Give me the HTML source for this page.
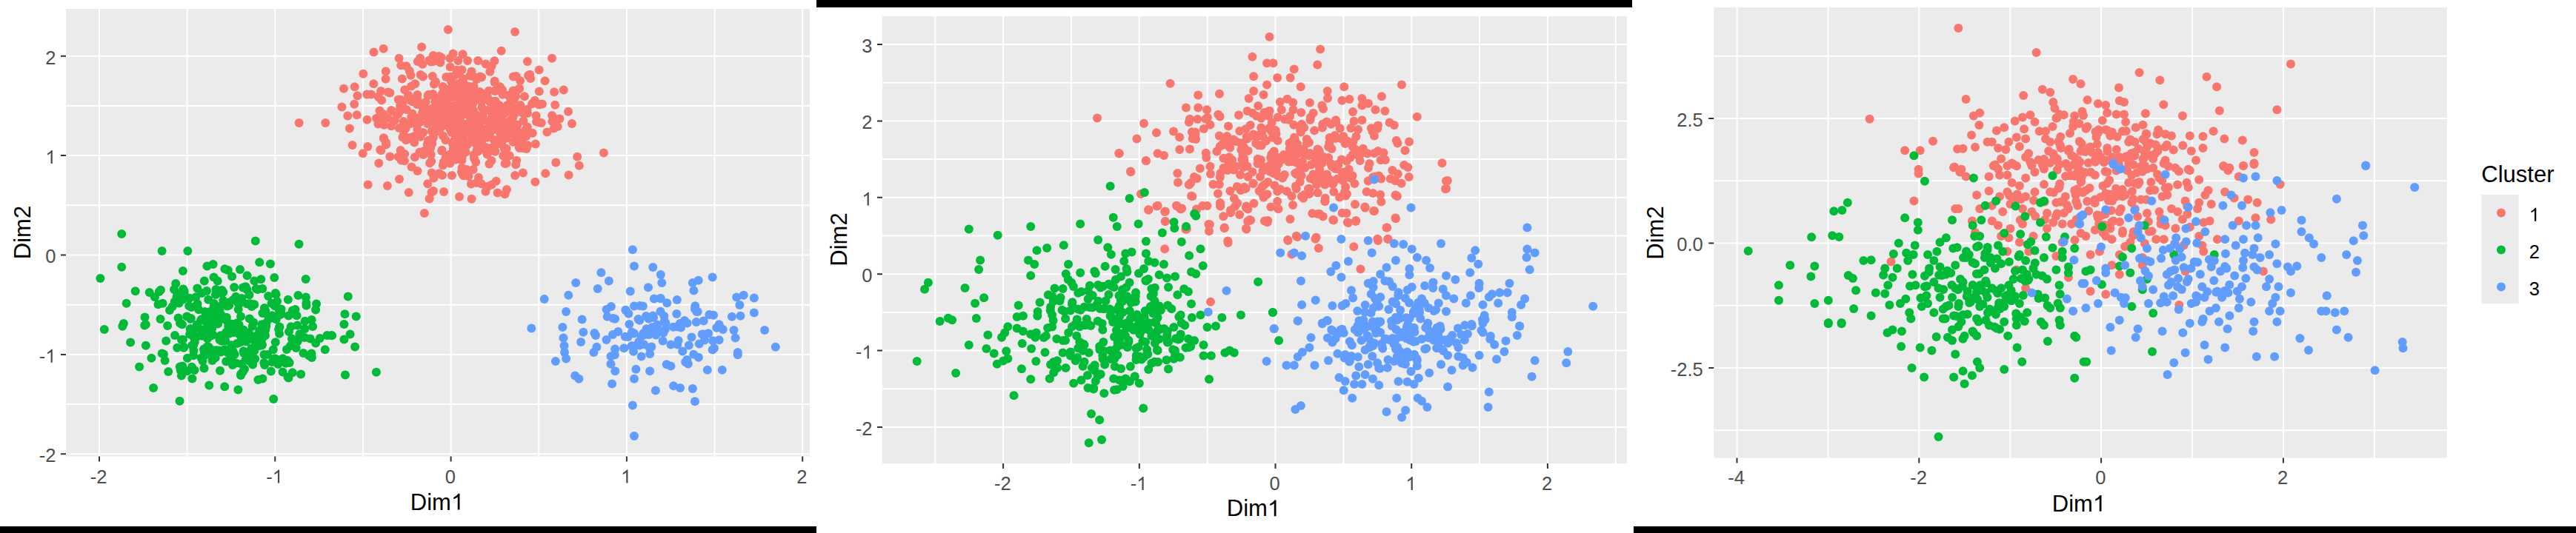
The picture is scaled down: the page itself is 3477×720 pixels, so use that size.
<!DOCTYPE html><html><head><meta charset="utf-8"><style>html,body{margin:0;padding:0;background:#fff;overflow:hidden}svg{display:block}</style></head><body>
<svg width="3477" height="720" viewBox="0 0 3477 720" font-family='"Liberation Sans", sans-serif'>
<rect width="3477" height="720" fill="#fff"/>
<rect x="89" y="12" width="1004.00" height="604.50" fill="#EBEBEB"/>
<path d="M252.65 12V616.5M489.95 12V616.5M727.25 12V616.5M964.55 12V616.5M89 546.10H1093M89 411.70H1093M89 277.30H1093M89 142.90H1093" stroke="#fff" stroke-width="2.0" fill="none"/>
<path d="M134.00 12V616.5M371.30 12V616.5M608.60 12V616.5M845.90 12V616.5M1083.20 12V616.5M89 613.30H1093M89 478.90H1093M89 344.50H1093M89 210.10H1093M89 75.70H1093" stroke="#fff" stroke-width="2.0" fill="none"/>
<svg x="89" y="12" width="1004.00" height="604.50" viewBox="89 12 1004.00 604.50" overflow="hidden">
<g fill="#F8766D">
<circle cx="626.1" cy="183.1" r="6"/>
<circle cx="608.5" cy="130.8" r="6"/>
<circle cx="596.9" cy="126.4" r="6"/>
<circle cx="629.8" cy="229.0" r="6"/>
<circle cx="594.5" cy="142.7" r="6"/>
<circle cx="657.3" cy="185.7" r="6"/>
<circle cx="632.7" cy="129.1" r="6"/>
<circle cx="624.1" cy="200.6" r="6"/>
<circle cx="540.0" cy="149.9" r="6"/>
<circle cx="504.3" cy="113.3" r="6"/>
<circle cx="508.1" cy="159.7" r="6"/>
<circle cx="544.9" cy="181.9" r="6"/>
<circle cx="636.0" cy="161.8" r="6"/>
<circle cx="622.9" cy="175.0" r="6"/>
<circle cx="528.1" cy="149.0" r="6"/>
<circle cx="563.4" cy="134.4" r="6"/>
<circle cx="693.9" cy="134.5" r="6"/>
<circle cx="623.9" cy="208.9" r="6"/>
<circle cx="588.6" cy="165.1" r="6"/>
<circle cx="633.1" cy="172.8" r="6"/>
<circle cx="547.6" cy="173.4" r="6"/>
<circle cx="713.0" cy="101.9" r="6"/>
<circle cx="681.0" cy="175.3" r="6"/>
<circle cx="584.9" cy="258.0" r="6"/>
<circle cx="674.8" cy="117.2" r="6"/>
<circle cx="630.8" cy="195.4" r="6"/>
<circle cx="613.9" cy="200.0" r="6"/>
<circle cx="621.7" cy="199.4" r="6"/>
<circle cx="718.1" cy="140.3" r="6"/>
<circle cx="639.0" cy="149.6" r="6"/>
<circle cx="634.1" cy="117.8" r="6"/>
<circle cx="588.9" cy="161.4" r="6"/>
<circle cx="683.5" cy="220.4" r="6"/>
<circle cx="541.3" cy="135.0" r="6"/>
<circle cx="667.4" cy="82.3" r="6"/>
<circle cx="596.4" cy="165.7" r="6"/>
<circle cx="706.4" cy="200.3" r="6"/>
<circle cx="605.1" cy="153.8" r="6"/>
<circle cx="610.0" cy="237.0" r="6"/>
<circle cx="598.6" cy="156.6" r="6"/>
<circle cx="648.6" cy="164.7" r="6"/>
<circle cx="613.4" cy="121.0" r="6"/>
<circle cx="625.3" cy="150.5" r="6"/>
<circle cx="700.6" cy="198.7" r="6"/>
<circle cx="624.5" cy="199.4" r="6"/>
<circle cx="604.2" cy="216.3" r="6"/>
<circle cx="625.7" cy="195.7" r="6"/>
<circle cx="543.4" cy="185.3" r="6"/>
<circle cx="606.5" cy="130.4" r="6"/>
<circle cx="636.5" cy="268.8" r="6"/>
<circle cx="572.8" cy="142.5" r="6"/>
<circle cx="639.1" cy="191.7" r="6"/>
<circle cx="614.7" cy="160.9" r="6"/>
<circle cx="671.0" cy="192.9" r="6"/>
<circle cx="559.8" cy="166.5" r="6"/>
<circle cx="628.3" cy="123.6" r="6"/>
<circle cx="642.6" cy="132.2" r="6"/>
<circle cx="688.2" cy="178.5" r="6"/>
<circle cx="631.7" cy="144.0" r="6"/>
<circle cx="618.4" cy="82.1" r="6"/>
<circle cx="553.6" cy="186.0" r="6"/>
<circle cx="489.8" cy="207.3" r="6"/>
<circle cx="514.2" cy="203.3" r="6"/>
<circle cx="571.9" cy="204.3" r="6"/>
<circle cx="634.4" cy="102.4" r="6"/>
<circle cx="705.9" cy="233.4" r="6"/>
<circle cx="621.8" cy="157.9" r="6"/>
<circle cx="615.8" cy="127.1" r="6"/>
<circle cx="696.3" cy="146.1" r="6"/>
<circle cx="622.7" cy="135.1" r="6"/>
<circle cx="585.9" cy="113.8" r="6"/>
<circle cx="706.5" cy="163.2" r="6"/>
<circle cx="687.8" cy="170.6" r="6"/>
<circle cx="581.6" cy="155.6" r="6"/>
<circle cx="590.1" cy="170.4" r="6"/>
<circle cx="602.0" cy="156.8" r="6"/>
<circle cx="537.8" cy="134.5" r="6"/>
<circle cx="731.9" cy="140.5" r="6"/>
<circle cx="558.5" cy="184.8" r="6"/>
<circle cx="716.1" cy="106.0" r="6"/>
<circle cx="612.7" cy="142.2" r="6"/>
<circle cx="513.3" cy="202.3" r="6"/>
<circle cx="624.5" cy="173.1" r="6"/>
<circle cx="577.9" cy="190.0" r="6"/>
<circle cx="591.5" cy="163.7" r="6"/>
<circle cx="555.1" cy="116.5" r="6"/>
<circle cx="711.5" cy="147.7" r="6"/>
<circle cx="644.7" cy="168.5" r="6"/>
<circle cx="597.8" cy="147.6" r="6"/>
<circle cx="666.3" cy="156.7" r="6"/>
<circle cx="616.3" cy="171.0" r="6"/>
<circle cx="701.3" cy="199.9" r="6"/>
<circle cx="650.5" cy="145.2" r="6"/>
<circle cx="537.6" cy="211.8" r="6"/>
<circle cx="687.9" cy="163.8" r="6"/>
<circle cx="660.7" cy="204.4" r="6"/>
<circle cx="679.2" cy="210.5" r="6"/>
<circle cx="596.8" cy="236.7" r="6"/>
<circle cx="546.2" cy="207.9" r="6"/>
<circle cx="657.6" cy="208.4" r="6"/>
<circle cx="552.7" cy="95.7" r="6"/>
<circle cx="678.3" cy="125.3" r="6"/>
<circle cx="625.2" cy="206.9" r="6"/>
<circle cx="642.6" cy="172.0" r="6"/>
<circle cx="610.3" cy="171.7" r="6"/>
<circle cx="570.9" cy="103.4" r="6"/>
<circle cx="615.3" cy="127.2" r="6"/>
<circle cx="520.8" cy="192.2" r="6"/>
<circle cx="622.1" cy="187.9" r="6"/>
<circle cx="562.7" cy="141.0" r="6"/>
<circle cx="562.1" cy="131.0" r="6"/>
<circle cx="638.5" cy="135.5" r="6"/>
<circle cx="648.8" cy="184.9" r="6"/>
<circle cx="682.8" cy="166.1" r="6"/>
<circle cx="625.1" cy="106.2" r="6"/>
<circle cx="596.5" cy="202.7" r="6"/>
<circle cx="620.7" cy="173.6" r="6"/>
<circle cx="607.4" cy="220.8" r="6"/>
<circle cx="624.6" cy="73.2" r="6"/>
<circle cx="581.7" cy="83.4" r="6"/>
<circle cx="711.3" cy="172.1" r="6"/>
<circle cx="551.0" cy="128.6" r="6"/>
<circle cx="698.4" cy="176.9" r="6"/>
<circle cx="629.1" cy="167.6" r="6"/>
<circle cx="628.5" cy="205.4" r="6"/>
<circle cx="661.4" cy="179.5" r="6"/>
<circle cx="559.3" cy="192.5" r="6"/>
<circle cx="582.2" cy="218.1" r="6"/>
<circle cx="544.7" cy="163.9" r="6"/>
<circle cx="625.5" cy="111.7" r="6"/>
<circle cx="736.2" cy="234.3" r="6"/>
<circle cx="596.3" cy="204.0" r="6"/>
<circle cx="642.0" cy="167.3" r="6"/>
<circle cx="631.3" cy="122.6" r="6"/>
<circle cx="608.8" cy="162.2" r="6"/>
<circle cx="702.0" cy="184.7" r="6"/>
<circle cx="625.6" cy="237.3" r="6"/>
<circle cx="590.5" cy="152.9" r="6"/>
<circle cx="687.7" cy="210.3" r="6"/>
<circle cx="668.8" cy="174.8" r="6"/>
<circle cx="639.8" cy="158.9" r="6"/>
<circle cx="613.0" cy="172.4" r="6"/>
<circle cx="722.8" cy="194.5" r="6"/>
<circle cx="622.3" cy="144.5" r="6"/>
<circle cx="585.4" cy="240.5" r="6"/>
<circle cx="658.4" cy="173.0" r="6"/>
<circle cx="603.8" cy="121.2" r="6"/>
<circle cx="621.7" cy="208.4" r="6"/>
<circle cx="600.9" cy="160.0" r="6"/>
<circle cx="611.9" cy="174.8" r="6"/>
<circle cx="524.0" cy="159.6" r="6"/>
<circle cx="571.3" cy="208.9" r="6"/>
<circle cx="576.7" cy="195.4" r="6"/>
<circle cx="723.6" cy="156.2" r="6"/>
<circle cx="587.5" cy="178.4" r="6"/>
<circle cx="625.9" cy="126.3" r="6"/>
<circle cx="655.5" cy="258.7" r="6"/>
<circle cx="609.5" cy="161.1" r="6"/>
<circle cx="559.1" cy="184.0" r="6"/>
<circle cx="546.2" cy="121.3" r="6"/>
<circle cx="707.9" cy="130.2" r="6"/>
<circle cx="695.2" cy="237.1" r="6"/>
<circle cx="642.6" cy="194.3" r="6"/>
<circle cx="750.9" cy="161.3" r="6"/>
<circle cx="588.0" cy="110.5" r="6"/>
<circle cx="628.7" cy="235.1" r="6"/>
<circle cx="687.4" cy="128.5" r="6"/>
<circle cx="571.3" cy="147.8" r="6"/>
<circle cx="644.7" cy="161.0" r="6"/>
<circle cx="639.7" cy="183.1" r="6"/>
<circle cx="606.9" cy="168.2" r="6"/>
<circle cx="639.2" cy="166.3" r="6"/>
<circle cx="658.2" cy="252.3" r="6"/>
<circle cx="663.9" cy="172.5" r="6"/>
<circle cx="518.1" cy="187.1" r="6"/>
<circle cx="680.7" cy="201.1" r="6"/>
<circle cx="616.4" cy="94.8" r="6"/>
<circle cx="602.2" cy="140.1" r="6"/>
<circle cx="639.9" cy="135.7" r="6"/>
<circle cx="551.1" cy="167.5" r="6"/>
<circle cx="614.7" cy="119.3" r="6"/>
<circle cx="633.4" cy="119.4" r="6"/>
<circle cx="697.2" cy="216.8" r="6"/>
<circle cx="695.4" cy="149.1" r="6"/>
<circle cx="658.9" cy="164.2" r="6"/>
<circle cx="601.1" cy="155.1" r="6"/>
<circle cx="542.8" cy="106.5" r="6"/>
<circle cx="676.8" cy="161.6" r="6"/>
<circle cx="639.9" cy="214.1" r="6"/>
<circle cx="515.1" cy="135.5" r="6"/>
<circle cx="637.2" cy="187.3" r="6"/>
<circle cx="601.9" cy="215.3" r="6"/>
<circle cx="639.5" cy="116.6" r="6"/>
<circle cx="566.4" cy="205.4" r="6"/>
<circle cx="655.7" cy="86.4" r="6"/>
<circle cx="712.3" cy="196.3" r="6"/>
<circle cx="712.0" cy="153.1" r="6"/>
<circle cx="607.1" cy="120.4" r="6"/>
<circle cx="727.6" cy="141.5" r="6"/>
<circle cx="636.5" cy="96.5" r="6"/>
<circle cx="601.5" cy="213.3" r="6"/>
<circle cx="545.9" cy="217.2" r="6"/>
<circle cx="647.6" cy="124.1" r="6"/>
<circle cx="593.9" cy="149.8" r="6"/>
<circle cx="622.8" cy="146.4" r="6"/>
<circle cx="573.1" cy="156.6" r="6"/>
<circle cx="560.3" cy="113.3" r="6"/>
<circle cx="622.9" cy="208.8" r="6"/>
<circle cx="528.1" cy="170.2" r="6"/>
<circle cx="584.4" cy="127.0" r="6"/>
<circle cx="680.6" cy="147.2" r="6"/>
<circle cx="721.9" cy="135.7" r="6"/>
<circle cx="650.7" cy="160.0" r="6"/>
<circle cx="577.7" cy="195.9" r="6"/>
<circle cx="616.1" cy="196.5" r="6"/>
<circle cx="623.0" cy="122.2" r="6"/>
<circle cx="619.5" cy="172.3" r="6"/>
<circle cx="687.3" cy="130.1" r="6"/>
<circle cx="623.5" cy="94.2" r="6"/>
<circle cx="667.7" cy="122.4" r="6"/>
<circle cx="510.4" cy="167.4" r="6"/>
<circle cx="696.8" cy="102.9" r="6"/>
<circle cx="556.4" cy="137.3" r="6"/>
<circle cx="553.7" cy="186.7" r="6"/>
<circle cx="574.3" cy="138.3" r="6"/>
<circle cx="663.3" cy="136.8" r="6"/>
<circle cx="653.7" cy="127.3" r="6"/>
<circle cx="548.4" cy="89.2" r="6"/>
<circle cx="745.1" cy="155.9" r="6"/>
<circle cx="641.6" cy="168.6" r="6"/>
<circle cx="636.2" cy="172.2" r="6"/>
<circle cx="748.1" cy="124.3" r="6"/>
<circle cx="526.3" cy="125.5" r="6"/>
<circle cx="540.6" cy="202.9" r="6"/>
<circle cx="678.5" cy="127.7" r="6"/>
<circle cx="537.0" cy="154.4" r="6"/>
<circle cx="659.7" cy="122.7" r="6"/>
<circle cx="692.6" cy="122.6" r="6"/>
<circle cx="607.7" cy="103.7" r="6"/>
<circle cx="563.5" cy="231.0" r="6"/>
<circle cx="678.5" cy="152.3" r="6"/>
<circle cx="570.3" cy="86.7" r="6"/>
<circle cx="600.8" cy="168.6" r="6"/>
<circle cx="620.6" cy="165.9" r="6"/>
<circle cx="554.2" cy="167.1" r="6"/>
<circle cx="623.5" cy="226.8" r="6"/>
<circle cx="745.5" cy="164.0" r="6"/>
<circle cx="577.0" cy="167.1" r="6"/>
<circle cx="587.1" cy="137.3" r="6"/>
<circle cx="622.2" cy="124.1" r="6"/>
<circle cx="664.8" cy="165.4" r="6"/>
<circle cx="642.0" cy="162.0" r="6"/>
<circle cx="579.5" cy="128.3" r="6"/>
<circle cx="610.8" cy="145.9" r="6"/>
<circle cx="641.0" cy="169.8" r="6"/>
<circle cx="538.8" cy="173.0" r="6"/>
<circle cx="540.1" cy="142.9" r="6"/>
<circle cx="607.2" cy="78.7" r="6"/>
<circle cx="631.9" cy="176.6" r="6"/>
<circle cx="615.9" cy="151.3" r="6"/>
<circle cx="602.1" cy="127.0" r="6"/>
<circle cx="608.7" cy="145.7" r="6"/>
<circle cx="631.9" cy="117.0" r="6"/>
<circle cx="641.1" cy="176.3" r="6"/>
<circle cx="616.9" cy="150.7" r="6"/>
<circle cx="661.3" cy="96.8" r="6"/>
<circle cx="655.5" cy="180.7" r="6"/>
<circle cx="644.1" cy="186.9" r="6"/>
<circle cx="584.2" cy="158.6" r="6"/>
<circle cx="666.8" cy="188.9" r="6"/>
<circle cx="639.2" cy="103.4" r="6"/>
<circle cx="660.4" cy="221.5" r="6"/>
<circle cx="690.6" cy="180.3" r="6"/>
<circle cx="526.3" cy="211.5" r="6"/>
<circle cx="650.1" cy="104.3" r="6"/>
<circle cx="543.0" cy="142.1" r="6"/>
<circle cx="707.4" cy="153.7" r="6"/>
<circle cx="643.3" cy="246.9" r="6"/>
<circle cx="728.0" cy="165.5" r="6"/>
<circle cx="610.5" cy="114.5" r="6"/>
<circle cx="581.6" cy="188.7" r="6"/>
<circle cx="651.3" cy="174.9" r="6"/>
<circle cx="689.7" cy="136.0" r="6"/>
<circle cx="622.4" cy="202.2" r="6"/>
<circle cx="663.4" cy="217.1" r="6"/>
<circle cx="651.4" cy="156.4" r="6"/>
<circle cx="649.2" cy="125.9" r="6"/>
<circle cx="521.1" cy="195.5" r="6"/>
<circle cx="622.5" cy="183.6" r="6"/>
<circle cx="517.3" cy="153.9" r="6"/>
<circle cx="587.6" cy="132.0" r="6"/>
<circle cx="481.7" cy="155.3" r="6"/>
<circle cx="683.4" cy="186.8" r="6"/>
<circle cx="587.5" cy="169.3" r="6"/>
<circle cx="618.0" cy="193.9" r="6"/>
<circle cx="669.7" cy="244.8" r="6"/>
<circle cx="698.6" cy="183.8" r="6"/>
<circle cx="645.3" cy="204.6" r="6"/>
<circle cx="591.5" cy="168.2" r="6"/>
<circle cx="684.0" cy="256.1" r="6"/>
<circle cx="615.8" cy="167.9" r="6"/>
<circle cx="638.7" cy="229.1" r="6"/>
<circle cx="624.1" cy="234.7" r="6"/>
<circle cx="564.1" cy="161.8" r="6"/>
<circle cx="613.3" cy="204.6" r="6"/>
<circle cx="692.9" cy="103.6" r="6"/>
<circle cx="567.4" cy="184.8" r="6"/>
<circle cx="583.8" cy="103.0" r="6"/>
<circle cx="692.5" cy="191.7" r="6"/>
<circle cx="657.6" cy="149.1" r="6"/>
<circle cx="691.9" cy="159.4" r="6"/>
<circle cx="696.2" cy="129.9" r="6"/>
<circle cx="571.3" cy="179.0" r="6"/>
<circle cx="581.1" cy="199.7" r="6"/>
<circle cx="642.6" cy="129.4" r="6"/>
<circle cx="630.7" cy="154.5" r="6"/>
<circle cx="684.6" cy="142.2" r="6"/>
<circle cx="597.9" cy="223.3" r="6"/>
<circle cx="630.0" cy="179.6" r="6"/>
<circle cx="724.1" cy="164.5" r="6"/>
<circle cx="563.5" cy="175.1" r="6"/>
<circle cx="654.9" cy="133.5" r="6"/>
<circle cx="520.6" cy="106.8" r="6"/>
<circle cx="668.6" cy="136.6" r="6"/>
<circle cx="617.0" cy="179.4" r="6"/>
<circle cx="665.6" cy="155.3" r="6"/>
<circle cx="657.9" cy="130.8" r="6"/>
<circle cx="602.9" cy="124.9" r="6"/>
<circle cx="698.4" cy="168.8" r="6"/>
<circle cx="578.7" cy="154.5" r="6"/>
<circle cx="611.8" cy="200.8" r="6"/>
<circle cx="523.9" cy="124.4" r="6"/>
<circle cx="687.2" cy="165.1" r="6"/>
<circle cx="671.6" cy="260.5" r="6"/>
<circle cx="611.0" cy="153.9" r="6"/>
<circle cx="703.6" cy="191.7" r="6"/>
<circle cx="669.0" cy="147.6" r="6"/>
<circle cx="662.2" cy="200.1" r="6"/>
<circle cx="496.3" cy="198.1" r="6"/>
<circle cx="613.6" cy="189.1" r="6"/>
<circle cx="669.7" cy="155.0" r="6"/>
<circle cx="517.8" cy="186.2" r="6"/>
<circle cx="578.6" cy="155.5" r="6"/>
<circle cx="587.3" cy="155.0" r="6"/>
<circle cx="642.2" cy="218.9" r="6"/>
<circle cx="752.7" cy="171.0" r="6"/>
<circle cx="510.6" cy="130.7" r="6"/>
<circle cx="548.8" cy="147.9" r="6"/>
<circle cx="631.1" cy="81.9" r="6"/>
<circle cx="647.9" cy="103.5" r="6"/>
<circle cx="645.0" cy="165.2" r="6"/>
<circle cx="605.9" cy="166.8" r="6"/>
<circle cx="591.5" cy="143.1" r="6"/>
<circle cx="518.3" cy="168.7" r="6"/>
<circle cx="710.6" cy="201.1" r="6"/>
<circle cx="582.7" cy="233.5" r="6"/>
<circle cx="622.4" cy="167.0" r="6"/>
<circle cx="607.4" cy="174.0" r="6"/>
<circle cx="598.1" cy="166.3" r="6"/>
<circle cx="556.6" cy="153.6" r="6"/>
<circle cx="772.0" cy="166.9" r="6"/>
<circle cx="610.7" cy="193.4" r="6"/>
<circle cx="671.3" cy="121.0" r="6"/>
<circle cx="612.7" cy="210.4" r="6"/>
<circle cx="643.3" cy="175.4" r="6"/>
<circle cx="725.5" cy="140.2" r="6"/>
<circle cx="631.3" cy="147.1" r="6"/>
<circle cx="583.1" cy="146.7" r="6"/>
<circle cx="668.5" cy="196.7" r="6"/>
<circle cx="715.3" cy="100.7" r="6"/>
<circle cx="674.0" cy="157.1" r="6"/>
<circle cx="583.4" cy="193.7" r="6"/>
<circle cx="567.1" cy="78.6" r="6"/>
<circle cx="602.3" cy="104.1" r="6"/>
<circle cx="584.5" cy="186.3" r="6"/>
<circle cx="646.0" cy="239.8" r="6"/>
<circle cx="613.2" cy="102.5" r="6"/>
<circle cx="577.6" cy="129.5" r="6"/>
<circle cx="548.1" cy="189.2" r="6"/>
<circle cx="584.7" cy="83.0" r="6"/>
<circle cx="670.6" cy="165.1" r="6"/>
<circle cx="648.8" cy="174.7" r="6"/>
<circle cx="666.4" cy="171.7" r="6"/>
<circle cx="705.1" cy="188.7" r="6"/>
<circle cx="651.1" cy="188.0" r="6"/>
<circle cx="532.8" cy="162.8" r="6"/>
<circle cx="609.4" cy="179.1" r="6"/>
<circle cx="539.0" cy="241.9" r="6"/>
<circle cx="632.7" cy="116.7" r="6"/>
<circle cx="516.6" cy="157.6" r="6"/>
<circle cx="620.3" cy="138.4" r="6"/>
<circle cx="631.9" cy="141.8" r="6"/>
<circle cx="661.3" cy="138.1" r="6"/>
<circle cx="623.5" cy="213.1" r="6"/>
<circle cx="596.3" cy="133.0" r="6"/>
<circle cx="676.2" cy="119.5" r="6"/>
<circle cx="595.0" cy="168.7" r="6"/>
<circle cx="563.4" cy="127.9" r="6"/>
<circle cx="595.6" cy="77.6" r="6"/>
<circle cx="533.5" cy="151.8" r="6"/>
<circle cx="635.5" cy="161.8" r="6"/>
<circle cx="512.5" cy="149.6" r="6"/>
<circle cx="677.1" cy="194.5" r="6"/>
<circle cx="621.0" cy="131.0" r="6"/>
<circle cx="666.4" cy="144.5" r="6"/>
<circle cx="551.2" cy="134.7" r="6"/>
<circle cx="718.7" cy="179.7" r="6"/>
<circle cx="700.2" cy="148.9" r="6"/>
<circle cx="686.0" cy="143.5" r="6"/>
<circle cx="675.1" cy="147.9" r="6"/>
<circle cx="620.6" cy="184.4" r="6"/>
<circle cx="703.5" cy="148.5" r="6"/>
<circle cx="514.6" cy="157.7" r="6"/>
<circle cx="627.0" cy="174.8" r="6"/>
<circle cx="710.3" cy="183.9" r="6"/>
<circle cx="678.0" cy="121.6" r="6"/>
<circle cx="681.5" cy="262.2" r="6"/>
<circle cx="675.5" cy="181.2" r="6"/>
<circle cx="635.9" cy="248.6" r="6"/>
<circle cx="566.7" cy="165.1" r="6"/>
<circle cx="655.5" cy="202.7" r="6"/>
<circle cx="598.0" cy="183.5" r="6"/>
<circle cx="608.2" cy="175.3" r="6"/>
<circle cx="617.5" cy="119.8" r="6"/>
<circle cx="624.6" cy="208.6" r="6"/>
<circle cx="564.1" cy="159.4" r="6"/>
<circle cx="668.5" cy="122.9" r="6"/>
<circle cx="637.7" cy="123.4" r="6"/>
<circle cx="755.4" cy="160.4" r="6"/>
<circle cx="673.4" cy="175.3" r="6"/>
<circle cx="632.5" cy="238.1" r="6"/>
<circle cx="541.6" cy="216.4" r="6"/>
<circle cx="622.9" cy="232.0" r="6"/>
<circle cx="638.0" cy="140.4" r="6"/>
<circle cx="643.7" cy="202.4" r="6"/>
<circle cx="628.3" cy="191.5" r="6"/>
<circle cx="592.6" cy="76.1" r="6"/>
<circle cx="683.6" cy="200.8" r="6"/>
<circle cx="635.5" cy="173.0" r="6"/>
<circle cx="692.3" cy="149.9" r="6"/>
<circle cx="580.8" cy="161.7" r="6"/>
<circle cx="702.1" cy="109.0" r="6"/>
<circle cx="702.3" cy="141.9" r="6"/>
<circle cx="555.6" cy="225.4" r="6"/>
<circle cx="619.8" cy="112.8" r="6"/>
<circle cx="603.0" cy="211.0" r="6"/>
<circle cx="702.3" cy="151.2" r="6"/>
<circle cx="652.0" cy="201.4" r="6"/>
<circle cx="584.7" cy="185.6" r="6"/>
<circle cx="624.0" cy="146.4" r="6"/>
<circle cx="594.5" cy="172.9" r="6"/>
<circle cx="627.9" cy="145.1" r="6"/>
<circle cx="598.7" cy="219.0" r="6"/>
<circle cx="639.7" cy="208.9" r="6"/>
<circle cx="702.9" cy="195.9" r="6"/>
<circle cx="677.7" cy="156.0" r="6"/>
<circle cx="500.9" cy="127.4" r="6"/>
<circle cx="668.5" cy="204.8" r="6"/>
<circle cx="673.1" cy="166.9" r="6"/>
<circle cx="655.1" cy="198.7" r="6"/>
<circle cx="621.0" cy="215.2" r="6"/>
<circle cx="559.8" cy="212.2" r="6"/>
<circle cx="611.4" cy="130.9" r="6"/>
<circle cx="649.9" cy="129.9" r="6"/>
<circle cx="567.6" cy="101.0" r="6"/>
<circle cx="624.3" cy="191.9" r="6"/>
<circle cx="691.5" cy="163.8" r="6"/>
<circle cx="693.1" cy="170.8" r="6"/>
<circle cx="620.0" cy="195.2" r="6"/>
<circle cx="693.7" cy="155.0" r="6"/>
<circle cx="610.4" cy="162.9" r="6"/>
<circle cx="631.3" cy="130.4" r="6"/>
<circle cx="691.8" cy="152.4" r="6"/>
<circle cx="655.6" cy="133.7" r="6"/>
<circle cx="649.0" cy="187.2" r="6"/>
<circle cx="599.1" cy="258.9" r="6"/>
<circle cx="649.7" cy="248.2" r="6"/>
<circle cx="687.4" cy="140.9" r="6"/>
<circle cx="601.5" cy="189.2" r="6"/>
<circle cx="629.9" cy="172.2" r="6"/>
<circle cx="607.7" cy="90.4" r="6"/>
<circle cx="611.6" cy="72.4" r="6"/>
<circle cx="649.8" cy="138.1" r="6"/>
<circle cx="580.2" cy="160.4" r="6"/>
<circle cx="643.5" cy="107.0" r="6"/>
<circle cx="514.1" cy="123.1" r="6"/>
<circle cx="495.3" cy="127.5" r="6"/>
<circle cx="727.8" cy="123.5" r="6"/>
<circle cx="667.7" cy="109.6" r="6"/>
<circle cx="645.1" cy="155.9" r="6"/>
<circle cx="622.2" cy="195.0" r="6"/>
<circle cx="738.4" cy="178.6" r="6"/>
<circle cx="634.0" cy="127.2" r="6"/>
<circle cx="663.3" cy="159.2" r="6"/>
<circle cx="679.2" cy="168.1" r="6"/>
<circle cx="607.0" cy="208.8" r="6"/>
<circle cx="603.6" cy="135.1" r="6"/>
<circle cx="609.0" cy="109.3" r="6"/>
<circle cx="699.3" cy="121.2" r="6"/>
<circle cx="570.1" cy="152.2" r="6"/>
<circle cx="690.3" cy="133.9" r="6"/>
<circle cx="581.8" cy="208.9" r="6"/>
<circle cx="681.3" cy="153.6" r="6"/>
<circle cx="554.5" cy="101.8" r="6"/>
<circle cx="674.0" cy="142.3" r="6"/>
<circle cx="656.8" cy="252.2" r="6"/>
<circle cx="701.1" cy="119.4" r="6"/>
<circle cx="681.6" cy="220.9" r="6"/>
<circle cx="578.2" cy="128.1" r="6"/>
<circle cx="619.0" cy="99.5" r="6"/>
<circle cx="555.2" cy="158.1" r="6"/>
<circle cx="611.5" cy="177.3" r="6"/>
<circle cx="643.4" cy="160.6" r="6"/>
<circle cx="626.0" cy="138.6" r="6"/>
<circle cx="634.5" cy="179.7" r="6"/>
<circle cx="567.6" cy="141.8" r="6"/>
<circle cx="676.7" cy="185.4" r="6"/>
<circle cx="582.5" cy="259.8" r="6"/>
<circle cx="676.2" cy="179.7" r="6"/>
<circle cx="612.7" cy="146.2" r="6"/>
<circle cx="612.4" cy="145.8" r="6"/>
<circle cx="673.7" cy="152.5" r="6"/>
<circle cx="597.8" cy="117.1" r="6"/>
<circle cx="622.8" cy="130.7" r="6"/>
<circle cx="614.4" cy="215.8" r="6"/>
<circle cx="649.4" cy="192.2" r="6"/>
<circle cx="648.8" cy="172.6" r="6"/>
<circle cx="617.9" cy="156.5" r="6"/>
<circle cx="674.6" cy="122.3" r="6"/>
<circle cx="711.8" cy="171.5" r="6"/>
<circle cx="578.1" cy="148.5" r="6"/>
<circle cx="582.7" cy="177.0" r="6"/>
<circle cx="580.1" cy="220.3" r="6"/>
<circle cx="579.2" cy="81.6" r="6"/>
<circle cx="623.4" cy="216.6" r="6"/>
<circle cx="667.5" cy="111.1" r="6"/>
<circle cx="577.2" cy="248.3" r="6"/>
<circle cx="646.4" cy="170.2" r="6"/>
<circle cx="709.0" cy="176.1" r="6"/>
<circle cx="648.7" cy="197.2" r="6"/>
<circle cx="604.8" cy="40.0" r="6"/>
<circle cx="695.1" cy="43.1" r="6"/>
<circle cx="504.5" cy="70.4" r="6"/>
<circle cx="517.6" cy="65.7" r="6"/>
<circle cx="569.1" cy="63.6" r="6"/>
<circle cx="584.8" cy="75.1" r="6"/>
<circle cx="594.3" cy="84.6" r="6"/>
<circle cx="538.6" cy="78.8" r="6"/>
<circle cx="541.2" cy="88.3" r="6"/>
<circle cx="563.8" cy="83.0" r="6"/>
<circle cx="645.2" cy="82.0" r="6"/>
<circle cx="676.7" cy="68.8" r="6"/>
<circle cx="663.6" cy="89.3" r="6"/>
<circle cx="711.9" cy="83.0" r="6"/>
<circle cx="745.0" cy="78.8" r="6"/>
<circle cx="727.7" cy="94.6" r="6"/>
<circle cx="735.6" cy="109.3" r="6"/>
<circle cx="760.8" cy="121.4" r="6"/>
<circle cx="767.1" cy="150.8" r="6"/>
<circle cx="749.2" cy="141.8" r="6"/>
<circle cx="747.6" cy="173.4" r="6"/>
<circle cx="730.8" cy="166.0" r="6"/>
<circle cx="403.6" cy="166.0" r="6"/>
<circle cx="439.3" cy="166.0" r="6"/>
<circle cx="490.3" cy="99.8" r="6"/>
<circle cx="520.8" cy="96.2" r="6"/>
<circle cx="464.0" cy="119.8" r="6"/>
<circle cx="478.7" cy="117.2" r="6"/>
<circle cx="482.4" cy="129.2" r="6"/>
<circle cx="461.4" cy="144.5" r="6"/>
<circle cx="469.3" cy="156.6" r="6"/>
<circle cx="478.2" cy="140.8" r="6"/>
<circle cx="471.9" cy="173.4" r="6"/>
<circle cx="475.6" cy="195.9" r="6"/>
<circle cx="495.5" cy="161.8" r="6"/>
<circle cx="511.3" cy="220.6" r="6"/>
<circle cx="496.6" cy="249.5" r="6"/>
<circle cx="522.9" cy="251.1" r="6"/>
<circle cx="551.7" cy="260.0" r="6"/>
<circle cx="579.6" cy="268.4" r="6"/>
<circle cx="572.8" cy="287.9" r="6"/>
<circle cx="620.0" cy="265.8" r="6"/>
<circle cx="663.6" cy="249.5" r="6"/>
<circle cx="722.4" cy="245.8" r="6"/>
<circle cx="767.6" cy="236.4" r="6"/>
<circle cx="779.2" cy="211.7" r="6"/>
<circle cx="781.8" cy="223.8" r="6"/>
<circle cx="814.9" cy="206.4" r="6"/>
<circle cx="750.3" cy="219.6" r="6"/>
<circle cx="696.2" cy="222.2" r="6"/>
<circle cx="592.7" cy="234.3" r="6"/>
</g>
<g fill="#00BA38">
<circle cx="281.2" cy="404.8" r="6"/>
<circle cx="321.1" cy="409.0" r="6"/>
<circle cx="314.3" cy="448.7" r="6"/>
<circle cx="310.7" cy="438.8" r="6"/>
<circle cx="344.2" cy="484.8" r="6"/>
<circle cx="288.6" cy="413.8" r="6"/>
<circle cx="219.6" cy="409.8" r="6"/>
<circle cx="350.2" cy="446.7" r="6"/>
<circle cx="257.1" cy="430.8" r="6"/>
<circle cx="319.9" cy="464.1" r="6"/>
<circle cx="282.4" cy="435.5" r="6"/>
<circle cx="208.9" cy="401.2" r="6"/>
<circle cx="297.7" cy="453.3" r="6"/>
<circle cx="295.5" cy="414.3" r="6"/>
<circle cx="314.3" cy="444.8" r="6"/>
<circle cx="313.1" cy="373.6" r="6"/>
<circle cx="309.2" cy="412.5" r="6"/>
<circle cx="285.1" cy="453.6" r="6"/>
<circle cx="356.4" cy="479.1" r="6"/>
<circle cx="288.2" cy="480.1" r="6"/>
<circle cx="388.4" cy="488.2" r="6"/>
<circle cx="401.4" cy="439.5" r="6"/>
<circle cx="307.6" cy="476.4" r="6"/>
<circle cx="236.0" cy="453.0" r="6"/>
<circle cx="286.2" cy="431.0" r="6"/>
<circle cx="213.5" cy="411.2" r="6"/>
<circle cx="316.8" cy="478.8" r="6"/>
<circle cx="377.4" cy="441.9" r="6"/>
<circle cx="306.6" cy="413.4" r="6"/>
<circle cx="342.1" cy="435.6" r="6"/>
<circle cx="354.4" cy="511.6" r="6"/>
<circle cx="316.1" cy="388.1" r="6"/>
<circle cx="266.3" cy="389.6" r="6"/>
<circle cx="246.2" cy="494.6" r="6"/>
<circle cx="331.6" cy="387.2" r="6"/>
<circle cx="357.2" cy="492.9" r="6"/>
<circle cx="296.4" cy="419.3" r="6"/>
<circle cx="297.8" cy="455.8" r="6"/>
<circle cx="356.4" cy="489.9" r="6"/>
<circle cx="390.7" cy="490.0" r="6"/>
<circle cx="399.7" cy="470.1" r="6"/>
<circle cx="226.1" cy="440.0" r="6"/>
<circle cx="336.8" cy="430.4" r="6"/>
<circle cx="372.7" cy="431.3" r="6"/>
<circle cx="262.5" cy="499.9" r="6"/>
<circle cx="358.0" cy="453.3" r="6"/>
<circle cx="373.6" cy="485.4" r="6"/>
<circle cx="277.5" cy="427.6" r="6"/>
<circle cx="258.9" cy="452.5" r="6"/>
<circle cx="389.5" cy="426.6" r="6"/>
<circle cx="290.9" cy="398.1" r="6"/>
<circle cx="332.3" cy="461.2" r="6"/>
<circle cx="275.7" cy="475.0" r="6"/>
<circle cx="288.8" cy="409.9" r="6"/>
<circle cx="328.7" cy="474.3" r="6"/>
<circle cx="280.0" cy="457.6" r="6"/>
<circle cx="275.5" cy="497.6" r="6"/>
<circle cx="314.9" cy="440.2" r="6"/>
<circle cx="361.3" cy="479.0" r="6"/>
<circle cx="394.0" cy="457.5" r="6"/>
<circle cx="282.0" cy="424.6" r="6"/>
<circle cx="348.6" cy="467.1" r="6"/>
<circle cx="401.9" cy="460.9" r="6"/>
<circle cx="381.6" cy="502.6" r="6"/>
<circle cx="327.9" cy="388.5" r="6"/>
<circle cx="247.2" cy="390.4" r="6"/>
<circle cx="413.5" cy="412.8" r="6"/>
<circle cx="391.9" cy="467.3" r="6"/>
<circle cx="420.9" cy="483.1" r="6"/>
<circle cx="311.9" cy="437.4" r="6"/>
<circle cx="323.1" cy="451.7" r="6"/>
<circle cx="286.2" cy="443.8" r="6"/>
<circle cx="333.5" cy="410.5" r="6"/>
<circle cx="329.2" cy="476.9" r="6"/>
<circle cx="314.5" cy="474.4" r="6"/>
<circle cx="222.6" cy="487.1" r="6"/>
<circle cx="281.8" cy="468.7" r="6"/>
<circle cx="272.6" cy="453.4" r="6"/>
<circle cx="411.2" cy="455.9" r="6"/>
<circle cx="333.5" cy="391.3" r="6"/>
<circle cx="319.7" cy="436.6" r="6"/>
<circle cx="220.9" cy="478.6" r="6"/>
<circle cx="393.8" cy="465.6" r="6"/>
<circle cx="258.9" cy="495.8" r="6"/>
<circle cx="243.9" cy="437.0" r="6"/>
<circle cx="334.7" cy="478.6" r="6"/>
<circle cx="343.0" cy="459.7" r="6"/>
<circle cx="272.3" cy="396.0" r="6"/>
<circle cx="321.7" cy="418.0" r="6"/>
<circle cx="239.5" cy="396.9" r="6"/>
<circle cx="288.6" cy="374.6" r="6"/>
<circle cx="237.2" cy="382.9" r="6"/>
<circle cx="328.9" cy="460.5" r="6"/>
<circle cx="277.2" cy="479.7" r="6"/>
<circle cx="305.0" cy="432.6" r="6"/>
<circle cx="420.6" cy="432.1" r="6"/>
<circle cx="248.6" cy="395.0" r="6"/>
<circle cx="338.1" cy="456.6" r="6"/>
<circle cx="235.7" cy="407.6" r="6"/>
<circle cx="350.1" cy="466.9" r="6"/>
<circle cx="279.4" cy="468.6" r="6"/>
<circle cx="352.3" cy="377.2" r="6"/>
<circle cx="299.3" cy="460.8" r="6"/>
<circle cx="301.0" cy="473.6" r="6"/>
<circle cx="375.4" cy="491.9" r="6"/>
<circle cx="377.0" cy="450.7" r="6"/>
<circle cx="248.3" cy="468.8" r="6"/>
<circle cx="427.1" cy="410.4" r="6"/>
<circle cx="406.1" cy="505.4" r="6"/>
<circle cx="411.3" cy="444.2" r="6"/>
<circle cx="245.9" cy="438.3" r="6"/>
<circle cx="323.5" cy="407.3" r="6"/>
<circle cx="308.1" cy="440.9" r="6"/>
<circle cx="315.3" cy="490.9" r="6"/>
<circle cx="271.2" cy="432.2" r="6"/>
<circle cx="372.6" cy="397.8" r="6"/>
<circle cx="301.3" cy="394.8" r="6"/>
<circle cx="325.0" cy="507.0" r="6"/>
<circle cx="272.9" cy="453.6" r="6"/>
<circle cx="264.2" cy="401.3" r="6"/>
<circle cx="243.8" cy="500.3" r="6"/>
<circle cx="275.0" cy="471.8" r="6"/>
<circle cx="297.9" cy="475.5" r="6"/>
<circle cx="335.5" cy="455.6" r="6"/>
<circle cx="354.4" cy="423.0" r="6"/>
<circle cx="293.7" cy="379.6" r="6"/>
<circle cx="291.5" cy="391.0" r="6"/>
<circle cx="309.3" cy="408.6" r="6"/>
<circle cx="324.1" cy="462.2" r="6"/>
<circle cx="232.8" cy="414.1" r="6"/>
<circle cx="261.4" cy="473.4" r="6"/>
<circle cx="420.4" cy="477.4" r="6"/>
<circle cx="297.0" cy="500.7" r="6"/>
<circle cx="227.2" cy="502.0" r="6"/>
<circle cx="256.1" cy="451.4" r="6"/>
<circle cx="305.1" cy="448.9" r="6"/>
<circle cx="229.0" cy="419.1" r="6"/>
<circle cx="346.1" cy="453.5" r="6"/>
<circle cx="390.0" cy="448.0" r="6"/>
<circle cx="333.6" cy="372.2" r="6"/>
<circle cx="242.8" cy="495.5" r="6"/>
<circle cx="261.4" cy="465.2" r="6"/>
<circle cx="314.3" cy="405.3" r="6"/>
<circle cx="297.1" cy="425.5" r="6"/>
<circle cx="288.8" cy="473.6" r="6"/>
<circle cx="357.1" cy="423.1" r="6"/>
<circle cx="263.6" cy="455.7" r="6"/>
<circle cx="312.0" cy="484.1" r="6"/>
<circle cx="315.9" cy="438.5" r="6"/>
<circle cx="266.6" cy="410.5" r="6"/>
<circle cx="257.8" cy="430.0" r="6"/>
<circle cx="292.4" cy="473.3" r="6"/>
<circle cx="294.1" cy="437.5" r="6"/>
<circle cx="244.9" cy="507.5" r="6"/>
<circle cx="348.4" cy="513.0" r="6"/>
<circle cx="365.8" cy="501.6" r="6"/>
<circle cx="303.1" cy="472.3" r="6"/>
<circle cx="388.6" cy="509.5" r="6"/>
<circle cx="343.3" cy="474.1" r="6"/>
<circle cx="394.8" cy="419.5" r="6"/>
<circle cx="343.0" cy="411.3" r="6"/>
<circle cx="276.5" cy="421.0" r="6"/>
<circle cx="309.2" cy="450.7" r="6"/>
<circle cx="345.8" cy="389.9" r="6"/>
<circle cx="362.6" cy="431.1" r="6"/>
<circle cx="312.5" cy="466.3" r="6"/>
<circle cx="343.3" cy="379.6" r="6"/>
<circle cx="204.4" cy="483.7" r="6"/>
<circle cx="340.7" cy="440.7" r="6"/>
<circle cx="402.4" cy="398.9" r="6"/>
<circle cx="328.0" cy="502.1" r="6"/>
<circle cx="305.9" cy="428.7" r="6"/>
<circle cx="325.1" cy="427.6" r="6"/>
<circle cx="413.4" cy="409.6" r="6"/>
<circle cx="371.8" cy="396.1" r="6"/>
<circle cx="359.3" cy="440.9" r="6"/>
<circle cx="252.2" cy="427.6" r="6"/>
<circle cx="412.9" cy="401.4" r="6"/>
<circle cx="252.6" cy="501.3" r="6"/>
<circle cx="325.2" cy="505.2" r="6"/>
<circle cx="338.0" cy="410.5" r="6"/>
<circle cx="313.9" cy="493.0" r="6"/>
<circle cx="376.1" cy="445.0" r="6"/>
<circle cx="321.0" cy="440.6" r="6"/>
<circle cx="282.3" cy="520.5" r="6"/>
<circle cx="318.4" cy="400.8" r="6"/>
<circle cx="288.6" cy="473.4" r="6"/>
<circle cx="357.6" cy="439.6" r="6"/>
<circle cx="276.8" cy="445.9" r="6"/>
<circle cx="214.8" cy="394.1" r="6"/>
<circle cx="367.3" cy="426.3" r="6"/>
<circle cx="341.1" cy="492.6" r="6"/>
<circle cx="358.1" cy="445.8" r="6"/>
<circle cx="296.1" cy="473.6" r="6"/>
<circle cx="343.2" cy="411.6" r="6"/>
<circle cx="322.5" cy="438.6" r="6"/>
<circle cx="196.7" cy="438.3" r="6"/>
<circle cx="300.5" cy="427.9" r="6"/>
<circle cx="216.5" cy="431.1" r="6"/>
<circle cx="315.6" cy="449.0" r="6"/>
<circle cx="248.0" cy="469.7" r="6"/>
<circle cx="243.0" cy="436.3" r="6"/>
<circle cx="398.5" cy="418.0" r="6"/>
<circle cx="286.5" cy="486.9" r="6"/>
<circle cx="294.3" cy="433.4" r="6"/>
<circle cx="331.6" cy="486.0" r="6"/>
<circle cx="255.9" cy="402.7" r="6"/>
<circle cx="265.3" cy="412.3" r="6"/>
<circle cx="336.6" cy="410.3" r="6"/>
<circle cx="325.5" cy="460.6" r="6"/>
<circle cx="273.1" cy="450.1" r="6"/>
<circle cx="418.7" cy="457.5" r="6"/>
<circle cx="278.8" cy="442.5" r="6"/>
<circle cx="261.7" cy="455.5" r="6"/>
<circle cx="370.9" cy="413.2" r="6"/>
<circle cx="305.2" cy="488.2" r="6"/>
<circle cx="287.5" cy="452.3" r="6"/>
<circle cx="255.2" cy="413.2" r="6"/>
<circle cx="293.5" cy="424.9" r="6"/>
<circle cx="284.2" cy="438.7" r="6"/>
<circle cx="357.4" cy="452.2" r="6"/>
<circle cx="441.5" cy="453.1" r="6"/>
<circle cx="404.8" cy="455.5" r="6"/>
<circle cx="354.3" cy="390.1" r="6"/>
<circle cx="310.4" cy="442.4" r="6"/>
<circle cx="303.4" cy="363.2" r="6"/>
<circle cx="370.8" cy="430.3" r="6"/>
<circle cx="291.7" cy="435.3" r="6"/>
<circle cx="304.3" cy="460.5" r="6"/>
<circle cx="241.7" cy="409.6" r="6"/>
<circle cx="335.4" cy="450.5" r="6"/>
<circle cx="295.4" cy="423.2" r="6"/>
<circle cx="267.9" cy="442.8" r="6"/>
<circle cx="388.8" cy="404.8" r="6"/>
<circle cx="409.4" cy="477.1" r="6"/>
<circle cx="290.8" cy="474.8" r="6"/>
<circle cx="240.6" cy="429.4" r="6"/>
<circle cx="298.5" cy="425.4" r="6"/>
<circle cx="324.0" cy="363.9" r="6"/>
<circle cx="347.7" cy="391.1" r="6"/>
<circle cx="278.3" cy="429.3" r="6"/>
<circle cx="248.6" cy="392.9" r="6"/>
<circle cx="257.6" cy="444.5" r="6"/>
<circle cx="353.4" cy="466.4" r="6"/>
<circle cx="258.3" cy="414.9" r="6"/>
<circle cx="262.8" cy="462.1" r="6"/>
<circle cx="288.9" cy="415.2" r="6"/>
<circle cx="338.4" cy="484.2" r="6"/>
<circle cx="338.6" cy="485.0" r="6"/>
<circle cx="326.1" cy="491.7" r="6"/>
<circle cx="392.7" cy="441.2" r="6"/>
<circle cx="404.4" cy="451.3" r="6"/>
<circle cx="323.2" cy="410.0" r="6"/>
<circle cx="300.7" cy="474.5" r="6"/>
<circle cx="239.2" cy="469.7" r="6"/>
<circle cx="338.9" cy="455.5" r="6"/>
<circle cx="356.9" cy="416.0" r="6"/>
<circle cx="358.3" cy="419.8" r="6"/>
<circle cx="370.3" cy="375.0" r="6"/>
<circle cx="359.5" cy="436.0" r="6"/>
<circle cx="366.5" cy="409.8" r="6"/>
<circle cx="268.2" cy="418.2" r="6"/>
<circle cx="301.4" cy="406.1" r="6"/>
<circle cx="389.4" cy="510.6" r="6"/>
<circle cx="275.8" cy="379.4" r="6"/>
<circle cx="388.3" cy="487.1" r="6"/>
<circle cx="367.3" cy="488.9" r="6"/>
<circle cx="265.9" cy="438.6" r="6"/>
<circle cx="235.0" cy="391.1" r="6"/>
<circle cx="376.9" cy="419.5" r="6"/>
<circle cx="279.6" cy="475.3" r="6"/>
<circle cx="426.1" cy="463.5" r="6"/>
<circle cx="245.0" cy="459.1" r="6"/>
<circle cx="400.5" cy="426.3" r="6"/>
<circle cx="271.6" cy="483.6" r="6"/>
<circle cx="326.4" cy="403.1" r="6"/>
<circle cx="295.2" cy="416.3" r="6"/>
<circle cx="335.8" cy="449.2" r="6"/>
<circle cx="387.0" cy="472.0" r="6"/>
<circle cx="224.2" cy="460.5" r="6"/>
<circle cx="371.8" cy="462.3" r="6"/>
<circle cx="379.8" cy="424.1" r="6"/>
<circle cx="261.0" cy="480.3" r="6"/>
<circle cx="379.5" cy="417.5" r="6"/>
<circle cx="299.6" cy="391.9" r="6"/>
<circle cx="238.5" cy="401.0" r="6"/>
<circle cx="296.4" cy="459.1" r="6"/>
<circle cx="247.1" cy="404.5" r="6"/>
<circle cx="358.7" cy="442.2" r="6"/>
<circle cx="266.4" cy="454.4" r="6"/>
<circle cx="330.0" cy="498.6" r="6"/>
<circle cx="290.7" cy="483.3" r="6"/>
<circle cx="273.5" cy="487.6" r="6"/>
<circle cx="272.2" cy="431.2" r="6"/>
<circle cx="431.8" cy="457.0" r="6"/>
<circle cx="339.7" cy="414.0" r="6"/>
<circle cx="362.1" cy="400.1" r="6"/>
<circle cx="385.7" cy="490.8" r="6"/>
<circle cx="283.6" cy="421.1" r="6"/>
<circle cx="328.6" cy="445.5" r="6"/>
<circle cx="259.3" cy="466.6" r="6"/>
<circle cx="195.5" cy="428.6" r="6"/>
<circle cx="293.8" cy="434.6" r="6"/>
<circle cx="336.4" cy="398.3" r="6"/>
<circle cx="353.3" cy="438.2" r="6"/>
<circle cx="279.0" cy="393.1" r="6"/>
<circle cx="247.0" cy="458.7" r="6"/>
<circle cx="260.2" cy="447.4" r="6"/>
<circle cx="381.7" cy="484.2" r="6"/>
<circle cx="411.6" cy="433.7" r="6"/>
<circle cx="252.9" cy="483.8" r="6"/>
<circle cx="336.6" cy="487.7" r="6"/>
<circle cx="318.7" cy="490.4" r="6"/>
<circle cx="368.8" cy="472.2" r="6"/>
<circle cx="348.2" cy="460.1" r="6"/>
<circle cx="332.0" cy="453.6" r="6"/>
<circle cx="377.4" cy="425.5" r="6"/>
<circle cx="422.1" cy="441.0" r="6"/>
<circle cx="377.1" cy="441.6" r="6"/>
<circle cx="303.2" cy="522.2" r="6"/>
<circle cx="299.4" cy="396.5" r="6"/>
<circle cx="275.2" cy="432.9" r="6"/>
<circle cx="447.3" cy="452.9" r="6"/>
<circle cx="374.1" cy="406.9" r="6"/>
<circle cx="339.2" cy="470.5" r="6"/>
<circle cx="426.1" cy="418.5" r="6"/>
<circle cx="354.2" cy="456.5" r="6"/>
<circle cx="256.7" cy="444.3" r="6"/>
<circle cx="353.9" cy="465.5" r="6"/>
<circle cx="291.7" cy="394.1" r="6"/>
<circle cx="164.2" cy="316.1" r="6"/>
<circle cx="344.8" cy="325.4" r="6"/>
<circle cx="403.5" cy="329.7" r="6"/>
<circle cx="218.6" cy="339.0" r="6"/>
<circle cx="253.4" cy="339.0" r="6"/>
<circle cx="164.2" cy="360.7" r="6"/>
<circle cx="135.4" cy="375.9" r="6"/>
<circle cx="170.7" cy="409.7" r="6"/>
<circle cx="182.7" cy="393.3" r="6"/>
<circle cx="201.7" cy="395.0" r="6"/>
<circle cx="216.9" cy="391.7" r="6"/>
<circle cx="140.8" cy="445.0" r="6"/>
<circle cx="176.1" cy="462.4" r="6"/>
<circle cx="166.9" cy="436.9" r="6"/>
<circle cx="165.3" cy="440.7" r="6"/>
<circle cx="195.2" cy="439.6" r="6"/>
<circle cx="196.8" cy="466.8" r="6"/>
<circle cx="188.1" cy="495.6" r="6"/>
<circle cx="207.1" cy="523.9" r="6"/>
<circle cx="242.5" cy="541.8" r="6"/>
<circle cx="218.6" cy="477.6" r="6"/>
<circle cx="259.4" cy="511.4" r="6"/>
<circle cx="321.4" cy="526.6" r="6"/>
<circle cx="369.2" cy="539.1" r="6"/>
<circle cx="394.8" cy="503.2" r="6"/>
<circle cx="370.9" cy="484.2" r="6"/>
<circle cx="383.9" cy="488.5" r="6"/>
<circle cx="417.1" cy="480.4" r="6"/>
<circle cx="438.8" cy="472.2" r="6"/>
<circle cx="466.0" cy="506.5" r="6"/>
<circle cx="507.9" cy="502.7" r="6"/>
<circle cx="479.1" cy="468.4" r="6"/>
<circle cx="472.6" cy="451.5" r="6"/>
<circle cx="464.4" cy="458.6" r="6"/>
<circle cx="480.7" cy="427.6" r="6"/>
<circle cx="465.5" cy="424.3" r="6"/>
<circle cx="469.8" cy="400.4" r="6"/>
<circle cx="464.4" cy="437.9" r="6"/>
<circle cx="448.1" cy="453.2" r="6"/>
<circle cx="412.7" cy="377.0" r="6"/>
<circle cx="350.2" cy="354.2" r="6"/>
<circle cx="364.9" cy="356.4" r="6"/>
<circle cx="307.8" cy="365.1" r="6"/>
<circle cx="246.9" cy="366.1" r="6"/>
<circle cx="279.5" cy="359.6" r="6"/>
<circle cx="287.6" cy="356.9" r="6"/>
</g>
<g fill="#619CFF">
<circle cx="951.0" cy="459.4" r="6"/>
<circle cx="928.8" cy="491.5" r="6"/>
<circle cx="855.0" cy="474.7" r="6"/>
<circle cx="868.4" cy="450.2" r="6"/>
<circle cx="875.9" cy="452.0" r="6"/>
<circle cx="933.5" cy="455.5" r="6"/>
<circle cx="872.6" cy="444.3" r="6"/>
<circle cx="896.4" cy="426.9" r="6"/>
<circle cx="855.9" cy="450.5" r="6"/>
<circle cx="852.8" cy="448.7" r="6"/>
<circle cx="943.8" cy="464.6" r="6"/>
<circle cx="895.5" cy="449.6" r="6"/>
<circle cx="894.6" cy="460.6" r="6"/>
<circle cx="947.7" cy="451.5" r="6"/>
<circle cx="913.3" cy="423.9" r="6"/>
<circle cx="967.2" cy="442.7" r="6"/>
<circle cx="877.2" cy="477.9" r="6"/>
<circle cx="940.3" cy="420.9" r="6"/>
<circle cx="863.4" cy="412.9" r="6"/>
<circle cx="886.6" cy="449.2" r="6"/>
<circle cx="863.3" cy="432.8" r="6"/>
<circle cx="861.5" cy="431.1" r="6"/>
<circle cx="905.4" cy="494.4" r="6"/>
<circle cx="787.3" cy="448.8" r="6"/>
<circle cx="859.9" cy="465.8" r="6"/>
<circle cx="834.3" cy="447.9" r="6"/>
<circle cx="830.1" cy="471.5" r="6"/>
<circle cx="884.8" cy="447.5" r="6"/>
<circle cx="897.8" cy="445.1" r="6"/>
<circle cx="805.4" cy="468.7" r="6"/>
<circle cx="893.8" cy="447.7" r="6"/>
<circle cx="927.3" cy="486.1" r="6"/>
<circle cx="827.6" cy="430.1" r="6"/>
<circle cx="844.6" cy="418.9" r="6"/>
<circle cx="849.4" cy="438.1" r="6"/>
<circle cx="804.0" cy="452.9" r="6"/>
<circle cx="818.6" cy="418.1" r="6"/>
<circle cx="924.0" cy="432.9" r="6"/>
<circle cx="876.6" cy="469.6" r="6"/>
<circle cx="919.0" cy="442.6" r="6"/>
<circle cx="882.1" cy="428.9" r="6"/>
<circle cx="963.9" cy="470.2" r="6"/>
<circle cx="827.0" cy="452.1" r="6"/>
<circle cx="914.3" cy="465.4" r="6"/>
<circle cx="854.1" cy="449.5" r="6"/>
<circle cx="818.5" cy="459.0" r="6"/>
<circle cx="847.7" cy="455.1" r="6"/>
<circle cx="819.7" cy="427.7" r="6"/>
<circle cx="862.4" cy="461.6" r="6"/>
<circle cx="872.1" cy="427.1" r="6"/>
<circle cx="917.8" cy="436.9" r="6"/>
<circle cx="856.0" cy="413.4" r="6"/>
<circle cx="842.3" cy="470.2" r="6"/>
<circle cx="802.4" cy="450.0" r="6"/>
<circle cx="914.5" cy="441.4" r="6"/>
<circle cx="891.5" cy="420.7" r="6"/>
<circle cx="942.9" cy="482.8" r="6"/>
<circle cx="891.3" cy="402.9" r="6"/>
<circle cx="829.8" cy="479.3" r="6"/>
<circle cx="962.2" cy="460.3" r="6"/>
<circle cx="939.9" cy="435.0" r="6"/>
<circle cx="870.9" cy="452.0" r="6"/>
<circle cx="900.3" cy="409.2" r="6"/>
<circle cx="925.2" cy="489.0" r="6"/>
<circle cx="824.9" cy="414.1" r="6"/>
<circle cx="896.8" cy="433.7" r="6"/>
<circle cx="887.5" cy="438.7" r="6"/>
<circle cx="843.8" cy="454.8" r="6"/>
<circle cx="830.1" cy="430.7" r="6"/>
<circle cx="898.5" cy="436.5" r="6"/>
<circle cx="858.4" cy="498.7" r="6"/>
<circle cx="921.3" cy="474.5" r="6"/>
<circle cx="905.4" cy="465.6" r="6"/>
<circle cx="949.9" cy="451.5" r="6"/>
<circle cx="867.8" cy="413.4" r="6"/>
<circle cx="863.5" cy="466.5" r="6"/>
<circle cx="949.7" cy="433.4" r="6"/>
<circle cx="880.3" cy="441.9" r="6"/>
<circle cx="844.5" cy="418.7" r="6"/>
<circle cx="882.9" cy="403.5" r="6"/>
<circle cx="885.3" cy="452.6" r="6"/>
<circle cx="848.4" cy="423.7" r="6"/>
<circle cx="908.8" cy="441.8" r="6"/>
<circle cx="824.5" cy="481.2" r="6"/>
<circle cx="963.0" cy="425.8" r="6"/>
<circle cx="865.7" cy="481.4" r="6"/>
<circle cx="852.6" cy="467.2" r="6"/>
<circle cx="874.0" cy="448.1" r="6"/>
<circle cx="971.9" cy="442.5" r="6"/>
<circle cx="879.4" cy="468.6" r="6"/>
<circle cx="956.1" cy="450.2" r="6"/>
<circle cx="929.9" cy="466.5" r="6"/>
<circle cx="865.8" cy="454.2" r="6"/>
<circle cx="881.4" cy="426.4" r="6"/>
<circle cx="938.3" cy="413.2" r="6"/>
<circle cx="936.2" cy="478.7" r="6"/>
<circle cx="875.5" cy="430.6" r="6"/>
<circle cx="869.1" cy="465.2" r="6"/>
<circle cx="915.7" cy="460.0" r="6"/>
<circle cx="927.6" cy="436.4" r="6"/>
<circle cx="853.9" cy="337.3" r="6"/>
<circle cx="856.0" cy="359.4" r="6"/>
<circle cx="881.3" cy="361.0" r="6"/>
<circle cx="891.8" cy="371.0" r="6"/>
<circle cx="893.3" cy="382.0" r="6"/>
<circle cx="811.4" cy="368.3" r="6"/>
<circle cx="821.9" cy="379.4" r="6"/>
<circle cx="777.2" cy="382.0" r="6"/>
<circle cx="806.7" cy="389.9" r="6"/>
<circle cx="767.3" cy="398.8" r="6"/>
<circle cx="734.7" cy="404.1" r="6"/>
<circle cx="764.1" cy="420.9" r="6"/>
<circle cx="785.6" cy="431.4" r="6"/>
<circle cx="717.3" cy="443.5" r="6"/>
<circle cx="759.4" cy="441.9" r="6"/>
<circle cx="760.4" cy="456.6" r="6"/>
<circle cx="761.5" cy="467.1" r="6"/>
<circle cx="762.0" cy="476.0" r="6"/>
<circle cx="749.9" cy="488.1" r="6"/>
<circle cx="764.1" cy="484.5" r="6"/>
<circle cx="784.1" cy="461.9" r="6"/>
<circle cx="801.4" cy="476.0" r="6"/>
<circle cx="776.2" cy="507.6" r="6"/>
<circle cx="781.4" cy="511.8" r="6"/>
<circle cx="826.1" cy="518.6" r="6"/>
<circle cx="830.3" cy="501.3" r="6"/>
<circle cx="824.5" cy="491.8" r="6"/>
<circle cx="856.0" cy="511.8" r="6"/>
<circle cx="853.9" cy="547.5" r="6"/>
<circle cx="856.0" cy="589.0" r="6"/>
<circle cx="884.9" cy="527.5" r="6"/>
<circle cx="877.1" cy="501.3" r="6"/>
<circle cx="899.7" cy="492.3" r="6"/>
<circle cx="909.1" cy="521.2" r="6"/>
<circle cx="918.0" cy="523.9" r="6"/>
<circle cx="934.9" cy="524.9" r="6"/>
<circle cx="938.0" cy="542.2" r="6"/>
<circle cx="954.8" cy="499.7" r="6"/>
<circle cx="974.8" cy="499.7" r="6"/>
<circle cx="961.7" cy="472.4" r="6"/>
<circle cx="995.8" cy="476.0" r="6"/>
<circle cx="995.8" cy="479.2" r="6"/>
<circle cx="1017.9" cy="422.5" r="6"/>
<circle cx="1017.9" cy="402.5" r="6"/>
<circle cx="1032.1" cy="446.1" r="6"/>
<circle cx="1046.8" cy="468.7" r="6"/>
<circle cx="1003.7" cy="398.8" r="6"/>
<circle cx="994.2" cy="401.4" r="6"/>
<circle cx="998.4" cy="411.9" r="6"/>
<circle cx="987.9" cy="427.7" r="6"/>
<circle cx="999.5" cy="426.7" r="6"/>
<circle cx="961.7" cy="374.6" r="6"/>
<circle cx="934.9" cy="382.0" r="6"/>
<circle cx="942.7" cy="378.8" r="6"/>
<circle cx="936.4" cy="392.5" r="6"/>
<circle cx="913.8" cy="405.1" r="6"/>
<circle cx="891.8" cy="403.0" r="6"/>
<circle cx="875.0" cy="388.3" r="6"/>
<circle cx="850.8" cy="393.6" r="6"/>
<circle cx="992.6" cy="456.6" r="6"/>
<circle cx="990.5" cy="446.1" r="6"/>
<circle cx="970.6" cy="459.2" r="6"/>
<circle cx="970.6" cy="438.2" r="6"/>
<circle cx="975.8" cy="445.0" r="6"/>
<circle cx="938.0" cy="417.2" r="6"/>
<circle cx="941.7" cy="420.9" r="6"/>
<circle cx="957.4" cy="425.1" r="6"/>
</g>
</svg>
<path d="M134.00 616.5v7M371.30 616.5v7M608.60 616.5v7M845.90 616.5v7M1083.20 616.5v7M89 613.30h-7M89 478.90h-7M89 344.50h-7M89 210.10h-7M89 75.70h-7" stroke="#333" stroke-width="2" fill="none"/>
<text x="133.20" y="652.50" font-size="25.5" fill="#4D4D4D" text-anchor="middle">-2</text>
<text x="359.16" y="652.50" font-size="25.5" fill="#4D4D4D">-</text><path transform="translate(367.65 652.50) scale(0.01245 -0.01245)" d="M763 0H583V1147Q518 1085 412 1023Q306 961 222 930V1104Q372 1175 484 1276Q596 1377 643 1440H763Z" fill="#4D4D4D"/>
<text x="607.80" y="652.50" font-size="25.5" fill="#4D4D4D" text-anchor="middle">0</text>
<path transform="translate(838.01 652.50) scale(0.01245 -0.01245)" d="M763 0H583V1147Q518 1085 412 1023Q306 961 222 930V1104Q372 1175 484 1276Q596 1377 643 1440H763Z" fill="#4D4D4D"/>
<text x="1082.40" y="652.50" font-size="25.5" fill="#4D4D4D" text-anchor="middle">2</text>
<text x="75.50" y="624.10" font-size="25.5" fill="#4D4D4D" text-anchor="end">-2</text>
<text x="52.83" y="489.70" font-size="25.5" fill="#4D4D4D">-</text><path transform="translate(61.32 489.70) scale(0.01245 -0.01245)" d="M763 0H583V1147Q518 1085 412 1023Q306 961 222 930V1104Q372 1175 484 1276Q596 1377 643 1440H763Z" fill="#4D4D4D"/>
<text x="75.50" y="355.30" font-size="25.5" fill="#4D4D4D" text-anchor="end">0</text>
<path transform="translate(61.32 220.90) scale(0.01245 -0.01245)" d="M763 0H583V1147Q518 1085 412 1023Q306 961 222 930V1104Q372 1175 484 1276Q596 1377 643 1440H763Z" fill="#4D4D4D"/>
<text x="75.50" y="86.50" font-size="25.5" fill="#4D4D4D" text-anchor="end">2</text>
<text x="553.83" y="688.50" font-size="31" fill="#000">Dim</text><path transform="translate(608.93 688.50) scale(0.01514 -0.01514)" d="M763 0H583V1147Q518 1085 412 1023Q306 961 222 930V1104Q372 1175 484 1276Q596 1377 643 1440H763Z" fill="#000"/>
<text transform="translate(41.2 314) rotate(-90)" font-size="31" fill="#000" text-anchor="middle">Dim2</text>
<rect x="1191" y="22" width="1005.00" height="604.00" fill="#EBEBEB"/>
<path d="M1262.25 22V626M1445.95 22V626M1629.65 22V626M1813.35 22V626M1997.05 22V626M2180.75 22V626M1191 525.30H2196M1191 421.90H2196M1191 318.50H2196M1191 215.10H2196M1191 111.70H2196" stroke="#fff" stroke-width="2.0" fill="none"/>
<path d="M1354.10 22V626M1537.80 22V626M1721.50 22V626M1905.20 22V626M2088.90 22V626M1191 577.00H2196M1191 473.60H2196M1191 370.20H2196M1191 266.80H2196M1191 163.40H2196M1191 60.00H2196" stroke="#fff" stroke-width="2.0" fill="none"/>
<svg x="1191" y="22" width="1005.00" height="604.00" viewBox="1191 22 1005.00 604.00" overflow="hidden">
<g fill="#F8766D">
<circle cx="1756.3" cy="152.1" r="6"/>
<circle cx="1797.6" cy="224.4" r="6"/>
<circle cx="1705.6" cy="266.8" r="6"/>
<circle cx="1741.1" cy="156.9" r="6"/>
<circle cx="1697.6" cy="221.1" r="6"/>
<circle cx="1718.4" cy="232.7" r="6"/>
<circle cx="1788.3" cy="272.1" r="6"/>
<circle cx="1661.0" cy="284.0" r="6"/>
<circle cx="1665.3" cy="229.6" r="6"/>
<circle cx="1828.4" cy="248.0" r="6"/>
<circle cx="1664.8" cy="188.5" r="6"/>
<circle cx="1701.9" cy="215.9" r="6"/>
<circle cx="1827.5" cy="163.7" r="6"/>
<circle cx="1774.4" cy="243.6" r="6"/>
<circle cx="1781.5" cy="237.6" r="6"/>
<circle cx="1856.4" cy="238.5" r="6"/>
<circle cx="1804.8" cy="241.7" r="6"/>
<circle cx="1838.0" cy="207.0" r="6"/>
<circle cx="1716.1" cy="177.3" r="6"/>
<circle cx="1592.2" cy="202.0" r="6"/>
<circle cx="1684.4" cy="238.8" r="6"/>
<circle cx="1623.2" cy="278.1" r="6"/>
<circle cx="1759.2" cy="207.6" r="6"/>
<circle cx="1682.7" cy="184.9" r="6"/>
<circle cx="1649.9" cy="195.1" r="6"/>
<circle cx="1738.5" cy="210.6" r="6"/>
<circle cx="1627.7" cy="206.8" r="6"/>
<circle cx="1668.3" cy="224.7" r="6"/>
<circle cx="1883.4" cy="244.3" r="6"/>
<circle cx="1713.6" cy="149.8" r="6"/>
<circle cx="1794.6" cy="185.9" r="6"/>
<circle cx="1742.9" cy="191.9" r="6"/>
<circle cx="1745.1" cy="276.9" r="6"/>
<circle cx="1684.6" cy="203.7" r="6"/>
<circle cx="1675.1" cy="254.7" r="6"/>
<circle cx="1658.0" cy="170.4" r="6"/>
<circle cx="1629.8" cy="158.8" r="6"/>
<circle cx="1660.4" cy="258.0" r="6"/>
<circle cx="1757.6" cy="171.7" r="6"/>
<circle cx="1716.4" cy="208.2" r="6"/>
<circle cx="1684.1" cy="299.1" r="6"/>
<circle cx="1589.3" cy="234.0" r="6"/>
<circle cx="1763.9" cy="193.7" r="6"/>
<circle cx="1749.7" cy="254.9" r="6"/>
<circle cx="1749.9" cy="235.5" r="6"/>
<circle cx="1792.0" cy="132.7" r="6"/>
<circle cx="1814.5" cy="260.6" r="6"/>
<circle cx="1628.2" cy="213.0" r="6"/>
<circle cx="1674.7" cy="193.3" r="6"/>
<circle cx="1813.4" cy="184.2" r="6"/>
<circle cx="1727.9" cy="137.8" r="6"/>
<circle cx="1725.6" cy="221.8" r="6"/>
<circle cx="1683.0" cy="187.8" r="6"/>
<circle cx="1656.1" cy="184.0" r="6"/>
<circle cx="1763.9" cy="187.9" r="6"/>
<circle cx="1704.6" cy="262.7" r="6"/>
<circle cx="1666.9" cy="279.0" r="6"/>
<circle cx="1848.5" cy="220.9" r="6"/>
<circle cx="1788.4" cy="249.5" r="6"/>
<circle cx="1859.2" cy="173.8" r="6"/>
<circle cx="1830.1" cy="202.2" r="6"/>
<circle cx="1678.1" cy="222.3" r="6"/>
<circle cx="1721.3" cy="176.5" r="6"/>
<circle cx="1613.4" cy="178.4" r="6"/>
<circle cx="1788.7" cy="267.8" r="6"/>
<circle cx="1697.7" cy="214.8" r="6"/>
<circle cx="1760.1" cy="172.6" r="6"/>
<circle cx="1660.8" cy="222.1" r="6"/>
<circle cx="1713.0" cy="173.3" r="6"/>
<circle cx="1768.1" cy="206.9" r="6"/>
<circle cx="1817.7" cy="217.8" r="6"/>
<circle cx="1714.6" cy="223.4" r="6"/>
<circle cx="1724.6" cy="189.9" r="6"/>
<circle cx="1706.6" cy="249.5" r="6"/>
<circle cx="1788.4" cy="272.0" r="6"/>
<circle cx="1605.9" cy="201.5" r="6"/>
<circle cx="1705.7" cy="225.2" r="6"/>
<circle cx="1702.7" cy="196.4" r="6"/>
<circle cx="1799.1" cy="225.5" r="6"/>
<circle cx="1647.0" cy="274.0" r="6"/>
<circle cx="1815.7" cy="193.9" r="6"/>
<circle cx="1802.8" cy="187.1" r="6"/>
<circle cx="1825.8" cy="208.9" r="6"/>
<circle cx="1675.4" cy="202.3" r="6"/>
<circle cx="1678.3" cy="226.1" r="6"/>
<circle cx="1751.7" cy="219.5" r="6"/>
<circle cx="1745.2" cy="138.4" r="6"/>
<circle cx="1757.0" cy="265.5" r="6"/>
<circle cx="1759.4" cy="201.6" r="6"/>
<circle cx="1724.0" cy="212.4" r="6"/>
<circle cx="1695.2" cy="193.5" r="6"/>
<circle cx="1665.9" cy="267.9" r="6"/>
<circle cx="1736.8" cy="258.2" r="6"/>
<circle cx="1718.5" cy="221.0" r="6"/>
<circle cx="1724.7" cy="237.4" r="6"/>
<circle cx="1802.5" cy="228.1" r="6"/>
<circle cx="1685.4" cy="185.2" r="6"/>
<circle cx="1867.4" cy="206.2" r="6"/>
<circle cx="1715.3" cy="279.5" r="6"/>
<circle cx="1822.9" cy="240.4" r="6"/>
<circle cx="1768.7" cy="241.0" r="6"/>
<circle cx="1724.7" cy="158.6" r="6"/>
<circle cx="1633.9" cy="235.1" r="6"/>
<circle cx="1768.6" cy="207.9" r="6"/>
<circle cx="1646.6" cy="157.5" r="6"/>
<circle cx="1712.4" cy="156.8" r="6"/>
<circle cx="1808.1" cy="266.4" r="6"/>
<circle cx="1691.8" cy="181.4" r="6"/>
<circle cx="1724.2" cy="258.6" r="6"/>
<circle cx="1785.7" cy="242.7" r="6"/>
<circle cx="1754.7" cy="245.8" r="6"/>
<circle cx="1850.9" cy="173.3" r="6"/>
<circle cx="1702.3" cy="159.7" r="6"/>
<circle cx="1864.3" cy="272.5" r="6"/>
<circle cx="1796.7" cy="167.7" r="6"/>
<circle cx="1751.5" cy="208.1" r="6"/>
<circle cx="1744.3" cy="210.1" r="6"/>
<circle cx="1778.6" cy="201.4" r="6"/>
<circle cx="1804.7" cy="228.1" r="6"/>
<circle cx="1715.1" cy="213.3" r="6"/>
<circle cx="1703.6" cy="252.2" r="6"/>
<circle cx="1716.8" cy="230.4" r="6"/>
<circle cx="1707.4" cy="155.6" r="6"/>
<circle cx="1808.7" cy="173.6" r="6"/>
<circle cx="1791.0" cy="235.6" r="6"/>
<circle cx="1608.8" cy="178.3" r="6"/>
<circle cx="1697.9" cy="183.5" r="6"/>
<circle cx="1645.8" cy="249.1" r="6"/>
<circle cx="1719.3" cy="234.2" r="6"/>
<circle cx="1704.4" cy="230.8" r="6"/>
<circle cx="1679.4" cy="216.9" r="6"/>
<circle cx="1783.4" cy="219.9" r="6"/>
<circle cx="1702.3" cy="172.4" r="6"/>
<circle cx="1751.1" cy="232.5" r="6"/>
<circle cx="1717.8" cy="185.7" r="6"/>
<circle cx="1714.4" cy="232.1" r="6"/>
<circle cx="1747.7" cy="188.3" r="6"/>
<circle cx="1846.0" cy="207.3" r="6"/>
<circle cx="1677.4" cy="208.8" r="6"/>
<circle cx="1751.0" cy="194.5" r="6"/>
<circle cx="1733.9" cy="161.1" r="6"/>
<circle cx="1720.4" cy="250.6" r="6"/>
<circle cx="1891.6" cy="247.7" r="6"/>
<circle cx="1759.2" cy="267.7" r="6"/>
<circle cx="1817.5" cy="287.9" r="6"/>
<circle cx="1822.4" cy="213.0" r="6"/>
<circle cx="1758.2" cy="225.5" r="6"/>
<circle cx="1761.6" cy="226.4" r="6"/>
<circle cx="1685.6" cy="132.9" r="6"/>
<circle cx="1743.3" cy="218.2" r="6"/>
<circle cx="1607.3" cy="246.9" r="6"/>
<circle cx="1805.6" cy="222.0" r="6"/>
<circle cx="1643.9" cy="261.5" r="6"/>
<circle cx="1772.4" cy="235.6" r="6"/>
<circle cx="1810.9" cy="187.8" r="6"/>
<circle cx="1691.8" cy="183.3" r="6"/>
<circle cx="1679.1" cy="213.9" r="6"/>
<circle cx="1624.8" cy="174.1" r="6"/>
<circle cx="1783.0" cy="215.0" r="6"/>
<circle cx="1767.9" cy="138.7" r="6"/>
<circle cx="1676.9" cy="194.7" r="6"/>
<circle cx="1740.5" cy="193.4" r="6"/>
<circle cx="1810.8" cy="215.6" r="6"/>
<circle cx="1739.3" cy="218.6" r="6"/>
<circle cx="1793.2" cy="198.2" r="6"/>
<circle cx="1825.5" cy="237.3" r="6"/>
<circle cx="1750.0" cy="219.8" r="6"/>
<circle cx="1778.6" cy="260.6" r="6"/>
<circle cx="1811.8" cy="233.8" r="6"/>
<circle cx="1806.4" cy="223.0" r="6"/>
<circle cx="1835.7" cy="216.9" r="6"/>
<circle cx="1746.4" cy="168.8" r="6"/>
<circle cx="1722.5" cy="180.9" r="6"/>
<circle cx="1901.8" cy="238.9" r="6"/>
<circle cx="1615.6" cy="240.9" r="6"/>
<circle cx="1706.9" cy="298.5" r="6"/>
<circle cx="1743.1" cy="203.4" r="6"/>
<circle cx="1705.5" cy="128.1" r="6"/>
<circle cx="1771.3" cy="288.3" r="6"/>
<circle cx="1772.0" cy="210.1" r="6"/>
<circle cx="1824.2" cy="240.1" r="6"/>
<circle cx="1691.8" cy="247.8" r="6"/>
<circle cx="1698.2" cy="142.9" r="6"/>
<circle cx="1896.5" cy="203.3" r="6"/>
<circle cx="1690.5" cy="232.2" r="6"/>
<circle cx="1616.3" cy="161.1" r="6"/>
<circle cx="1699.0" cy="196.2" r="6"/>
<circle cx="1743.6" cy="265.1" r="6"/>
<circle cx="1701.0" cy="238.7" r="6"/>
<circle cx="1784.9" cy="172.5" r="6"/>
<circle cx="1755.8" cy="178.4" r="6"/>
<circle cx="1821.0" cy="237.1" r="6"/>
<circle cx="1739.3" cy="161.7" r="6"/>
<circle cx="1747.0" cy="185.8" r="6"/>
<circle cx="1793.1" cy="213.0" r="6"/>
<circle cx="1674.6" cy="256.9" r="6"/>
<circle cx="1794.3" cy="193.1" r="6"/>
<circle cx="1828.6" cy="205.5" r="6"/>
<circle cx="1713.9" cy="223.2" r="6"/>
<circle cx="1679.3" cy="199.5" r="6"/>
<circle cx="1725.5" cy="282.3" r="6"/>
<circle cx="1855.0" cy="207.1" r="6"/>
<circle cx="1863.6" cy="216.2" r="6"/>
<circle cx="1767.7" cy="255.1" r="6"/>
<circle cx="1757.0" cy="167.7" r="6"/>
<circle cx="1839.8" cy="200.7" r="6"/>
<circle cx="1816.1" cy="252.4" r="6"/>
<circle cx="1800.3" cy="259.1" r="6"/>
<circle cx="1869.9" cy="216.1" r="6"/>
<circle cx="1811.1" cy="186.8" r="6"/>
<circle cx="1710.4" cy="262.4" r="6"/>
<circle cx="1768.5" cy="162.0" r="6"/>
<circle cx="1766.2" cy="210.3" r="6"/>
<circle cx="1674.1" cy="236.2" r="6"/>
<circle cx="1706.4" cy="152.0" r="6"/>
<circle cx="1651.3" cy="292.3" r="6"/>
<circle cx="1619.8" cy="227.4" r="6"/>
<circle cx="1785.6" cy="244.8" r="6"/>
<circle cx="1642.4" cy="204.5" r="6"/>
<circle cx="1749.0" cy="251.6" r="6"/>
<circle cx="1687.7" cy="169.1" r="6"/>
<circle cx="1816.2" cy="264.4" r="6"/>
<circle cx="1766.9" cy="192.4" r="6"/>
<circle cx="1769.7" cy="222.6" r="6"/>
<circle cx="1803.3" cy="165.5" r="6"/>
<circle cx="1747.1" cy="211.3" r="6"/>
<circle cx="1651.4" cy="227.1" r="6"/>
<circle cx="1740.7" cy="200.8" r="6"/>
<circle cx="1768.9" cy="158.4" r="6"/>
<circle cx="1733.8" cy="236.1" r="6"/>
<circle cx="1760.2" cy="263.2" r="6"/>
<circle cx="1644.3" cy="154.7" r="6"/>
<circle cx="1756.6" cy="237.1" r="6"/>
<circle cx="1669.8" cy="251.9" r="6"/>
<circle cx="1672.0" cy="155.6" r="6"/>
<circle cx="1793.8" cy="241.7" r="6"/>
<circle cx="1879.3" cy="229.9" r="6"/>
<circle cx="1833.0" cy="174.9" r="6"/>
<circle cx="1629.4" cy="277.9" r="6"/>
<circle cx="1853.0" cy="239.5" r="6"/>
<circle cx="1755.6" cy="225.0" r="6"/>
<circle cx="1684.3" cy="282.6" r="6"/>
<circle cx="1789.4" cy="239.2" r="6"/>
<circle cx="1767.3" cy="262.0" r="6"/>
<circle cx="1777.4" cy="249.3" r="6"/>
<circle cx="1646.8" cy="239.4" r="6"/>
<circle cx="1728.0" cy="255.5" r="6"/>
<circle cx="1812.7" cy="244.2" r="6"/>
<circle cx="1611.8" cy="239.1" r="6"/>
<circle cx="1645.7" cy="183.4" r="6"/>
<circle cx="1780.7" cy="205.6" r="6"/>
<circle cx="1798.6" cy="248.4" r="6"/>
<circle cx="1668.1" cy="191.0" r="6"/>
<circle cx="1655.0" cy="195.6" r="6"/>
<circle cx="1652.8" cy="190.3" r="6"/>
<circle cx="1721.7" cy="176.0" r="6"/>
<circle cx="1627.3" cy="160.8" r="6"/>
<circle cx="1773.4" cy="220.5" r="6"/>
<circle cx="1818.0" cy="261.9" r="6"/>
<circle cx="1711.4" cy="246.1" r="6"/>
<circle cx="1831.2" cy="209.0" r="6"/>
<circle cx="1647.3" cy="234.0" r="6"/>
<circle cx="1592.1" cy="185.3" r="6"/>
<circle cx="1796.4" cy="221.2" r="6"/>
<circle cx="1699.7" cy="257.9" r="6"/>
<circle cx="1657.0" cy="230.0" r="6"/>
<circle cx="1699.2" cy="182.4" r="6"/>
<circle cx="1774.1" cy="176.3" r="6"/>
<circle cx="1886.4" cy="193.4" r="6"/>
<circle cx="1785.3" cy="167.6" r="6"/>
<circle cx="1633.4" cy="224.7" r="6"/>
<circle cx="1790.8" cy="164.5" r="6"/>
<circle cx="1830.4" cy="184.5" r="6"/>
<circle cx="1748.2" cy="234.0" r="6"/>
<circle cx="1784.4" cy="142.5" r="6"/>
<circle cx="1864.2" cy="241.6" r="6"/>
<circle cx="1704.8" cy="175.0" r="6"/>
<circle cx="1605.9" cy="160.8" r="6"/>
<circle cx="1780.5" cy="203.7" r="6"/>
<circle cx="1649.7" cy="195.9" r="6"/>
<circle cx="1860.0" cy="204.1" r="6"/>
<circle cx="1692.4" cy="274.7" r="6"/>
<circle cx="1774.0" cy="219.9" r="6"/>
<circle cx="1690.6" cy="152.8" r="6"/>
<circle cx="1646.7" cy="197.8" r="6"/>
<circle cx="1720.9" cy="233.0" r="6"/>
<circle cx="1781.0" cy="227.4" r="6"/>
<circle cx="1755.2" cy="175.7" r="6"/>
<circle cx="1663.6" cy="190.6" r="6"/>
<circle cx="1716.6" cy="165.8" r="6"/>
<circle cx="1651.4" cy="213.8" r="6"/>
<circle cx="1747.0" cy="190.4" r="6"/>
<circle cx="1776.9" cy="208.8" r="6"/>
<circle cx="1658.4" cy="219.7" r="6"/>
<circle cx="1884.8" cy="189.7" r="6"/>
<circle cx="1829.0" cy="275.9" r="6"/>
<circle cx="1854.9" cy="183.4" r="6"/>
<circle cx="1895.2" cy="222.9" r="6"/>
<circle cx="1718.2" cy="208.3" r="6"/>
<circle cx="1784.9" cy="220.1" r="6"/>
<circle cx="1724.2" cy="271.9" r="6"/>
<circle cx="1681.6" cy="174.2" r="6"/>
<circle cx="1799.9" cy="247.6" r="6"/>
<circle cx="1823.3" cy="173.0" r="6"/>
<circle cx="1822.3" cy="238.2" r="6"/>
<circle cx="1875.5" cy="165.6" r="6"/>
<circle cx="1755.0" cy="206.3" r="6"/>
<circle cx="1614.0" cy="188.0" r="6"/>
<circle cx="1825.9" cy="198.3" r="6"/>
<circle cx="1681.6" cy="254.5" r="6"/>
<circle cx="1815.1" cy="259.4" r="6"/>
<circle cx="1676.4" cy="215.6" r="6"/>
<circle cx="1818.4" cy="190.4" r="6"/>
<circle cx="1679.6" cy="252.8" r="6"/>
<circle cx="1859.9" cy="169.6" r="6"/>
<circle cx="1659.0" cy="212.2" r="6"/>
<circle cx="1786.0" cy="211.8" r="6"/>
<circle cx="1683.4" cy="224.4" r="6"/>
<circle cx="1663.0" cy="216.0" r="6"/>
<circle cx="1801.7" cy="182.9" r="6"/>
<circle cx="1660.2" cy="199.6" r="6"/>
<circle cx="1609.7" cy="187.3" r="6"/>
<circle cx="1680.4" cy="255.1" r="6"/>
<circle cx="1704.7" cy="184.8" r="6"/>
<circle cx="1633.4" cy="168.6" r="6"/>
<circle cx="1732.8" cy="209.0" r="6"/>
<circle cx="1826.5" cy="191.6" r="6"/>
<circle cx="1820.6" cy="228.8" r="6"/>
<circle cx="1737.6" cy="133.7" r="6"/>
<circle cx="1637.4" cy="249.1" r="6"/>
<circle cx="1847.0" cy="226.7" r="6"/>
<circle cx="1797.5" cy="200.9" r="6"/>
<circle cx="1709.0" cy="190.2" r="6"/>
<circle cx="1814.0" cy="232.4" r="6"/>
<circle cx="1719.7" cy="204.2" r="6"/>
<circle cx="1781.4" cy="231.6" r="6"/>
<circle cx="1673.1" cy="290.1" r="6"/>
<circle cx="1758.0" cy="218.4" r="6"/>
<circle cx="1853.2" cy="261.0" r="6"/>
<circle cx="1731.1" cy="240.5" r="6"/>
<circle cx="1654.5" cy="191.1" r="6"/>
<circle cx="1589.9" cy="246.6" r="6"/>
<circle cx="1673.2" cy="176.9" r="6"/>
<circle cx="1722.8" cy="229.2" r="6"/>
<circle cx="1785.7" cy="292.4" r="6"/>
<circle cx="1766.0" cy="255.0" r="6"/>
<circle cx="1691.3" cy="248.0" r="6"/>
<circle cx="1750.0" cy="198.5" r="6"/>
<circle cx="1730.5" cy="215.4" r="6"/>
<circle cx="1752.9" cy="234.9" r="6"/>
<circle cx="1713.5" cy="49.7" r="6"/>
<circle cx="1782.1" cy="66.6" r="6"/>
<circle cx="1690.4" cy="76.7" r="6"/>
<circle cx="1778.2" cy="87.4" r="6"/>
<circle cx="1710.1" cy="85.2" r="6"/>
<circle cx="1718.5" cy="85.2" r="6"/>
<circle cx="1746.7" cy="93.6" r="6"/>
<circle cx="1692.1" cy="103.2" r="6"/>
<circle cx="1724.1" cy="104.9" r="6"/>
<circle cx="1741.6" cy="104.9" r="6"/>
<circle cx="1710.1" cy="114.4" r="6"/>
<circle cx="1692.1" cy="122.9" r="6"/>
<circle cx="1579.5" cy="112.8" r="6"/>
<circle cx="1645.9" cy="126.8" r="6"/>
<circle cx="1617.2" cy="128.5" r="6"/>
<circle cx="1891.9" cy="114.4" r="6"/>
<circle cx="1864.9" cy="130.2" r="6"/>
<circle cx="1838.4" cy="133.0" r="6"/>
<circle cx="1912.7" cy="157.8" r="6"/>
<circle cx="1881.8" cy="169.0" r="6"/>
<circle cx="1902.0" cy="191.6" r="6"/>
<circle cx="1946.5" cy="220.3" r="6"/>
<circle cx="1953.8" cy="243.9" r="6"/>
<circle cx="1951.0" cy="255.2" r="6"/>
<circle cx="1900.3" cy="225.9" r="6"/>
<circle cx="1883.5" cy="263.6" r="6"/>
<circle cx="1883.5" cy="294.6" r="6"/>
<circle cx="1872.2" cy="307.5" r="6"/>
<circle cx="1854.2" cy="285.0" r="6"/>
<circle cx="1842.4" cy="279.4" r="6"/>
<circle cx="1481.0" cy="159.5" r="6"/>
<circle cx="1544.0" cy="166.8" r="6"/>
<circle cx="1534.4" cy="187.6" r="6"/>
<circle cx="1560.9" cy="179.2" r="6"/>
<circle cx="1584.0" cy="177.5" r="6"/>
<circle cx="1510.8" cy="207.3" r="6"/>
<circle cx="1526.0" cy="231.5" r="6"/>
<circle cx="1546.8" cy="216.9" r="6"/>
<circle cx="1562.6" cy="207.3" r="6"/>
<circle cx="1571.0" cy="210.1" r="6"/>
<circle cx="1600.9" cy="145.4" r="6"/>
<circle cx="1604.8" cy="165.1" r="6"/>
<circle cx="1613.3" cy="182.0" r="6"/>
<circle cx="1617.2" cy="145.4" r="6"/>
<circle cx="1629.0" cy="148.2" r="6"/>
<circle cx="1604.8" cy="249.5" r="6"/>
<circle cx="1609.3" cy="265.3" r="6"/>
<circle cx="1550.2" cy="283.3" r="6"/>
<circle cx="1562.6" cy="277.7" r="6"/>
<circle cx="1572.2" cy="286.1" r="6"/>
<circle cx="1587.9" cy="277.7" r="6"/>
<circle cx="1595.2" cy="281.6" r="6"/>
<circle cx="1614.9" cy="283.3" r="6"/>
<circle cx="1572.7" cy="299.1" r="6"/>
<circle cx="1600.3" cy="309.8" r="6"/>
<circle cx="1631.3" cy="303.0" r="6"/>
<circle cx="1652.7" cy="307.5" r="6"/>
<circle cx="1681.9" cy="308.7" r="6"/>
<circle cx="1688.1" cy="297.4" r="6"/>
<circle cx="1710.6" cy="300.2" r="6"/>
<circle cx="1657.2" cy="325.5" r="6"/>
<circle cx="1738.2" cy="323.9" r="6"/>
<circle cx="1751.2" cy="319.9" r="6"/>
<circle cx="1775.4" cy="322.7" r="6"/>
<circle cx="1781.0" cy="289.0" r="6"/>
<circle cx="1800.1" cy="297.4" r="6"/>
<circle cx="1818.7" cy="300.2" r="6"/>
<circle cx="1830.0" cy="299.1" r="6"/>
<circle cx="1859.3" cy="322.7" r="6"/>
<circle cx="1873.3" cy="322.7" r="6"/>
<circle cx="1661.1" cy="287.3" r="6"/>
<circle cx="1669.5" cy="274.9" r="6"/>
<circle cx="1681.9" cy="280.5" r="6"/>
<circle cx="1647.0" cy="277.7" r="6"/>
<circle cx="1791.7" cy="122.9" r="6"/>
<circle cx="1814.2" cy="117.3" r="6"/>
<circle cx="1811.4" cy="135.8" r="6"/>
<circle cx="1821.5" cy="134.1" r="6"/>
<circle cx="1838.4" cy="142.6" r="6"/>
<circle cx="1846.9" cy="139.8" r="6"/>
<circle cx="1856.4" cy="148.2" r="6"/>
<circle cx="1869.4" cy="149.9" r="6"/>
<circle cx="1826.0" cy="151.0" r="6"/>
<circle cx="1838.4" cy="162.3" r="6"/>
<circle cx="1852.5" cy="177.5" r="6"/>
<circle cx="1803.0" cy="162.3" r="6"/>
<circle cx="1786.1" cy="147.1" r="6"/>
<circle cx="1772.6" cy="152.7" r="6"/>
<circle cx="1755.7" cy="117.3" r="6"/>
<circle cx="1683.6" cy="149.9" r="6"/>
<circle cx="1696.0" cy="156.7" r="6"/>
<circle cx="1712.9" cy="149.9" r="6"/>
<circle cx="1729.8" cy="148.2" r="6"/>
<circle cx="1745.5" cy="148.2" r="6"/>
<circle cx="1510.2" cy="207.0" r="6"/>
<circle cx="1546.9" cy="217.3" r="6"/>
<circle cx="1526.3" cy="232.2" r="6"/>
<circle cx="1539.9" cy="261.9" r="6"/>
<circle cx="1550.2" cy="283.8" r="6"/>
<circle cx="1561.4" cy="278.4" r="6"/>
<circle cx="1572.9" cy="285.5" r="6"/>
<circle cx="1588.6" cy="278.4" r="6"/>
<circle cx="1593.6" cy="282.6" r="6"/>
<circle cx="1615.0" cy="282.6" r="6"/>
<circle cx="1572.9" cy="299.1" r="6"/>
<circle cx="1601.8" cy="309.4" r="6"/>
<circle cx="1632.8" cy="303.2" r="6"/>
<circle cx="1632.0" cy="312.3" r="6"/>
<circle cx="1652.6" cy="308.2" r="6"/>
<circle cx="1682.3" cy="309.4" r="6"/>
<circle cx="1686.5" cy="297.0" r="6"/>
<circle cx="1657.6" cy="328.0" r="6"/>
<circle cx="1572.1" cy="336.3" r="6"/>
<circle cx="1634.0" cy="407.7" r="6"/>
<circle cx="1608.0" cy="264.8" r="6"/>
<circle cx="1605.1" cy="249.5" r="6"/>
<circle cx="1660.9" cy="286.7" r="6"/>
<circle cx="1669.9" cy="274.3" r="6"/>
<circle cx="1682.3" cy="278.4" r="6"/>
<circle cx="1647.2" cy="278.4" r="6"/>
<circle cx="1952.0" cy="244.5" r="6"/>
<circle cx="1952.0" cy="254.8" r="6"/>
<circle cx="1885.9" cy="265.1" r="6"/>
<circle cx="1883.9" cy="295.2" r="6"/>
<circle cx="1871.5" cy="307.6" r="6"/>
<circle cx="1873.5" cy="322.9" r="6"/>
<circle cx="1859.9" cy="325.0" r="6"/>
<circle cx="1827.3" cy="333.2" r="6"/>
<circle cx="1836.4" cy="363.4" r="6"/>
<circle cx="1779.8" cy="335.3" r="6"/>
<circle cx="1776.5" cy="320.8" r="6"/>
<circle cx="1749.7" cy="318.8" r="6"/>
<circle cx="1738.5" cy="325.0" r="6"/>
<circle cx="1743.5" cy="343.5" r="6"/>
<circle cx="1711.3" cy="298.1" r="6"/>
<circle cx="1741.4" cy="296.1" r="6"/>
<circle cx="1778.6" cy="289.0" r="6"/>
<circle cx="1799.2" cy="296.9" r="6"/>
<circle cx="1819.9" cy="301.0" r="6"/>
<circle cx="1830.2" cy="298.1" r="6"/>
<circle cx="1842.6" cy="280.8" r="6"/>
<circle cx="1855.0" cy="284.9" r="6"/>
<circle cx="1863.2" cy="263.0" r="6"/>
<circle cx="1876.8" cy="241.6" r="6"/>
<circle cx="1886.8" cy="235.0" r="6"/>
<circle cx="1861.2" cy="237.4" r="6"/>
<circle cx="1846.7" cy="244.5" r="6"/>
<circle cx="1844.6" cy="258.9" r="6"/>
<circle cx="1811.6" cy="287.8" r="6"/>
</g>
<g fill="#00BA38">
<circle cx="1474.5" cy="415.4" r="6"/>
<circle cx="1549.8" cy="377.1" r="6"/>
<circle cx="1467.9" cy="507.1" r="6"/>
<circle cx="1546.3" cy="379.0" r="6"/>
<circle cx="1560.0" cy="436.1" r="6"/>
<circle cx="1526.4" cy="409.1" r="6"/>
<circle cx="1553.6" cy="400.2" r="6"/>
<circle cx="1488.6" cy="484.8" r="6"/>
<circle cx="1438.1" cy="430.4" r="6"/>
<circle cx="1514.9" cy="391.3" r="6"/>
<circle cx="1574.9" cy="458.6" r="6"/>
<circle cx="1414.1" cy="443.1" r="6"/>
<circle cx="1458.5" cy="418.7" r="6"/>
<circle cx="1509.6" cy="416.6" r="6"/>
<circle cx="1562.9" cy="416.8" r="6"/>
<circle cx="1563.9" cy="443.2" r="6"/>
<circle cx="1556.3" cy="423.3" r="6"/>
<circle cx="1474.7" cy="398.9" r="6"/>
<circle cx="1539.7" cy="482.5" r="6"/>
<circle cx="1520.0" cy="436.6" r="6"/>
<circle cx="1528.3" cy="443.9" r="6"/>
<circle cx="1592.8" cy="482.8" r="6"/>
<circle cx="1454.8" cy="417.5" r="6"/>
<circle cx="1587.0" cy="457.3" r="6"/>
<circle cx="1491.1" cy="492.5" r="6"/>
<circle cx="1481.7" cy="433.8" r="6"/>
<circle cx="1477.3" cy="366.5" r="6"/>
<circle cx="1556.9" cy="396.6" r="6"/>
<circle cx="1470.9" cy="415.2" r="6"/>
<circle cx="1548.6" cy="442.3" r="6"/>
<circle cx="1505.9" cy="377.8" r="6"/>
<circle cx="1499.8" cy="385.9" r="6"/>
<circle cx="1523.4" cy="459.7" r="6"/>
<circle cx="1504.0" cy="526.7" r="6"/>
<circle cx="1536.7" cy="468.8" r="6"/>
<circle cx="1513.5" cy="437.3" r="6"/>
<circle cx="1563.0" cy="489.1" r="6"/>
<circle cx="1426.9" cy="487.2" r="6"/>
<circle cx="1535.8" cy="483.4" r="6"/>
<circle cx="1533.0" cy="395.2" r="6"/>
<circle cx="1520.1" cy="388.3" r="6"/>
<circle cx="1525.9" cy="430.5" r="6"/>
<circle cx="1408.8" cy="455.9" r="6"/>
<circle cx="1502.1" cy="435.0" r="6"/>
<circle cx="1522.1" cy="469.0" r="6"/>
<circle cx="1455.3" cy="395.7" r="6"/>
<circle cx="1472.2" cy="440.1" r="6"/>
<circle cx="1489.0" cy="386.8" r="6"/>
<circle cx="1476.0" cy="525.6" r="6"/>
<circle cx="1441.7" cy="377.5" r="6"/>
<circle cx="1521.5" cy="468.9" r="6"/>
<circle cx="1532.8" cy="400.2" r="6"/>
<circle cx="1564.9" cy="413.6" r="6"/>
<circle cx="1436.9" cy="420.7" r="6"/>
<circle cx="1498.5" cy="473.6" r="6"/>
<circle cx="1542.4" cy="444.1" r="6"/>
<circle cx="1561.0" cy="448.3" r="6"/>
<circle cx="1558.8" cy="388.8" r="6"/>
<circle cx="1410.5" cy="476.0" r="6"/>
<circle cx="1421.6" cy="432.9" r="6"/>
<circle cx="1499.1" cy="425.5" r="6"/>
<circle cx="1477.8" cy="500.7" r="6"/>
<circle cx="1503.9" cy="474.1" r="6"/>
<circle cx="1510.3" cy="437.6" r="6"/>
<circle cx="1538.6" cy="451.4" r="6"/>
<circle cx="1544.6" cy="428.1" r="6"/>
<circle cx="1507.9" cy="418.2" r="6"/>
<circle cx="1465.1" cy="439.3" r="6"/>
<circle cx="1496.5" cy="398.1" r="6"/>
<circle cx="1599.2" cy="439.6" r="6"/>
<circle cx="1422.0" cy="489.1" r="6"/>
<circle cx="1460.1" cy="465.3" r="6"/>
<circle cx="1504.0" cy="455.0" r="6"/>
<circle cx="1515.3" cy="422.0" r="6"/>
<circle cx="1507.5" cy="526.3" r="6"/>
<circle cx="1531.1" cy="402.9" r="6"/>
<circle cx="1537.1" cy="448.0" r="6"/>
<circle cx="1533.6" cy="470.4" r="6"/>
<circle cx="1575.8" cy="462.4" r="6"/>
<circle cx="1513.7" cy="452.1" r="6"/>
<circle cx="1586.1" cy="477.7" r="6"/>
<circle cx="1444.9" cy="419.6" r="6"/>
<circle cx="1524.8" cy="420.1" r="6"/>
<circle cx="1482.4" cy="406.8" r="6"/>
<circle cx="1489.3" cy="461.9" r="6"/>
<circle cx="1564.7" cy="445.4" r="6"/>
<circle cx="1629.5" cy="441.9" r="6"/>
<circle cx="1534.8" cy="425.0" r="6"/>
<circle cx="1515.7" cy="521.9" r="6"/>
<circle cx="1489.9" cy="474.0" r="6"/>
<circle cx="1484.4" cy="472.3" r="6"/>
<circle cx="1510.5" cy="399.3" r="6"/>
<circle cx="1561.8" cy="472.8" r="6"/>
<circle cx="1540.8" cy="485.4" r="6"/>
<circle cx="1571.1" cy="444.1" r="6"/>
<circle cx="1423.5" cy="389.6" r="6"/>
<circle cx="1586.0" cy="473.4" r="6"/>
<circle cx="1511.1" cy="427.6" r="6"/>
<circle cx="1506.9" cy="446.0" r="6"/>
<circle cx="1484.8" cy="417.0" r="6"/>
<circle cx="1468.7" cy="392.9" r="6"/>
<circle cx="1461.5" cy="473.8" r="6"/>
<circle cx="1550.5" cy="436.3" r="6"/>
<circle cx="1508.1" cy="432.8" r="6"/>
<circle cx="1438.5" cy="497.1" r="6"/>
<circle cx="1459.6" cy="439.5" r="6"/>
<circle cx="1558.0" cy="435.2" r="6"/>
<circle cx="1421.7" cy="407.0" r="6"/>
<circle cx="1511.0" cy="458.7" r="6"/>
<circle cx="1499.3" cy="485.1" r="6"/>
<circle cx="1564.6" cy="457.9" r="6"/>
<circle cx="1506.6" cy="434.9" r="6"/>
<circle cx="1538.1" cy="481.8" r="6"/>
<circle cx="1508.6" cy="463.0" r="6"/>
<circle cx="1485.5" cy="388.5" r="6"/>
<circle cx="1444.9" cy="475.6" r="6"/>
<circle cx="1531.8" cy="508.6" r="6"/>
<circle cx="1508.4" cy="479.6" r="6"/>
<circle cx="1584.4" cy="484.8" r="6"/>
<circle cx="1468.5" cy="437.6" r="6"/>
<circle cx="1512.8" cy="405.6" r="6"/>
<circle cx="1533.5" cy="486.0" r="6"/>
<circle cx="1476.1" cy="523.9" r="6"/>
<circle cx="1487.6" cy="436.9" r="6"/>
<circle cx="1490.7" cy="416.7" r="6"/>
<circle cx="1530.1" cy="445.8" r="6"/>
<circle cx="1604.7" cy="469.3" r="6"/>
<circle cx="1537.3" cy="436.1" r="6"/>
<circle cx="1420.1" cy="441.4" r="6"/>
<circle cx="1454.0" cy="483.1" r="6"/>
<circle cx="1503.2" cy="511.6" r="6"/>
<circle cx="1549.1" cy="478.4" r="6"/>
<circle cx="1518.8" cy="453.3" r="6"/>
<circle cx="1544.2" cy="481.9" r="6"/>
<circle cx="1462.4" cy="464.7" r="6"/>
<circle cx="1489.7" cy="417.3" r="6"/>
<circle cx="1418.1" cy="492.6" r="6"/>
<circle cx="1508.7" cy="457.0" r="6"/>
<circle cx="1451.7" cy="487.2" r="6"/>
<circle cx="1542.4" cy="461.0" r="6"/>
<circle cx="1533.8" cy="444.1" r="6"/>
<circle cx="1600.5" cy="469.7" r="6"/>
<circle cx="1525.8" cy="495.0" r="6"/>
<circle cx="1558.9" cy="463.5" r="6"/>
<circle cx="1524.8" cy="515.3" r="6"/>
<circle cx="1535.7" cy="441.5" r="6"/>
<circle cx="1453.7" cy="431.4" r="6"/>
<circle cx="1442.2" cy="449.4" r="6"/>
<circle cx="1520.6" cy="363.1" r="6"/>
<circle cx="1506.3" cy="471.1" r="6"/>
<circle cx="1515.2" cy="406.9" r="6"/>
<circle cx="1581.3" cy="417.3" r="6"/>
<circle cx="1431.5" cy="401.9" r="6"/>
<circle cx="1504.3" cy="484.4" r="6"/>
<circle cx="1575.1" cy="453.5" r="6"/>
<circle cx="1433.5" cy="418.8" r="6"/>
<circle cx="1451.3" cy="437.9" r="6"/>
<circle cx="1398.7" cy="449.5" r="6"/>
<circle cx="1543.8" cy="439.1" r="6"/>
<circle cx="1532.7" cy="407.5" r="6"/>
<circle cx="1417.8" cy="419.6" r="6"/>
<circle cx="1574.5" cy="486.2" r="6"/>
<circle cx="1477.6" cy="493.2" r="6"/>
<circle cx="1485.6" cy="505.5" r="6"/>
<circle cx="1534.0" cy="426.9" r="6"/>
<circle cx="1552.8" cy="414.0" r="6"/>
<circle cx="1448.9" cy="387.0" r="6"/>
<circle cx="1520.5" cy="442.9" r="6"/>
<circle cx="1500.4" cy="428.6" r="6"/>
<circle cx="1591.3" cy="428.1" r="6"/>
<circle cx="1461.6" cy="494.8" r="6"/>
<circle cx="1590.3" cy="458.6" r="6"/>
<circle cx="1400.6" cy="421.0" r="6"/>
<circle cx="1541.8" cy="445.7" r="6"/>
<circle cx="1598.2" cy="390.3" r="6"/>
<circle cx="1545.7" cy="419.9" r="6"/>
<circle cx="1584.4" cy="442.0" r="6"/>
<circle cx="1566.8" cy="419.1" r="6"/>
<circle cx="1420.4" cy="400.6" r="6"/>
<circle cx="1468.6" cy="404.0" r="6"/>
<circle cx="1577.0" cy="498.6" r="6"/>
<circle cx="1521.4" cy="403.6" r="6"/>
<circle cx="1497.9" cy="417.6" r="6"/>
<circle cx="1592.2" cy="457.6" r="6"/>
<circle cx="1534.4" cy="429.0" r="6"/>
<circle cx="1438.0" cy="459.8" r="6"/>
<circle cx="1510.8" cy="412.9" r="6"/>
<circle cx="1481.7" cy="507.7" r="6"/>
<circle cx="1447.4" cy="408.3" r="6"/>
<circle cx="1491.3" cy="417.0" r="6"/>
<circle cx="1498.6" cy="251.6" r="6"/>
<circle cx="1544.8" cy="259.9" r="6"/>
<circle cx="1524.6" cy="268.1" r="6"/>
<circle cx="1307.8" cy="309.4" r="6"/>
<circle cx="1346.7" cy="317.7" r="6"/>
<circle cx="1391.2" cy="306.1" r="6"/>
<circle cx="1458.1" cy="302.4" r="6"/>
<circle cx="1502.7" cy="293.7" r="6"/>
<circle cx="1507.7" cy="306.1" r="6"/>
<circle cx="1536.6" cy="302.4" r="6"/>
<circle cx="1612.1" cy="288.8" r="6"/>
<circle cx="1614.2" cy="291.7" r="6"/>
<circle cx="1584.5" cy="299.9" r="6"/>
<circle cx="1585.3" cy="308.2" r="6"/>
<circle cx="1601.0" cy="306.1" r="6"/>
<circle cx="1568.8" cy="314.4" r="6"/>
<circle cx="1546.9" cy="325.9" r="6"/>
<circle cx="1594.8" cy="326.8" r="6"/>
<circle cx="1620.4" cy="336.3" r="6"/>
<circle cx="1605.1" cy="345.3" r="6"/>
<circle cx="1623.7" cy="359.0" r="6"/>
<circle cx="1608.0" cy="367.2" r="6"/>
<circle cx="1614.2" cy="370.1" r="6"/>
<circle cx="1570.9" cy="356.9" r="6"/>
<circle cx="1482.1" cy="323.9" r="6"/>
<circle cx="1495.3" cy="334.2" r="6"/>
<circle cx="1499.8" cy="343.7" r="6"/>
<circle cx="1435.8" cy="331.3" r="6"/>
<circle cx="1413.1" cy="335.0" r="6"/>
<circle cx="1399.5" cy="338.3" r="6"/>
<circle cx="1387.9" cy="351.5" r="6"/>
<circle cx="1396.2" cy="356.9" r="6"/>
<circle cx="1323.1" cy="351.5" r="6"/>
<circle cx="1321.1" cy="363.9" r="6"/>
<circle cx="1391.2" cy="372.2" r="6"/>
<circle cx="1442.0" cy="356.9" r="6"/>
<circle cx="1458.1" cy="368.5" r="6"/>
<circle cx="1252.9" cy="381.7" r="6"/>
<circle cx="1248.0" cy="390.8" r="6"/>
<circle cx="1302.5" cy="389.1" r="6"/>
<circle cx="1316.1" cy="409.7" r="6"/>
<circle cx="1328.1" cy="402.3" r="6"/>
<circle cx="1374.7" cy="412.6" r="6"/>
<circle cx="1414.8" cy="398.2" r="6"/>
<circle cx="1434.6" cy="389.9" r="6"/>
<circle cx="1438.7" cy="370.1" r="6"/>
<circle cx="1446.2" cy="381.7" r="6"/>
<circle cx="1459.4" cy="394.1" r="6"/>
<circle cx="1478.8" cy="369.3" r="6"/>
<circle cx="1491.6" cy="359.8" r="6"/>
<circle cx="1505.6" cy="363.9" r="6"/>
<circle cx="1470.9" cy="385.8" r="6"/>
<circle cx="1482.1" cy="385.0" r="6"/>
<circle cx="1496.5" cy="383.7" r="6"/>
<circle cx="1503.6" cy="387.9" r="6"/>
<circle cx="1513.0" cy="373.4" r="6"/>
<circle cx="1521.3" cy="367.2" r="6"/>
<circle cx="1524.6" cy="381.7" r="6"/>
<circle cx="1521.3" cy="400.2" r="6"/>
<circle cx="1517.2" cy="352.8" r="6"/>
<circle cx="1519.2" cy="342.4" r="6"/>
<circle cx="1527.5" cy="340.4" r="6"/>
<circle cx="1546.9" cy="342.4" r="6"/>
<circle cx="1550.2" cy="352.8" r="6"/>
<circle cx="1544.0" cy="363.1" r="6"/>
<circle cx="1558.5" cy="354.8" r="6"/>
<circle cx="1537.0" cy="369.3" r="6"/>
<circle cx="1546.9" cy="379.6" r="6"/>
<circle cx="1564.7" cy="371.3" r="6"/>
<circle cx="1554.3" cy="389.9" r="6"/>
<circle cx="1575.0" cy="375.5" r="6"/>
<circle cx="1586.1" cy="373.4" r="6"/>
<circle cx="1577.0" cy="387.9" r="6"/>
<circle cx="1589.4" cy="398.2" r="6"/>
<circle cx="1603.9" cy="394.1" r="6"/>
<circle cx="1608.0" cy="410.6" r="6"/>
<circle cx="1558.5" cy="406.4" r="6"/>
<circle cx="1576.2" cy="412.6" r="6"/>
<circle cx="1430.5" cy="406.4" r="6"/>
<circle cx="1447.0" cy="410.6" r="6"/>
<circle cx="1463.5" cy="414.7" r="6"/>
<circle cx="1480.0" cy="412.6" r="6"/>
<circle cx="1492.4" cy="406.4" r="6"/>
<circle cx="1511.0" cy="414.7" r="6"/>
<circle cx="1403.6" cy="408.5" r="6"/>
<circle cx="1418.1" cy="414.7" r="6"/>
<circle cx="1268.6" cy="433.9" r="6"/>
<circle cx="1279.8" cy="429.7" r="6"/>
<circle cx="1285.1" cy="432.2" r="6"/>
<circle cx="1317.8" cy="430.1" r="6"/>
<circle cx="1333.4" cy="452.4" r="6"/>
<circle cx="1307.8" cy="466.1" r="6"/>
<circle cx="1331.4" cy="471.0" r="6"/>
<circle cx="1341.7" cy="477.6" r="6"/>
<circle cx="1352.0" cy="455.7" r="6"/>
<circle cx="1360.3" cy="441.3" r="6"/>
<circle cx="1356.2" cy="449.5" r="6"/>
<circle cx="1372.7" cy="443.4" r="6"/>
<circle cx="1380.9" cy="447.5" r="6"/>
<circle cx="1391.2" cy="451.6" r="6"/>
<circle cx="1397.4" cy="455.7" r="6"/>
<circle cx="1411.9" cy="453.7" r="6"/>
<circle cx="1380.9" cy="426.8" r="6"/>
<circle cx="1372.7" cy="428.1" r="6"/>
<circle cx="1400.3" cy="426.8" r="6"/>
<circle cx="1420.1" cy="425.6" r="6"/>
<circle cx="1237.7" cy="487.9" r="6"/>
<circle cx="1290.1" cy="504.0" r="6"/>
<circle cx="1358.2" cy="474.3" r="6"/>
<circle cx="1360.3" cy="484.6" r="6"/>
<circle cx="1345.8" cy="491.7" r="6"/>
<circle cx="1354.1" cy="487.5" r="6"/>
<circle cx="1378.9" cy="498.3" r="6"/>
<circle cx="1391.2" cy="512.3" r="6"/>
<circle cx="1398.3" cy="487.9" r="6"/>
<circle cx="1392.1" cy="471.0" r="6"/>
<circle cx="1379.7" cy="464.0" r="6"/>
<circle cx="1368.5" cy="534.2" r="6"/>
<circle cx="1416.8" cy="511.5" r="6"/>
<circle cx="1422.2" cy="503.2" r="6"/>
<circle cx="1427.2" cy="497.0" r="6"/>
<circle cx="1434.6" cy="476.4" r="6"/>
<circle cx="1444.9" cy="480.5" r="6"/>
<circle cx="1449.1" cy="517.7" r="6"/>
<circle cx="1459.4" cy="513.5" r="6"/>
<circle cx="1468.5" cy="523.9" r="6"/>
<circle cx="1478.8" cy="514.8" r="6"/>
<circle cx="1463.5" cy="488.8" r="6"/>
<circle cx="1473.8" cy="497.0" r="6"/>
<circle cx="1469.7" cy="476.4" r="6"/>
<circle cx="1488.3" cy="480.5" r="6"/>
<circle cx="1484.1" cy="468.1" r="6"/>
<circle cx="1502.7" cy="480.5" r="6"/>
<circle cx="1504.8" cy="495.0" r="6"/>
<circle cx="1513.0" cy="497.9" r="6"/>
<circle cx="1511.0" cy="513.5" r="6"/>
<circle cx="1519.2" cy="511.5" r="6"/>
<circle cx="1537.8" cy="517.7" r="6"/>
<circle cx="1533.7" cy="480.5" r="6"/>
<circle cx="1550.2" cy="499.1" r="6"/>
<circle cx="1554.3" cy="490.8" r="6"/>
<circle cx="1558.5" cy="488.8" r="6"/>
<circle cx="1548.1" cy="472.3" r="6"/>
<circle cx="1562.6" cy="473.5" r="6"/>
<circle cx="1577.0" cy="461.9" r="6"/>
<circle cx="1583.2" cy="472.3" r="6"/>
<circle cx="1593.6" cy="451.6" r="6"/>
<circle cx="1603.9" cy="457.8" r="6"/>
<circle cx="1612.1" cy="459.9" r="6"/>
<circle cx="1607.2" cy="468.1" r="6"/>
<circle cx="1624.5" cy="466.1" r="6"/>
<circle cx="1624.5" cy="480.5" r="6"/>
<circle cx="1634.8" cy="480.5" r="6"/>
<circle cx="1653.4" cy="476.4" r="6"/>
<circle cx="1659.6" cy="473.5" r="6"/>
<circle cx="1665.8" cy="476.4" r="6"/>
<circle cx="1632.0" cy="512.3" r="6"/>
<circle cx="1641.0" cy="440.5" r="6"/>
<circle cx="1649.3" cy="428.9" r="6"/>
<circle cx="1674.9" cy="425.6" r="6"/>
<circle cx="1608.8" cy="428.9" r="6"/>
<circle cx="1620.4" cy="425.6" r="6"/>
<circle cx="1593.6" cy="425.6" r="6"/>
<circle cx="1594.8" cy="436.3" r="6"/>
<circle cx="1575.8" cy="447.5" r="6"/>
<circle cx="1543.2" cy="551.5" r="6"/>
<circle cx="1490.3" cy="531.3" r="6"/>
<circle cx="1473.0" cy="559.0" r="6"/>
<circle cx="1484.1" cy="567.2" r="6"/>
<circle cx="1469.7" cy="598.2" r="6"/>
<circle cx="1487.0" cy="594.1" r="6"/>
<circle cx="1426.3" cy="457.8" r="6"/>
<circle cx="1434.6" cy="459.9" r="6"/>
<circle cx="1453.2" cy="453.7" r="6"/>
<circle cx="1457.3" cy="461.9" r="6"/>
<circle cx="1463.5" cy="466.1" r="6"/>
<circle cx="1455.2" cy="470.2" r="6"/>
<circle cx="1447.0" cy="441.3" r="6"/>
<circle cx="1457.3" cy="441.3" r="6"/>
<circle cx="1466.8" cy="431.0" r="6"/>
<circle cx="1488.3" cy="445.4" r="6"/>
<circle cx="1498.6" cy="426.8" r="6"/>
<circle cx="1508.9" cy="437.2" r="6"/>
<circle cx="1517.2" cy="449.5" r="6"/>
<circle cx="1523.4" cy="461.9" r="6"/>
<circle cx="1513.0" cy="466.1" r="6"/>
<circle cx="1527.5" cy="441.3" r="6"/>
<circle cx="1541.9" cy="435.1" r="6"/>
<circle cx="1550.2" cy="445.4" r="6"/>
<circle cx="1554.3" cy="453.7" r="6"/>
<circle cx="1546.1" cy="461.9" r="6"/>
<circle cx="1562.6" cy="428.9" r="6"/>
<circle cx="1564.7" cy="416.5" r="6"/>
<circle cx="1698.1" cy="380.7" r="6"/>
<circle cx="1717.9" cy="422.0" r="6"/>
<circle cx="1717.9" cy="422.1" r="6"/>
<circle cx="1726.1" cy="460.0" r="6"/>
</g>
<g fill="#619CFF">
<circle cx="1881.0" cy="464.1" r="6"/>
<circle cx="1904.0" cy="446.5" r="6"/>
<circle cx="1900.3" cy="438.3" r="6"/>
<circle cx="1885.9" cy="481.2" r="6"/>
<circle cx="1879.0" cy="440.4" r="6"/>
<circle cx="1905.0" cy="448.9" r="6"/>
<circle cx="1895.4" cy="481.0" r="6"/>
<circle cx="1904.5" cy="451.3" r="6"/>
<circle cx="1902.1" cy="408.9" r="6"/>
<circle cx="1858.5" cy="407.2" r="6"/>
<circle cx="1915.8" cy="419.3" r="6"/>
<circle cx="1845.6" cy="453.6" r="6"/>
<circle cx="1934.4" cy="381.6" r="6"/>
<circle cx="1999.6" cy="446.2" r="6"/>
<circle cx="1899.1" cy="483.4" r="6"/>
<circle cx="1908.9" cy="423.3" r="6"/>
<circle cx="1899.5" cy="475.5" r="6"/>
<circle cx="1845.1" cy="441.3" r="6"/>
<circle cx="1855.0" cy="443.3" r="6"/>
<circle cx="1941.9" cy="447.9" r="6"/>
<circle cx="1837.6" cy="459.7" r="6"/>
<circle cx="1911.0" cy="461.0" r="6"/>
<circle cx="1968.4" cy="481.5" r="6"/>
<circle cx="1927.8" cy="456.2" r="6"/>
<circle cx="1843.5" cy="440.2" r="6"/>
<circle cx="1917.3" cy="430.6" r="6"/>
<circle cx="1910.5" cy="415.3" r="6"/>
<circle cx="1883.2" cy="459.4" r="6"/>
<circle cx="1891.9" cy="490.5" r="6"/>
<circle cx="1929.4" cy="447.8" r="6"/>
<circle cx="1892.5" cy="449.5" r="6"/>
<circle cx="1849.0" cy="469.3" r="6"/>
<circle cx="1865.0" cy="464.3" r="6"/>
<circle cx="1912.3" cy="484.4" r="6"/>
<circle cx="1904.0" cy="481.8" r="6"/>
<circle cx="1853.3" cy="466.9" r="6"/>
<circle cx="1892.5" cy="452.0" r="6"/>
<circle cx="1909.0" cy="478.7" r="6"/>
<circle cx="1791.9" cy="456.6" r="6"/>
<circle cx="1821.3" cy="488.4" r="6"/>
<circle cx="1832.8" cy="449.1" r="6"/>
<circle cx="1875.0" cy="380.2" r="6"/>
<circle cx="1886.1" cy="468.9" r="6"/>
<circle cx="1894.7" cy="478.9" r="6"/>
<circle cx="1884.7" cy="445.2" r="6"/>
<circle cx="1883.5" cy="457.4" r="6"/>
<circle cx="2011.3" cy="458.0" r="6"/>
<circle cx="1915.9" cy="422.7" r="6"/>
<circle cx="1862.7" cy="497.7" r="6"/>
<circle cx="1842.7" cy="412.1" r="6"/>
<circle cx="1899.5" cy="429.7" r="6"/>
<circle cx="1925.2" cy="470.7" r="6"/>
<circle cx="1842.3" cy="421.8" r="6"/>
<circle cx="1929.2" cy="503.7" r="6"/>
<circle cx="1853.5" cy="388.1" r="6"/>
<circle cx="1959.5" cy="499.9" r="6"/>
<circle cx="1986.3" cy="437.9" r="6"/>
<circle cx="1967.9" cy="443.4" r="6"/>
<circle cx="1884.0" cy="428.7" r="6"/>
<circle cx="1987.5" cy="496.6" r="6"/>
<circle cx="2004.5" cy="431.8" r="6"/>
<circle cx="1828.8" cy="445.2" r="6"/>
<circle cx="1898.9" cy="441.5" r="6"/>
<circle cx="1878.1" cy="433.8" r="6"/>
<circle cx="1879.5" cy="457.0" r="6"/>
<circle cx="1859.5" cy="434.6" r="6"/>
<circle cx="1896.9" cy="492.0" r="6"/>
<circle cx="1925.9" cy="441.1" r="6"/>
<circle cx="1935.0" cy="459.6" r="6"/>
<circle cx="1965.9" cy="463.2" r="6"/>
<circle cx="1902.7" cy="430.1" r="6"/>
<circle cx="1954.4" cy="463.6" r="6"/>
<circle cx="1899.7" cy="391.8" r="6"/>
<circle cx="1802.4" cy="457.5" r="6"/>
<circle cx="1948.2" cy="473.9" r="6"/>
<circle cx="1832.9" cy="482.3" r="6"/>
<circle cx="1875.1" cy="459.0" r="6"/>
<circle cx="1928.3" cy="416.1" r="6"/>
<circle cx="1853.7" cy="380.1" r="6"/>
<circle cx="1929.5" cy="447.2" r="6"/>
<circle cx="1956.2" cy="457.8" r="6"/>
<circle cx="1869.5" cy="457.5" r="6"/>
<circle cx="1883.1" cy="466.9" r="6"/>
<circle cx="1922.7" cy="409.4" r="6"/>
<circle cx="1905.1" cy="447.0" r="6"/>
<circle cx="1887.8" cy="477.2" r="6"/>
<circle cx="2000.9" cy="431.8" r="6"/>
<circle cx="1897.8" cy="429.3" r="6"/>
<circle cx="1938.1" cy="418.6" r="6"/>
<circle cx="1884.1" cy="410.2" r="6"/>
<circle cx="1947.7" cy="390.4" r="6"/>
<circle cx="1887.5" cy="515.2" r="6"/>
<circle cx="1907.9" cy="461.8" r="6"/>
<circle cx="1896.8" cy="402.7" r="6"/>
<circle cx="1903.2" cy="459.6" r="6"/>
<circle cx="1847.7" cy="457.3" r="6"/>
<circle cx="1974.7" cy="483.5" r="6"/>
<circle cx="1816.4" cy="409.9" r="6"/>
<circle cx="1814.6" cy="483.6" r="6"/>
<circle cx="1939.2" cy="470.3" r="6"/>
<circle cx="1855.8" cy="403.0" r="6"/>
<circle cx="1909.3" cy="448.6" r="6"/>
<circle cx="1857.2" cy="450.1" r="6"/>
<circle cx="1941.1" cy="453.2" r="6"/>
<circle cx="1890.5" cy="450.9" r="6"/>
<circle cx="1890.4" cy="429.6" r="6"/>
<circle cx="1866.3" cy="470.8" r="6"/>
<circle cx="1902.1" cy="449.4" r="6"/>
<circle cx="1850.6" cy="422.7" r="6"/>
<circle cx="1914.2" cy="408.8" r="6"/>
<circle cx="1834.5" cy="433.2" r="6"/>
<circle cx="1972.3" cy="451.9" r="6"/>
<circle cx="1986.7" cy="440.3" r="6"/>
<circle cx="1887.6" cy="394.9" r="6"/>
<circle cx="1872.7" cy="496.7" r="6"/>
<circle cx="1923.3" cy="471.4" r="6"/>
<circle cx="1944.5" cy="444.7" r="6"/>
<circle cx="1893.5" cy="449.3" r="6"/>
<circle cx="1942.6" cy="461.5" r="6"/>
<circle cx="1932.6" cy="450.5" r="6"/>
<circle cx="1861.9" cy="435.6" r="6"/>
<circle cx="1852.3" cy="481.2" r="6"/>
<circle cx="1841.5" cy="444.4" r="6"/>
<circle cx="1977.2" cy="439.2" r="6"/>
<circle cx="1939.3" cy="448.6" r="6"/>
<circle cx="1855.0" cy="242.4" r="6"/>
<circle cx="1800.0" cy="280.4" r="6"/>
<circle cx="1904.5" cy="280.4" r="6"/>
<circle cx="2061.4" cy="307.6" r="6"/>
<circle cx="1945.0" cy="329.1" r="6"/>
<circle cx="2061.4" cy="336.5" r="6"/>
<circle cx="2071.7" cy="341.5" r="6"/>
<circle cx="2060.6" cy="347.7" r="6"/>
<circle cx="2064.7" cy="364.2" r="6"/>
<circle cx="1991.2" cy="338.2" r="6"/>
<circle cx="1986.3" cy="348.5" r="6"/>
<circle cx="1995.3" cy="356.8" r="6"/>
<circle cx="1762.1" cy="318.8" r="6"/>
<circle cx="1810.4" cy="322.9" r="6"/>
<circle cx="1846.7" cy="325.0" r="6"/>
<circle cx="1851.7" cy="341.5" r="6"/>
<circle cx="1819.9" cy="353.0" r="6"/>
<circle cx="1803.3" cy="358.8" r="6"/>
<circle cx="1796.3" cy="367.1" r="6"/>
<circle cx="1810.4" cy="374.5" r="6"/>
<circle cx="1755.9" cy="379.5" r="6"/>
<circle cx="1728.2" cy="341.5" r="6"/>
<circle cx="1746.8" cy="341.5" r="6"/>
<circle cx="1757.1" cy="345.6" r="6"/>
<circle cx="1881.8" cy="329.1" r="6"/>
<circle cx="1894.2" cy="329.9" r="6"/>
<circle cx="1905.7" cy="336.5" r="6"/>
<circle cx="1912.8" cy="347.7" r="6"/>
<circle cx="1925.1" cy="351.8" r="6"/>
<circle cx="1930.1" cy="362.1" r="6"/>
<circle cx="1883.9" cy="351.8" r="6"/>
<circle cx="1871.5" cy="361.3" r="6"/>
<circle cx="1902.4" cy="362.9" r="6"/>
<circle cx="1902.4" cy="371.2" r="6"/>
<circle cx="1863.2" cy="370.4" r="6"/>
<circle cx="1869.4" cy="379.5" r="6"/>
<circle cx="1879.7" cy="386.9" r="6"/>
<circle cx="1846.7" cy="382.8" r="6"/>
<circle cx="1824.0" cy="392.3" r="6"/>
<circle cx="1826.1" cy="402.6" r="6"/>
<circle cx="1850.8" cy="397.2" r="6"/>
<circle cx="1863.2" cy="401.3" r="6"/>
<circle cx="1879.7" cy="407.5" r="6"/>
<circle cx="1887.2" cy="399.3" r="6"/>
<circle cx="1905.7" cy="387.7" r="6"/>
<circle cx="1923.1" cy="386.1" r="6"/>
<circle cx="1934.2" cy="389.0" r="6"/>
<circle cx="1952.0" cy="372.4" r="6"/>
<circle cx="1964.4" cy="377.8" r="6"/>
<circle cx="1984.2" cy="368.3" r="6"/>
<circle cx="1996.6" cy="382.8" r="6"/>
<circle cx="1996.2" cy="389.0" r="6"/>
<circle cx="2037.5" cy="382.8" r="6"/>
<circle cx="2034.6" cy="395.2" r="6"/>
<circle cx="2024.2" cy="395.2" r="6"/>
<circle cx="2013.9" cy="397.2" r="6"/>
<circle cx="2009.8" cy="401.3" r="6"/>
<circle cx="2058.1" cy="403.4" r="6"/>
<circle cx="2053.1" cy="411.7" r="6"/>
<circle cx="2022.2" cy="409.6" r="6"/>
<circle cx="2001.5" cy="411.7" r="6"/>
<circle cx="1985.0" cy="399.3" r="6"/>
<circle cx="1978.8" cy="409.6" r="6"/>
<circle cx="1962.3" cy="403.4" r="6"/>
<circle cx="1952.0" cy="399.3" r="6"/>
<circle cx="1941.7" cy="409.6" r="6"/>
<circle cx="1919.0" cy="403.4" r="6"/>
<circle cx="1916.9" cy="411.7" r="6"/>
<circle cx="1907.8" cy="421.2" r="6"/>
<circle cx="1890.1" cy="419.1" r="6"/>
<circle cx="1874.4" cy="417.9" r="6"/>
<circle cx="1861.2" cy="413.7" r="6"/>
<circle cx="1854.1" cy="415.8" r="6"/>
<circle cx="1832.3" cy="419.9" r="6"/>
<circle cx="1798.4" cy="412.9" r="6"/>
<circle cx="1811.6" cy="412.9" r="6"/>
<circle cx="1775.7" cy="405.5" r="6"/>
<circle cx="1757.1" cy="411.7" r="6"/>
<circle cx="1751.7" cy="433.6" r="6"/>
<circle cx="1719.9" cy="443.9" r="6"/>
<circle cx="1784.8" cy="436.4" r="6"/>
<circle cx="1791.0" cy="433.1" r="6"/>
<circle cx="1798.4" cy="446.8" r="6"/>
<circle cx="1811.6" cy="444.7" r="6"/>
<circle cx="1832.3" cy="440.6" r="6"/>
<circle cx="1840.5" cy="432.3" r="6"/>
<circle cx="1852.9" cy="434.4" r="6"/>
<circle cx="1863.2" cy="434.4" r="6"/>
<circle cx="1885.9" cy="432.3" r="6"/>
<circle cx="1902.4" cy="444.7" r="6"/>
<circle cx="1927.2" cy="436.4" r="6"/>
<circle cx="1943.7" cy="442.6" r="6"/>
<circle cx="1952.0" cy="420.8" r="6"/>
<circle cx="1935.5" cy="419.9" r="6"/>
<circle cx="2003.6" cy="426.1" r="6"/>
<circle cx="2001.5" cy="436.4" r="6"/>
<circle cx="2040.8" cy="422.0" r="6"/>
<circle cx="2040.8" cy="428.2" r="6"/>
<circle cx="2051.1" cy="440.6" r="6"/>
<circle cx="2150.2" cy="413.7" r="6"/>
<circle cx="1719.5" cy="443.9" r="6"/>
<circle cx="1751.7" cy="433.6" r="6"/>
<circle cx="1784.8" cy="437.3" r="6"/>
<circle cx="1791.8" cy="433.2" r="6"/>
<circle cx="1797.2" cy="445.6" r="6"/>
<circle cx="1809.5" cy="445.6" r="6"/>
<circle cx="1813.7" cy="449.7" r="6"/>
<circle cx="1805.4" cy="451.0" r="6"/>
<circle cx="1769.5" cy="455.9" r="6"/>
<circle cx="1798.4" cy="462.5" r="6"/>
<circle cx="1821.9" cy="461.3" r="6"/>
<circle cx="1824.8" cy="466.2" r="6"/>
<circle cx="1834.3" cy="447.7" r="6"/>
<circle cx="1857.0" cy="442.7" r="6"/>
<circle cx="1863.2" cy="448.9" r="6"/>
<circle cx="1871.5" cy="458.0" r="6"/>
<circle cx="1865.3" cy="466.2" r="6"/>
<circle cx="1855.0" cy="463.4" r="6"/>
<circle cx="1842.6" cy="472.8" r="6"/>
<circle cx="1848.8" cy="467.5" r="6"/>
<circle cx="1883.9" cy="471.6" r="6"/>
<circle cx="1890.1" cy="455.1" r="6"/>
<circle cx="1898.3" cy="457.2" r="6"/>
<circle cx="1904.5" cy="451.0" r="6"/>
<circle cx="1908.6" cy="442.7" r="6"/>
<circle cx="1919.0" cy="458.0" r="6"/>
<circle cx="1929.3" cy="453.9" r="6"/>
<circle cx="1924.3" cy="442.7" r="6"/>
<circle cx="1939.6" cy="442.7" r="6"/>
<circle cx="1943.7" cy="440.6" r="6"/>
<circle cx="1949.9" cy="459.2" r="6"/>
<circle cx="1960.2" cy="453.0" r="6"/>
<circle cx="1968.5" cy="469.5" r="6"/>
<circle cx="1980.9" cy="451.0" r="6"/>
<circle cx="1976.8" cy="459.2" r="6"/>
<circle cx="2001.5" cy="448.9" r="6"/>
<circle cx="2011.9" cy="453.9" r="6"/>
<circle cx="2017.2" cy="465.4" r="6"/>
<circle cx="2032.5" cy="460.5" r="6"/>
<circle cx="2047.8" cy="453.0" r="6"/>
<circle cx="2051.1" cy="440.6" r="6"/>
<circle cx="2030.4" cy="474.9" r="6"/>
<circle cx="2020.1" cy="485.2" r="6"/>
<circle cx="1996.6" cy="479.9" r="6"/>
<circle cx="1954.1" cy="479.9" r="6"/>
<circle cx="1945.8" cy="471.6" r="6"/>
<circle cx="1767.4" cy="469.5" r="6"/>
<circle cx="1757.9" cy="475.7" r="6"/>
<circle cx="1751.7" cy="481.9" r="6"/>
<circle cx="1709.6" cy="488.1" r="6"/>
<circle cx="1736.5" cy="493.5" r="6"/>
<circle cx="1746.8" cy="493.5" r="6"/>
<circle cx="1774.4" cy="493.5" r="6"/>
<circle cx="1793.0" cy="486.9" r="6"/>
<circle cx="1805.4" cy="477.8" r="6"/>
<circle cx="1815.7" cy="479.0" r="6"/>
<circle cx="1824.0" cy="481.1" r="6"/>
<circle cx="1821.9" cy="487.3" r="6"/>
<circle cx="1834.3" cy="495.6" r="6"/>
<circle cx="1846.7" cy="492.3" r="6"/>
<circle cx="1859.1" cy="490.2" r="6"/>
<circle cx="1861.2" cy="497.2" r="6"/>
<circle cx="1873.5" cy="486.1" r="6"/>
<circle cx="1881.8" cy="488.1" r="6"/>
<circle cx="1894.2" cy="479.0" r="6"/>
<circle cx="1904.5" cy="481.1" r="6"/>
<circle cx="1912.8" cy="486.9" r="6"/>
<circle cx="1912.8" cy="494.3" r="6"/>
<circle cx="1904.5" cy="501.8" r="6"/>
<circle cx="1914.8" cy="510.8" r="6"/>
<circle cx="1899.6" cy="515.8" r="6"/>
<circle cx="1908.6" cy="519.1" r="6"/>
<circle cx="1890.1" cy="474.9" r="6"/>
<circle cx="1842.6" cy="505.9" r="6"/>
<circle cx="1830.2" cy="507.5" r="6"/>
<circle cx="1807.5" cy="510.0" r="6"/>
<circle cx="1815.7" cy="515.0" r="6"/>
<circle cx="1828.1" cy="519.1" r="6"/>
<circle cx="1838.4" cy="519.1" r="6"/>
<circle cx="1852.9" cy="511.7" r="6"/>
<circle cx="1861.2" cy="520.3" r="6"/>
<circle cx="1813.7" cy="527.3" r="6"/>
<circle cx="1825.2" cy="537.7" r="6"/>
<circle cx="1885.1" cy="537.7" r="6"/>
<circle cx="1871.5" cy="556.3" r="6"/>
<circle cx="1892.1" cy="563.7" r="6"/>
<circle cx="1897.1" cy="554.2" r="6"/>
<circle cx="1913.6" cy="537.7" r="6"/>
<circle cx="1919.0" cy="541.8" r="6"/>
<circle cx="1926.4" cy="550.1" r="6"/>
<circle cx="1755.9" cy="548.0" r="6"/>
<circle cx="1748.4" cy="552.9" r="6"/>
<circle cx="1954.1" cy="522.4" r="6"/>
<circle cx="1945.0" cy="492.3" r="6"/>
<circle cx="1974.7" cy="493.5" r="6"/>
<circle cx="1979.6" cy="489.4" r="6"/>
<circle cx="2009.8" cy="529.4" r="6"/>
<circle cx="2008.6" cy="550.1" r="6"/>
<circle cx="2071.7" cy="486.9" r="6"/>
<circle cx="2067.6" cy="508.8" r="6"/>
<circle cx="2116.3" cy="474.9" r="6"/>
<circle cx="2114.2" cy="490.2" r="6"/>
<circle cx="1630.7" cy="421.5" r="6"/>
<circle cx="1655.5" cy="392.8" r="6"/>
</g>
</svg>
<path d="M1354.10 626v7M1537.80 626v7M1721.50 626v7M1905.20 626v7M2088.90 626v7M1191 577.00h-7M1191 473.60h-7M1191 370.20h-7M1191 266.80h-7M1191 163.40h-7M1191 60.00h-7" stroke="#333" stroke-width="2" fill="none"/>
<text x="1353.30" y="662.00" font-size="25.5" fill="#4D4D4D" text-anchor="middle">-2</text>
<text x="1525.66" y="662.00" font-size="25.5" fill="#4D4D4D">-</text><path transform="translate(1534.15 662.00) scale(0.01245 -0.01245)" d="M763 0H583V1147Q518 1085 412 1023Q306 961 222 930V1104Q372 1175 484 1276Q596 1377 643 1440H763Z" fill="#4D4D4D"/>
<text x="1720.70" y="662.00" font-size="25.5" fill="#4D4D4D" text-anchor="middle">0</text>
<path transform="translate(1897.31 662.00) scale(0.01245 -0.01245)" d="M763 0H583V1147Q518 1085 412 1023Q306 961 222 930V1104Q372 1175 484 1276Q596 1377 643 1440H763Z" fill="#4D4D4D"/>
<text x="2088.10" y="662.00" font-size="25.5" fill="#4D4D4D" text-anchor="middle">2</text>
<text x="1177.50" y="587.80" font-size="25.5" fill="#4D4D4D" text-anchor="end">-2</text>
<text x="1154.83" y="484.40" font-size="25.5" fill="#4D4D4D">-</text><path transform="translate(1163.32 484.40) scale(0.01245 -0.01245)" d="M763 0H583V1147Q518 1085 412 1023Q306 961 222 930V1104Q372 1175 484 1276Q596 1377 643 1440H763Z" fill="#4D4D4D"/>
<text x="1177.50" y="381.00" font-size="25.5" fill="#4D4D4D" text-anchor="end">0</text>
<path transform="translate(1163.32 277.60) scale(0.01245 -0.01245)" d="M763 0H583V1147Q518 1085 412 1023Q306 961 222 930V1104Q372 1175 484 1276Q596 1377 643 1440H763Z" fill="#4D4D4D"/>
<text x="1177.50" y="174.20" font-size="25.5" fill="#4D4D4D" text-anchor="end">2</text>
<text x="1177.50" y="70.80" font-size="25.5" fill="#4D4D4D" text-anchor="end">3</text>
<text x="1655.83" y="697.30" font-size="31" fill="#000">Dim</text><path transform="translate(1710.93 697.30) scale(0.01514 -0.01514)" d="M763 0H583V1147Q518 1085 412 1023Q306 961 222 930V1104Q372 1175 484 1276Q596 1377 643 1440H763Z" fill="#000"/>
<text transform="translate(1143.4 323.5) rotate(-90)" font-size="31" fill="#000" text-anchor="middle">Dim2</text>
<rect x="2313.25" y="10" width="989.75" height="608.50" fill="#EBEBEB"/>
<path d="M2467.40 10V618.5M2713.20 10V618.5M2959.00 10V618.5M3204.80 10V618.5M2313.25 581.35H3303M2313.25 412.85H3303M2313.25 244.35H3303M2313.25 75.85H3303" stroke="#fff" stroke-width="2.0" fill="none"/>
<path d="M2344.50 10V618.5M2590.30 10V618.5M2836.10 10V618.5M3081.90 10V618.5M2313.25 497.10H3303M2313.25 328.60H3303M2313.25 160.10H3303" stroke="#fff" stroke-width="2.0" fill="none"/>
<svg x="2313.25" y="10" width="989.75" height="608.50" viewBox="2313.25 10 989.75 608.50" overflow="hidden">
<g fill="#F8766D">
<circle cx="2839.8" cy="219.2" r="6"/>
<circle cx="2801.7" cy="263.3" r="6"/>
<circle cx="2862.8" cy="282.1" r="6"/>
<circle cx="2844.6" cy="176.3" r="6"/>
<circle cx="2871.2" cy="230.2" r="6"/>
<circle cx="2815.5" cy="173.8" r="6"/>
<circle cx="2796.0" cy="210.1" r="6"/>
<circle cx="2832.5" cy="175.2" r="6"/>
<circle cx="2838.4" cy="251.0" r="6"/>
<circle cx="2758.9" cy="215.0" r="6"/>
<circle cx="2776.7" cy="288.6" r="6"/>
<circle cx="2722.1" cy="224.3" r="6"/>
<circle cx="2892.6" cy="214.7" r="6"/>
<circle cx="2844.4" cy="204.5" r="6"/>
<circle cx="2911.6" cy="181.2" r="6"/>
<circle cx="2760.1" cy="296.8" r="6"/>
<circle cx="2821.8" cy="232.6" r="6"/>
<circle cx="2857.7" cy="184.8" r="6"/>
<circle cx="2887.6" cy="245.9" r="6"/>
<circle cx="2867.6" cy="212.8" r="6"/>
<circle cx="2869.9" cy="211.2" r="6"/>
<circle cx="2899.9" cy="299.2" r="6"/>
<circle cx="2897.0" cy="269.8" r="6"/>
<circle cx="2891.8" cy="231.8" r="6"/>
<circle cx="2841.5" cy="231.4" r="6"/>
<circle cx="2740.4" cy="219.1" r="6"/>
<circle cx="2879.8" cy="313.0" r="6"/>
<circle cx="2792.6" cy="201.6" r="6"/>
<circle cx="2933.7" cy="202.6" r="6"/>
<circle cx="2774.9" cy="292.2" r="6"/>
<circle cx="2941.0" cy="231.5" r="6"/>
<circle cx="2936.1" cy="226.7" r="6"/>
<circle cx="2727.8" cy="269.1" r="6"/>
<circle cx="2952.2" cy="278.4" r="6"/>
<circle cx="2818.8" cy="220.0" r="6"/>
<circle cx="2814.9" cy="205.1" r="6"/>
<circle cx="2847.2" cy="243.6" r="6"/>
<circle cx="2802.3" cy="272.1" r="6"/>
<circle cx="2751.6" cy="216.1" r="6"/>
<circle cx="2875.3" cy="188.6" r="6"/>
<circle cx="2830.9" cy="290.6" r="6"/>
<circle cx="2868.7" cy="263.3" r="6"/>
<circle cx="2776.7" cy="214.4" r="6"/>
<circle cx="2841.5" cy="289.2" r="6"/>
<circle cx="2778.6" cy="191.2" r="6"/>
<circle cx="2912.8" cy="200.3" r="6"/>
<circle cx="2908.2" cy="256.7" r="6"/>
<circle cx="2894.9" cy="328.7" r="6"/>
<circle cx="2881.8" cy="282.2" r="6"/>
<circle cx="2772.6" cy="211.6" r="6"/>
<circle cx="2878.8" cy="318.6" r="6"/>
<circle cx="2856.1" cy="254.7" r="6"/>
<circle cx="2903.4" cy="245.9" r="6"/>
<circle cx="2830.8" cy="194.7" r="6"/>
<circle cx="2902.4" cy="193.5" r="6"/>
<circle cx="2869.8" cy="176.9" r="6"/>
<circle cx="2909.6" cy="195.6" r="6"/>
<circle cx="2892.4" cy="168.7" r="6"/>
<circle cx="2805.1" cy="301.6" r="6"/>
<circle cx="2780.2" cy="248.2" r="6"/>
<circle cx="2855.9" cy="265.7" r="6"/>
<circle cx="2759.7" cy="272.5" r="6"/>
<circle cx="2780.9" cy="196.8" r="6"/>
<circle cx="2835.5" cy="212.3" r="6"/>
<circle cx="2885.2" cy="292.5" r="6"/>
<circle cx="2873.2" cy="221.9" r="6"/>
<circle cx="2861.1" cy="299.7" r="6"/>
<circle cx="2809.7" cy="193.9" r="6"/>
<circle cx="2771.9" cy="260.0" r="6"/>
<circle cx="2850.8" cy="178.5" r="6"/>
<circle cx="2892.7" cy="188.1" r="6"/>
<circle cx="2807.3" cy="218.7" r="6"/>
<circle cx="2806.8" cy="191.0" r="6"/>
<circle cx="2864.6" cy="256.0" r="6"/>
<circle cx="2859.8" cy="220.7" r="6"/>
<circle cx="2922.8" cy="254.0" r="6"/>
<circle cx="2831.1" cy="291.3" r="6"/>
<circle cx="2814.6" cy="233.0" r="6"/>
<circle cx="2789.9" cy="276.9" r="6"/>
<circle cx="2804.6" cy="216.0" r="6"/>
<circle cx="2784.5" cy="271.7" r="6"/>
<circle cx="2798.8" cy="164.6" r="6"/>
<circle cx="2877.3" cy="211.3" r="6"/>
<circle cx="2859.3" cy="262.9" r="6"/>
<circle cx="2916.8" cy="295.1" r="6"/>
<circle cx="2795.9" cy="237.0" r="6"/>
<circle cx="2865.0" cy="311.9" r="6"/>
<circle cx="2939.2" cy="249.5" r="6"/>
<circle cx="2844.1" cy="247.7" r="6"/>
<circle cx="2878.8" cy="270.6" r="6"/>
<circle cx="2726.8" cy="297.2" r="6"/>
<circle cx="2799.0" cy="222.6" r="6"/>
<circle cx="2952.5" cy="289.2" r="6"/>
<circle cx="2812.0" cy="155.9" r="6"/>
<circle cx="2846.0" cy="270.9" r="6"/>
<circle cx="2829.5" cy="185.2" r="6"/>
<circle cx="2781.2" cy="184.7" r="6"/>
<circle cx="2849.6" cy="284.3" r="6"/>
<circle cx="2904.7" cy="209.9" r="6"/>
<circle cx="2851.0" cy="271.6" r="6"/>
<circle cx="2800.2" cy="237.9" r="6"/>
<circle cx="2895.0" cy="224.1" r="6"/>
<circle cx="2837.8" cy="162.7" r="6"/>
<circle cx="2833.3" cy="302.2" r="6"/>
<circle cx="2881.7" cy="247.5" r="6"/>
<circle cx="2794.2" cy="237.3" r="6"/>
<circle cx="2876.7" cy="207.3" r="6"/>
<circle cx="2898.5" cy="197.8" r="6"/>
<circle cx="2912.0" cy="235.4" r="6"/>
<circle cx="2849.9" cy="300.6" r="6"/>
<circle cx="2920.6" cy="220.8" r="6"/>
<circle cx="2925.3" cy="263.5" r="6"/>
<circle cx="2835.2" cy="266.2" r="6"/>
<circle cx="2738.1" cy="207.3" r="6"/>
<circle cx="2827.6" cy="274.3" r="6"/>
<circle cx="2809.7" cy="238.9" r="6"/>
<circle cx="2900.9" cy="312.8" r="6"/>
<circle cx="2887.2" cy="305.9" r="6"/>
<circle cx="2807.5" cy="230.3" r="6"/>
<circle cx="2856.6" cy="230.5" r="6"/>
<circle cx="2800.5" cy="324.3" r="6"/>
<circle cx="2821.3" cy="198.6" r="6"/>
<circle cx="2868.1" cy="333.1" r="6"/>
<circle cx="2840.5" cy="304.1" r="6"/>
<circle cx="2805.2" cy="221.4" r="6"/>
<circle cx="2788.1" cy="238.1" r="6"/>
<circle cx="2946.3" cy="196.6" r="6"/>
<circle cx="2819.1" cy="285.1" r="6"/>
<circle cx="2877.9" cy="258.5" r="6"/>
<circle cx="2722.8" cy="262.4" r="6"/>
<circle cx="2820.5" cy="254.1" r="6"/>
<circle cx="2757.0" cy="222.0" r="6"/>
<circle cx="2747.2" cy="292.1" r="6"/>
<circle cx="2817.2" cy="272.0" r="6"/>
<circle cx="2788.4" cy="220.9" r="6"/>
<circle cx="2922.6" cy="198.4" r="6"/>
<circle cx="2712.5" cy="264.5" r="6"/>
<circle cx="2757.4" cy="223.9" r="6"/>
<circle cx="2897.0" cy="205.7" r="6"/>
<circle cx="2894.7" cy="212.3" r="6"/>
<circle cx="2936.4" cy="308.6" r="6"/>
<circle cx="2802.9" cy="234.8" r="6"/>
<circle cx="2778.4" cy="254.6" r="6"/>
<circle cx="2913.1" cy="175.6" r="6"/>
<circle cx="2897.4" cy="181.5" r="6"/>
<circle cx="2776.5" cy="159.2" r="6"/>
<circle cx="2851.6" cy="212.5" r="6"/>
<circle cx="2809.0" cy="245.8" r="6"/>
<circle cx="2880.7" cy="206.1" r="6"/>
<circle cx="2836.6" cy="291.1" r="6"/>
<circle cx="2848.2" cy="262.8" r="6"/>
<circle cx="2811.2" cy="260.1" r="6"/>
<circle cx="2838.8" cy="314.8" r="6"/>
<circle cx="2884.3" cy="233.3" r="6"/>
<circle cx="2886.4" cy="201.0" r="6"/>
<circle cx="2898.0" cy="193.9" r="6"/>
<circle cx="2803.8" cy="255.6" r="6"/>
<circle cx="2918.3" cy="244.1" r="6"/>
<circle cx="2828.2" cy="218.7" r="6"/>
<circle cx="2945.9" cy="296.2" r="6"/>
<circle cx="2828.5" cy="178.0" r="6"/>
<circle cx="2781.3" cy="272.8" r="6"/>
<circle cx="2785.9" cy="287.8" r="6"/>
<circle cx="2859.6" cy="259.0" r="6"/>
<circle cx="2879.4" cy="268.9" r="6"/>
<circle cx="2776.8" cy="229.4" r="6"/>
<circle cx="2802.7" cy="296.2" r="6"/>
<circle cx="2824.2" cy="206.0" r="6"/>
<circle cx="2745.0" cy="270.7" r="6"/>
<circle cx="2904.4" cy="312.2" r="6"/>
<circle cx="2643.3" cy="38.1" r="6"/>
<circle cx="2748.6" cy="71.1" r="6"/>
<circle cx="2798.1" cy="107.0" r="6"/>
<circle cx="2808.5" cy="113.2" r="6"/>
<circle cx="2731.2" cy="128.9" r="6"/>
<circle cx="2756.8" cy="120.7" r="6"/>
<circle cx="2767.2" cy="124.8" r="6"/>
<circle cx="2653.6" cy="133.9" r="6"/>
<circle cx="2523.6" cy="160.7" r="6"/>
<circle cx="2663.9" cy="156.6" r="6"/>
<circle cx="2672.2" cy="152.4" r="6"/>
<circle cx="2671.4" cy="169.0" r="6"/>
<circle cx="2661.1" cy="182.6" r="6"/>
<circle cx="2666.0" cy="198.7" r="6"/>
<circle cx="2642.1" cy="201.2" r="6"/>
<circle cx="2649.5" cy="200.8" r="6"/>
<circle cx="2609.0" cy="190.8" r="6"/>
<circle cx="2571.1" cy="203.2" r="6"/>
<circle cx="2591.7" cy="203.2" r="6"/>
<circle cx="2719.7" cy="163.6" r="6"/>
<circle cx="2730.0" cy="158.6" r="6"/>
<circle cx="2740.3" cy="155.3" r="6"/>
<circle cx="2746.5" cy="164.8" r="6"/>
<circle cx="2732.1" cy="174.3" r="6"/>
<circle cx="2694.9" cy="176.4" r="6"/>
<circle cx="2705.2" cy="172.3" r="6"/>
<circle cx="2752.7" cy="177.2" r="6"/>
<circle cx="2761.0" cy="177.2" r="6"/>
<circle cx="2770.5" cy="171.0" r="6"/>
<circle cx="2771.3" cy="138.0" r="6"/>
<circle cx="2773.4" cy="146.3" r="6"/>
<circle cx="2779.6" cy="154.5" r="6"/>
<circle cx="2785.7" cy="155.3" r="6"/>
<circle cx="2775.4" cy="159.5" r="6"/>
<circle cx="2800.2" cy="156.6" r="6"/>
<circle cx="2794.0" cy="180.1" r="6"/>
<circle cx="2806.4" cy="166.9" r="6"/>
<circle cx="2798.1" cy="171.0" r="6"/>
<circle cx="2682.5" cy="191.7" r="6"/>
<circle cx="2688.7" cy="191.7" r="6"/>
<circle cx="2697.0" cy="199.9" r="6"/>
<circle cx="2707.3" cy="202.0" r="6"/>
<circle cx="2711.4" cy="191.7" r="6"/>
<circle cx="2721.8" cy="185.5" r="6"/>
<circle cx="2734.1" cy="187.5" r="6"/>
<circle cx="2725.9" cy="197.9" r="6"/>
<circle cx="2734.1" cy="212.3" r="6"/>
<circle cx="2701.1" cy="214.4" r="6"/>
<circle cx="2692.9" cy="222.6" r="6"/>
<circle cx="2715.6" cy="220.6" r="6"/>
<circle cx="2742.4" cy="220.6" r="6"/>
<circle cx="2761.0" cy="187.5" r="6"/>
<circle cx="2767.2" cy="191.7" r="6"/>
<circle cx="2765.1" cy="204.1" r="6"/>
<circle cx="2771.3" cy="207.4" r="6"/>
<circle cx="2781.6" cy="199.9" r="6"/>
<circle cx="2791.9" cy="204.1" r="6"/>
<circle cx="2775.4" cy="216.4" r="6"/>
<circle cx="2800.2" cy="212.3" r="6"/>
<circle cx="2808.5" cy="204.1" r="6"/>
<circle cx="2637.9" cy="225.5" r="6"/>
<circle cx="2647.4" cy="228.8" r="6"/>
<circle cx="2589.6" cy="228.8" r="6"/>
<circle cx="2810.5" cy="150.4" r="6"/>
<circle cx="3092.0" cy="86.4" r="6"/>
<circle cx="2887.6" cy="97.9" r="6"/>
<circle cx="2915.3" cy="108.3" r="6"/>
<circle cx="2978.5" cy="103.7" r="6"/>
<circle cx="2992.1" cy="117.3" r="6"/>
<circle cx="2860.0" cy="118.6" r="6"/>
<circle cx="2920.3" cy="141.3" r="6"/>
<circle cx="2895.9" cy="153.3" r="6"/>
<circle cx="2945.9" cy="156.6" r="6"/>
<circle cx="2995.8" cy="149.6" r="6"/>
<circle cx="3073.4" cy="148.3" r="6"/>
<circle cx="2817.5" cy="135.1" r="6"/>
<circle cx="2831.9" cy="140.1" r="6"/>
<circle cx="2842.2" cy="142.1" r="6"/>
<circle cx="2860.8" cy="135.9" r="6"/>
<circle cx="2867.0" cy="138.0" r="6"/>
<circle cx="2844.3" cy="152.4" r="6"/>
<circle cx="2856.7" cy="154.5" r="6"/>
<circle cx="2867.0" cy="154.5" r="6"/>
<circle cx="2869.1" cy="164.8" r="6"/>
<circle cx="2842.2" cy="175.2" r="6"/>
<circle cx="2831.9" cy="179.3" r="6"/>
<circle cx="2848.4" cy="183.4" r="6"/>
<circle cx="2817.5" cy="171.0" r="6"/>
<circle cx="2864.9" cy="177.2" r="6"/>
<circle cx="2882.7" cy="172.3" r="6"/>
<circle cx="2896.7" cy="180.5" r="6"/>
<circle cx="2895.9" cy="190.8" r="6"/>
<circle cx="2914.5" cy="178.5" r="6"/>
<circle cx="2922.7" cy="181.3" r="6"/>
<circle cx="2931.0" cy="183.4" r="6"/>
<circle cx="2924.8" cy="195.8" r="6"/>
<circle cx="2881.4" cy="191.7" r="6"/>
<circle cx="2873.2" cy="191.7" r="6"/>
<circle cx="2856.7" cy="202.0" r="6"/>
<circle cx="2844.3" cy="199.9" r="6"/>
<circle cx="2819.5" cy="199.9" r="6"/>
<circle cx="2831.9" cy="206.1" r="6"/>
<circle cx="2827.8" cy="216.4" r="6"/>
<circle cx="2844.3" cy="216.4" r="6"/>
<circle cx="2860.8" cy="212.3" r="6"/>
<circle cx="2881.4" cy="210.2" r="6"/>
<circle cx="2893.8" cy="204.1" r="6"/>
<circle cx="2908.3" cy="208.2" r="6"/>
<circle cx="2912.4" cy="204.1" r="6"/>
<circle cx="2906.2" cy="214.4" r="6"/>
<circle cx="2922.7" cy="216.4" r="6"/>
<circle cx="2889.7" cy="224.7" r="6"/>
<circle cx="2906.2" cy="226.8" r="6"/>
<circle cx="2879.4" cy="222.6" r="6"/>
<circle cx="2926.9" cy="224.7" r="6"/>
<circle cx="2955.8" cy="183.4" r="6"/>
<circle cx="2973.5" cy="184.2" r="6"/>
<circle cx="2987.6" cy="177.2" r="6"/>
<circle cx="3002.4" cy="187.5" r="6"/>
<circle cx="3026.8" cy="189.6" r="6"/>
<circle cx="2957.8" cy="204.1" r="6"/>
<circle cx="2973.5" cy="199.9" r="6"/>
<circle cx="2964.0" cy="216.4" r="6"/>
<circle cx="3042.5" cy="206.1" r="6"/>
<circle cx="3042.5" cy="220.6" r="6"/>
<circle cx="3028.0" cy="223.9" r="6"/>
<circle cx="3001.2" cy="224.7" r="6"/>
<circle cx="3009.4" cy="226.8" r="6"/>
<circle cx="2953.7" cy="228.8" r="6"/>
<circle cx="2589.6" cy="234.5" r="6"/>
<circle cx="2583.4" cy="271.6" r="6"/>
<circle cx="2639.2" cy="281.9" r="6"/>
<circle cx="2643.3" cy="281.9" r="6"/>
<circle cx="2668.1" cy="263.4" r="6"/>
<circle cx="2684.6" cy="258.0" r="6"/>
<circle cx="2672.2" cy="281.9" r="6"/>
<circle cx="2661.9" cy="298.4" r="6"/>
<circle cx="2666.0" cy="314.1" r="6"/>
<circle cx="2637.1" cy="226.2" r="6"/>
<circle cx="2645.4" cy="232.4" r="6"/>
<circle cx="2653.6" cy="238.6" r="6"/>
<circle cx="2690.8" cy="224.1" r="6"/>
<circle cx="2697.0" cy="228.3" r="6"/>
<circle cx="2709.4" cy="224.1" r="6"/>
<circle cx="2717.6" cy="222.1" r="6"/>
<circle cx="2684.6" cy="238.6" r="6"/>
<circle cx="2699.0" cy="236.5" r="6"/>
<circle cx="2709.4" cy="236.5" r="6"/>
<circle cx="2715.6" cy="246.8" r="6"/>
<circle cx="2725.9" cy="251.0" r="6"/>
<circle cx="2734.1" cy="240.6" r="6"/>
<circle cx="2746.5" cy="232.4" r="6"/>
<circle cx="2742.4" cy="224.1" r="6"/>
<circle cx="2758.9" cy="228.3" r="6"/>
<circle cx="2767.2" cy="220.0" r="6"/>
<circle cx="2779.6" cy="222.1" r="6"/>
<circle cx="2791.9" cy="226.2" r="6"/>
<circle cx="2804.3" cy="232.4" r="6"/>
<circle cx="2808.5" cy="244.8" r="6"/>
<circle cx="2800.2" cy="257.2" r="6"/>
<circle cx="2787.8" cy="265.4" r="6"/>
<circle cx="2779.6" cy="253.0" r="6"/>
<circle cx="2767.2" cy="259.2" r="6"/>
<circle cx="2758.9" cy="248.9" r="6"/>
<circle cx="2746.5" cy="259.2" r="6"/>
<circle cx="2734.1" cy="265.4" r="6"/>
<circle cx="2721.8" cy="269.5" r="6"/>
<circle cx="2709.4" cy="259.2" r="6"/>
<circle cx="2699.0" cy="265.4" r="6"/>
<circle cx="2688.7" cy="277.8" r="6"/>
<circle cx="2703.2" cy="286.1" r="6"/>
<circle cx="2713.5" cy="275.7" r="6"/>
<circle cx="2730.0" cy="281.9" r="6"/>
<circle cx="2742.4" cy="286.1" r="6"/>
<circle cx="2763.0" cy="288.1" r="6"/>
<circle cx="2775.4" cy="273.7" r="6"/>
<circle cx="2791.9" cy="281.9" r="6"/>
<circle cx="2804.3" cy="277.8" r="6"/>
<circle cx="2796.1" cy="302.6" r="6"/>
<circle cx="2808.5" cy="315.0" r="6"/>
<circle cx="2783.7" cy="302.6" r="6"/>
<circle cx="2771.3" cy="300.5" r="6"/>
<circle cx="2763.0" cy="308.8" r="6"/>
<circle cx="2744.5" cy="319.1" r="6"/>
<circle cx="2725.9" cy="327.3" r="6"/>
<circle cx="2711.4" cy="321.2" r="6"/>
<circle cx="2709.4" cy="339.7" r="6"/>
<circle cx="2701.1" cy="319.1" r="6"/>
<circle cx="2688.7" cy="298.4" r="6"/>
<circle cx="2697.0" cy="304.6" r="6"/>
<circle cx="2713.5" cy="308.8" r="6"/>
<circle cx="2738.3" cy="339.7" r="6"/>
<circle cx="2783.7" cy="327.3" r="6"/>
<circle cx="2775.4" cy="345.9" r="6"/>
<circle cx="2791.9" cy="374.8" r="6"/>
<circle cx="2734.1" cy="389.3" r="6"/>
<circle cx="2721.8" cy="364.5" r="6"/>
<circle cx="2730.0" cy="302.6" r="6"/>
<circle cx="2552.5" cy="353.4" r="6"/>
<circle cx="2955.8" cy="230.3" r="6"/>
<circle cx="2968.2" cy="242.7" r="6"/>
<circle cx="2951.6" cy="246.8" r="6"/>
<circle cx="2953.7" cy="253.0" r="6"/>
<circle cx="2980.5" cy="257.2" r="6"/>
<circle cx="2976.4" cy="263.4" r="6"/>
<circle cx="2968.2" cy="273.7" r="6"/>
<circle cx="2966.1" cy="281.9" r="6"/>
<circle cx="2949.6" cy="271.6" r="6"/>
<circle cx="2984.7" cy="275.7" r="6"/>
<circle cx="3003.2" cy="259.2" r="6"/>
<circle cx="3015.6" cy="267.5" r="6"/>
<circle cx="3034.2" cy="269.5" r="6"/>
<circle cx="3046.6" cy="273.7" r="6"/>
<circle cx="3021.8" cy="238.6" r="6"/>
<circle cx="3028.0" cy="224.1" r="6"/>
<circle cx="3042.5" cy="222.1" r="6"/>
<circle cx="3001.2" cy="224.1" r="6"/>
<circle cx="3007.4" cy="230.3" r="6"/>
<circle cx="3077.6" cy="248.9" r="6"/>
<circle cx="3065.2" cy="296.4" r="6"/>
<circle cx="3044.5" cy="294.3" r="6"/>
<circle cx="3021.8" cy="298.4" r="6"/>
<circle cx="2982.6" cy="298.4" r="6"/>
<circle cx="2974.3" cy="300.5" r="6"/>
<circle cx="2955.8" cy="306.7" r="6"/>
<circle cx="2968.2" cy="319.1" r="6"/>
<circle cx="2972.3" cy="331.5" r="6"/>
<circle cx="2974.3" cy="339.7" r="6"/>
<circle cx="2992.9" cy="323.2" r="6"/>
<circle cx="2947.5" cy="331.5" r="6"/>
<circle cx="2935.1" cy="329.4" r="6"/>
<circle cx="2910.3" cy="323.2" r="6"/>
<circle cx="2920.7" cy="323.2" r="6"/>
<circle cx="2916.5" cy="302.6" r="6"/>
<circle cx="2922.7" cy="304.6" r="6"/>
<circle cx="3054.9" cy="366.6" r="6"/>
<circle cx="2949.6" cy="366.6" r="6"/>
<circle cx="2941.3" cy="412.0" r="6"/>
<circle cx="2891.8" cy="348.0" r="6"/>
<circle cx="2891.8" cy="358.3" r="6"/>
<circle cx="2860.8" cy="370.7" r="6"/>
<circle cx="2842.2" cy="397.5" r="6"/>
<circle cx="2821.6" cy="393.4" r="6"/>
<circle cx="2821.6" cy="343.9" r="6"/>
<circle cx="2834.0" cy="339.7" r="6"/>
<circle cx="2850.5" cy="358.3" r="6"/>
<circle cx="2860.8" cy="343.9" r="6"/>
<circle cx="2875.3" cy="327.3" r="6"/>
<circle cx="2864.9" cy="315.0" r="6"/>
<circle cx="2850.5" cy="323.2" r="6"/>
<circle cx="2842.2" cy="319.1" r="6"/>
<circle cx="2852.5" cy="298.4" r="6"/>
<circle cx="2864.9" cy="265.4" r="6"/>
<circle cx="2842.2" cy="261.3" r="6"/>
<circle cx="2827.8" cy="269.5" r="6"/>
<circle cx="2815.4" cy="257.2" r="6"/>
<circle cx="2827.8" cy="236.5" r="6"/>
<circle cx="2844.3" cy="232.4" r="6"/>
<circle cx="2877.3" cy="236.5" r="6"/>
<circle cx="2898.0" cy="228.3" r="6"/>
<circle cx="2914.5" cy="240.6" r="6"/>
<circle cx="2926.9" cy="253.0" r="6"/>
<circle cx="2918.6" cy="265.4" r="6"/>
<circle cx="2902.1" cy="257.2" r="6"/>
<circle cx="2885.6" cy="248.9" r="6"/>
<circle cx="2873.2" cy="246.8" r="6"/>
<circle cx="2889.7" cy="269.5" r="6"/>
<circle cx="2898.0" cy="288.1" r="6"/>
<circle cx="2914.5" cy="286.1" r="6"/>
<circle cx="2931.0" cy="281.9" r="6"/>
<circle cx="2939.3" cy="286.1" r="6"/>
<circle cx="2877.3" cy="273.7" r="6"/>
<circle cx="2860.8" cy="286.1" r="6"/>
<circle cx="2831.9" cy="294.3" r="6"/>
<circle cx="2815.4" cy="319.1" r="6"/>
<circle cx="2827.8" cy="310.8" r="6"/>
<circle cx="2848.4" cy="308.8" r="6"/>
</g>
<g fill="#00BA38">
<circle cx="2683.0" cy="422.6" r="6"/>
<circle cx="2623.2" cy="391.0" r="6"/>
<circle cx="2642.7" cy="391.3" r="6"/>
<circle cx="2721.3" cy="423.5" r="6"/>
<circle cx="2625.6" cy="430.6" r="6"/>
<circle cx="2653.9" cy="348.1" r="6"/>
<circle cx="2670.6" cy="332.3" r="6"/>
<circle cx="2680.3" cy="395.4" r="6"/>
<circle cx="2669.0" cy="404.3" r="6"/>
<circle cx="2662.7" cy="385.1" r="6"/>
<circle cx="2600.8" cy="386.5" r="6"/>
<circle cx="2633.2" cy="368.8" r="6"/>
<circle cx="2674.8" cy="391.9" r="6"/>
<circle cx="2663.4" cy="402.1" r="6"/>
<circle cx="2699.8" cy="417.1" r="6"/>
<circle cx="2751.6" cy="402.9" r="6"/>
<circle cx="2678.9" cy="347.9" r="6"/>
<circle cx="2628.0" cy="368.2" r="6"/>
<circle cx="2694.7" cy="392.9" r="6"/>
<circle cx="2680.2" cy="379.5" r="6"/>
<circle cx="2714.7" cy="392.5" r="6"/>
<circle cx="2696.4" cy="396.1" r="6"/>
<circle cx="2650.0" cy="347.9" r="6"/>
<circle cx="2707.0" cy="400.0" r="6"/>
<circle cx="2667.9" cy="370.0" r="6"/>
<circle cx="2668.0" cy="394.6" r="6"/>
<circle cx="2616.5" cy="389.2" r="6"/>
<circle cx="2714.8" cy="406.3" r="6"/>
<circle cx="2686.2" cy="419.5" r="6"/>
<circle cx="2671.4" cy="369.8" r="6"/>
<circle cx="2685.6" cy="417.6" r="6"/>
<circle cx="2698.2" cy="409.3" r="6"/>
<circle cx="2662.5" cy="354.5" r="6"/>
<circle cx="2695.3" cy="349.5" r="6"/>
<circle cx="2719.9" cy="366.1" r="6"/>
<circle cx="2732.8" cy="434.0" r="6"/>
<circle cx="2641.6" cy="334.2" r="6"/>
<circle cx="2646.0" cy="377.1" r="6"/>
<circle cx="2736.9" cy="330.2" r="6"/>
<circle cx="2712.9" cy="404.7" r="6"/>
<circle cx="2679.3" cy="342.7" r="6"/>
<circle cx="2709.4" cy="398.8" r="6"/>
<circle cx="2720.0" cy="400.3" r="6"/>
<circle cx="2617.2" cy="371.5" r="6"/>
<circle cx="2644.0" cy="410.0" r="6"/>
<circle cx="2662.5" cy="447.6" r="6"/>
<circle cx="2763.6" cy="412.7" r="6"/>
<circle cx="2658.8" cy="407.2" r="6"/>
<circle cx="2724.6" cy="346.6" r="6"/>
<circle cx="2699.2" cy="410.4" r="6"/>
<circle cx="2691.9" cy="441.6" r="6"/>
<circle cx="2746.8" cy="355.3" r="6"/>
<circle cx="2686.8" cy="354.9" r="6"/>
<circle cx="2711.9" cy="353.8" r="6"/>
<circle cx="2730.8" cy="399.0" r="6"/>
<circle cx="2733.4" cy="379.8" r="6"/>
<circle cx="2670.5" cy="434.6" r="6"/>
<circle cx="2703.7" cy="409.3" r="6"/>
<circle cx="2780.6" cy="397.2" r="6"/>
<circle cx="2727.9" cy="376.3" r="6"/>
<circle cx="2672.6" cy="385.3" r="6"/>
<circle cx="2699.1" cy="444.7" r="6"/>
<circle cx="2578.0" cy="386.6" r="6"/>
<circle cx="2640.6" cy="427.0" r="6"/>
<circle cx="2656.7" cy="401.4" r="6"/>
<circle cx="2658.1" cy="409.1" r="6"/>
<circle cx="2735.8" cy="370.7" r="6"/>
<circle cx="2682.7" cy="333.9" r="6"/>
<circle cx="2696.8" cy="415.8" r="6"/>
<circle cx="2649.5" cy="425.3" r="6"/>
<circle cx="2603.6" cy="367.5" r="6"/>
<circle cx="2681.0" cy="382.2" r="6"/>
<circle cx="2676.3" cy="411.0" r="6"/>
<circle cx="2654.0" cy="339.5" r="6"/>
<circle cx="2760.2" cy="402.4" r="6"/>
<circle cx="2634.4" cy="385.1" r="6"/>
<circle cx="2727.5" cy="428.5" r="6"/>
<circle cx="2630.5" cy="412.4" r="6"/>
<circle cx="2693.9" cy="424.8" r="6"/>
<circle cx="2756.5" cy="372.6" r="6"/>
<circle cx="2600.3" cy="399.3" r="6"/>
<circle cx="2777.7" cy="409.7" r="6"/>
<circle cx="2622.8" cy="417.5" r="6"/>
<circle cx="2648.6" cy="386.8" r="6"/>
<circle cx="2684.9" cy="439.5" r="6"/>
<circle cx="2628.5" cy="365.7" r="6"/>
<circle cx="2592.4" cy="402.5" r="6"/>
<circle cx="2654.8" cy="400.2" r="6"/>
<circle cx="2621.0" cy="372.1" r="6"/>
<circle cx="2737.1" cy="378.7" r="6"/>
<circle cx="2583.4" cy="210.2" r="6"/>
<circle cx="2663.9" cy="240.6" r="6"/>
<circle cx="2597.9" cy="244.8" r="6"/>
<circle cx="2770.5" cy="237.3" r="6"/>
<circle cx="2493.8" cy="273.7" r="6"/>
<circle cx="2475.3" cy="285.2" r="6"/>
<circle cx="2486.4" cy="284.0" r="6"/>
<circle cx="2445.1" cy="320.3" r="6"/>
<circle cx="2473.2" cy="318.3" r="6"/>
<circle cx="2482.3" cy="319.9" r="6"/>
<circle cx="2359.7" cy="338.9" r="6"/>
<circle cx="2416.2" cy="358.3" r="6"/>
<circle cx="2449.3" cy="359.6" r="6"/>
<circle cx="2444.3" cy="373.6" r="6"/>
<circle cx="2400.9" cy="385.2" r="6"/>
<circle cx="2400.9" cy="405.8" r="6"/>
<circle cx="2449.3" cy="409.9" r="6"/>
<circle cx="2467.8" cy="405.8" r="6"/>
<circle cx="2494.7" cy="371.9" r="6"/>
<circle cx="2500.9" cy="376.1" r="6"/>
<circle cx="2505.0" cy="392.2" r="6"/>
<circle cx="2502.1" cy="416.9" r="6"/>
<circle cx="2467.8" cy="435.9" r="6"/>
<circle cx="2485.6" cy="435.9" r="6"/>
<circle cx="2525.6" cy="426.4" r="6"/>
<circle cx="2571.1" cy="294.3" r="6"/>
<circle cx="2588.8" cy="300.5" r="6"/>
<circle cx="2588.8" cy="310.8" r="6"/>
<circle cx="2635.0" cy="297.2" r="6"/>
<circle cx="2674.3" cy="297.2" r="6"/>
<circle cx="2679.6" cy="277.8" r="6"/>
<circle cx="2694.1" cy="271.6" r="6"/>
<circle cx="2720.5" cy="278.6" r="6"/>
<circle cx="2733.3" cy="292.3" r="6"/>
<circle cx="2754.0" cy="300.5" r="6"/>
<circle cx="2754.0" cy="273.7" r="6"/>
<circle cx="2758.9" cy="271.6" r="6"/>
<circle cx="2662.7" cy="304.6" r="6"/>
<circle cx="2705.2" cy="315.0" r="6"/>
<circle cx="2727.1" cy="316.2" r="6"/>
<circle cx="2741.2" cy="326.5" r="6"/>
<circle cx="2761.8" cy="319.9" r="6"/>
<circle cx="2787.0" cy="319.9" r="6"/>
<circle cx="2800.2" cy="335.6" r="6"/>
<circle cx="2770.5" cy="334.8" r="6"/>
<circle cx="2746.5" cy="338.5" r="6"/>
<circle cx="2562.8" cy="328.6" r="6"/>
<circle cx="2584.7" cy="331.5" r="6"/>
<circle cx="2618.5" cy="327.3" r="6"/>
<circle cx="2626.8" cy="321.2" r="6"/>
<circle cx="2636.3" cy="335.6" r="6"/>
<circle cx="2555.8" cy="343.0" r="6"/>
<circle cx="2573.1" cy="341.8" r="6"/>
<circle cx="2582.6" cy="343.9" r="6"/>
<circle cx="2575.2" cy="352.1" r="6"/>
<circle cx="2560.7" cy="362.4" r="6"/>
<circle cx="2544.2" cy="362.4" r="6"/>
<circle cx="2542.1" cy="371.5" r="6"/>
<circle cx="2554.5" cy="374.8" r="6"/>
<circle cx="2548.3" cy="385.2" r="6"/>
<circle cx="2515.3" cy="352.1" r="6"/>
<circle cx="2525.6" cy="351.3" r="6"/>
<circle cx="2531.8" cy="395.5" r="6"/>
<circle cx="2544.2" cy="396.7" r="6"/>
<circle cx="2550.4" cy="412.0" r="6"/>
<circle cx="2564.9" cy="409.9" r="6"/>
<circle cx="2572.3" cy="403.7" r="6"/>
<circle cx="2577.2" cy="422.3" r="6"/>
<circle cx="2579.3" cy="430.6" r="6"/>
<circle cx="2602.0" cy="343.9" r="6"/>
<circle cx="2610.3" cy="352.1" r="6"/>
<circle cx="2604.1" cy="362.4" r="6"/>
<circle cx="2618.5" cy="360.4" r="6"/>
<circle cx="2614.4" cy="339.7" r="6"/>
<circle cx="2626.8" cy="370.7" r="6"/>
<circle cx="2639.2" cy="358.3" r="6"/>
<circle cx="2657.8" cy="343.9" r="6"/>
<circle cx="2665.2" cy="319.1" r="6"/>
<circle cx="2672.2" cy="319.1" r="6"/>
<circle cx="2668.1" cy="333.5" r="6"/>
<circle cx="2682.5" cy="337.7" r="6"/>
<circle cx="2697.0" cy="331.5" r="6"/>
<circle cx="2703.2" cy="339.7" r="6"/>
<circle cx="2686.7" cy="348.0" r="6"/>
<circle cx="2666.0" cy="356.3" r="6"/>
<circle cx="2678.4" cy="364.5" r="6"/>
<circle cx="2692.9" cy="362.4" r="6"/>
<circle cx="2701.1" cy="356.3" r="6"/>
<circle cx="2725.9" cy="343.9" r="6"/>
<circle cx="2734.1" cy="352.1" r="6"/>
<circle cx="2730.0" cy="364.5" r="6"/>
<circle cx="2744.5" cy="362.4" r="6"/>
<circle cx="2758.9" cy="348.0" r="6"/>
<circle cx="2775.4" cy="364.5" r="6"/>
<circle cx="2783.7" cy="348.0" r="6"/>
<circle cx="2791.9" cy="360.4" r="6"/>
<circle cx="2783.7" cy="339.7" r="6"/>
<circle cx="2791.9" cy="368.6" r="6"/>
<circle cx="2779.6" cy="385.2" r="6"/>
<circle cx="2763.0" cy="376.9" r="6"/>
<circle cx="2748.6" cy="370.7" r="6"/>
<circle cx="2738.3" cy="376.9" r="6"/>
<circle cx="2717.6" cy="376.9" r="6"/>
<circle cx="2711.4" cy="385.2" r="6"/>
<circle cx="2701.1" cy="389.3" r="6"/>
<circle cx="2688.7" cy="389.3" r="6"/>
<circle cx="2682.5" cy="401.7" r="6"/>
<circle cx="2672.2" cy="414.1" r="6"/>
<circle cx="2659.8" cy="407.9" r="6"/>
<circle cx="2655.7" cy="393.4" r="6"/>
<circle cx="2649.5" cy="381.0" r="6"/>
<circle cx="2639.2" cy="389.3" r="6"/>
<circle cx="2635.0" cy="401.7" r="6"/>
<circle cx="2643.3" cy="414.1" r="6"/>
<circle cx="2626.8" cy="414.1" r="6"/>
<circle cx="2618.5" cy="401.7" r="6"/>
<circle cx="2610.3" cy="422.3" r="6"/>
<circle cx="2597.9" cy="401.7" r="6"/>
<circle cx="2602.0" cy="409.9" r="6"/>
<circle cx="2585.5" cy="385.2" r="6"/>
<circle cx="2597.9" cy="387.2" r="6"/>
<circle cx="2581.4" cy="370.7" r="6"/>
<circle cx="2597.9" cy="372.8" r="6"/>
<circle cx="2610.3" cy="381.0" r="6"/>
<circle cx="2593.8" cy="414.1" r="6"/>
<circle cx="2622.7" cy="430.6" r="6"/>
<circle cx="2637.1" cy="426.4" r="6"/>
<circle cx="2655.7" cy="424.4" r="6"/>
<circle cx="2668.1" cy="430.6" r="6"/>
<circle cx="2680.5" cy="432.6" r="6"/>
<circle cx="2692.9" cy="422.3" r="6"/>
<circle cx="2705.2" cy="414.1" r="6"/>
<circle cx="2715.6" cy="405.8" r="6"/>
<circle cx="2725.9" cy="409.9" r="6"/>
<circle cx="2736.2" cy="422.3" r="6"/>
<circle cx="2721.8" cy="430.6" r="6"/>
<circle cx="2750.7" cy="397.5" r="6"/>
<circle cx="2767.2" cy="416.1" r="6"/>
<circle cx="2780.8" cy="416.1" r="6"/>
<circle cx="2779.6" cy="432.6" r="6"/>
<circle cx="2754.8" cy="434.7" r="6"/>
<circle cx="2705.2" cy="434.7" r="6"/>
<circle cx="2647.4" cy="434.7" r="6"/>
<circle cx="2837.3" cy="305.9" r="6"/>
<circle cx="2894.7" cy="304.6" r="6"/>
<circle cx="2877.3" cy="335.6" r="6"/>
<circle cx="2864.9" cy="347.2" r="6"/>
<circle cx="2934.3" cy="343.9" r="6"/>
<circle cx="2860.8" cy="359.6" r="6"/>
<circle cx="2875.3" cy="368.6" r="6"/>
<circle cx="2821.6" cy="364.5" r="6"/>
<circle cx="2815.4" cy="366.6" r="6"/>
<circle cx="2836.9" cy="384.3" r="6"/>
<circle cx="2898.0" cy="376.9" r="6"/>
<circle cx="2891.8" cy="391.3" r="6"/>
<circle cx="2877.3" cy="414.1" r="6"/>
<circle cx="2906.2" cy="423.1" r="6"/>
<circle cx="2988.8" cy="343.9" r="6"/>
<circle cx="2467.8" cy="437.2" r="6"/>
<circle cx="2485.6" cy="437.2" r="6"/>
<circle cx="2547.5" cy="449.5" r="6"/>
<circle cx="2554.5" cy="445.4" r="6"/>
<circle cx="2566.9" cy="447.5" r="6"/>
<circle cx="2566.1" cy="468.1" r="6"/>
<circle cx="2591.7" cy="469.4" r="6"/>
<circle cx="2607.4" cy="473.5" r="6"/>
<circle cx="2580.5" cy="497.0" r="6"/>
<circle cx="2597.1" cy="509.4" r="6"/>
<circle cx="2613.6" cy="454.9" r="6"/>
<circle cx="2628.9" cy="455.7" r="6"/>
<circle cx="2635.0" cy="459.9" r="6"/>
<circle cx="2639.2" cy="478.4" r="6"/>
<circle cx="2649.5" cy="457.8" r="6"/>
<circle cx="2651.6" cy="453.7" r="6"/>
<circle cx="2663.9" cy="449.5" r="6"/>
<circle cx="2668.1" cy="453.7" r="6"/>
<circle cx="2668.9" cy="488.8" r="6"/>
<circle cx="2672.2" cy="497.0" r="6"/>
<circle cx="2649.5" cy="501.2" r="6"/>
<circle cx="2661.9" cy="507.3" r="6"/>
<circle cx="2637.1" cy="509.4" r="6"/>
<circle cx="2651.6" cy="518.5" r="6"/>
<circle cx="2694.9" cy="443.4" r="6"/>
<circle cx="2710.2" cy="453.7" r="6"/>
<circle cx="2722.6" cy="469.4" r="6"/>
<circle cx="2729.2" cy="488.8" r="6"/>
<circle cx="2705.2" cy="499.1" r="6"/>
<circle cx="2763.9" cy="461.1" r="6"/>
<circle cx="2800.2" cy="453.7" r="6"/>
<circle cx="2802.3" cy="455.7" r="6"/>
<circle cx="2800.2" cy="510.7" r="6"/>
<circle cx="2812.6" cy="488.8" r="6"/>
<circle cx="2616.5" cy="589.9" r="6"/>
<circle cx="2780.8" cy="439.2" r="6"/>
<circle cx="2758.9" cy="439.2" r="6"/>
<circle cx="2721.8" cy="439.2" r="6"/>
<circle cx="2635.0" cy="445.4" r="6"/>
<circle cx="2643.3" cy="441.3" r="6"/>
<circle cx="2905.0" cy="475.1" r="6"/>
<circle cx="2816.2" cy="488.8" r="6"/>
</g>
<g fill="#619CFF">
<circle cx="2991.3" cy="394.8" r="6"/>
<circle cx="2942.3" cy="336.3" r="6"/>
<circle cx="3009.3" cy="384.8" r="6"/>
<circle cx="2916.2" cy="409.2" r="6"/>
<circle cx="2988.3" cy="379.0" r="6"/>
<circle cx="2966.6" cy="401.3" r="6"/>
<circle cx="2944.9" cy="391.1" r="6"/>
<circle cx="2940.8" cy="418.0" r="6"/>
<circle cx="2940.2" cy="376.0" r="6"/>
<circle cx="2929.7" cy="366.4" r="6"/>
<circle cx="3016.2" cy="372.5" r="6"/>
<circle cx="2868.8" cy="402.3" r="6"/>
<circle cx="3002.6" cy="392.9" r="6"/>
<circle cx="2920.8" cy="400.6" r="6"/>
<circle cx="2888.0" cy="348.9" r="6"/>
<circle cx="3003.9" cy="342.7" r="6"/>
<circle cx="2902.4" cy="353.4" r="6"/>
<circle cx="2969.8" cy="370.5" r="6"/>
<circle cx="3003.1" cy="360.1" r="6"/>
<circle cx="2895.5" cy="365.9" r="6"/>
<circle cx="2961.7" cy="353.8" r="6"/>
<circle cx="2973.7" cy="430.7" r="6"/>
<circle cx="2930.6" cy="381.0" r="6"/>
<circle cx="3027.2" cy="361.6" r="6"/>
<circle cx="2917.1" cy="349.0" r="6"/>
<circle cx="2979.3" cy="394.0" r="6"/>
<circle cx="2951.8" cy="380.7" r="6"/>
<circle cx="3022.9" cy="403.8" r="6"/>
<circle cx="2889.0" cy="379.2" r="6"/>
<circle cx="2964.2" cy="399.5" r="6"/>
<circle cx="2947.7" cy="361.3" r="6"/>
<circle cx="2935.8" cy="329.5" r="6"/>
<circle cx="2957.4" cy="362.5" r="6"/>
<circle cx="2981.9" cy="350.5" r="6"/>
<circle cx="2936.7" cy="351.7" r="6"/>
<circle cx="2852.5" cy="220.6" r="6"/>
<circle cx="2862.9" cy="228.0" r="6"/>
<circle cx="3193.2" cy="223.5" r="6"/>
<circle cx="2742.4" cy="395.5" r="6"/>
<circle cx="2785.7" cy="326.5" r="6"/>
<circle cx="2799.4" cy="351.3" r="6"/>
<circle cx="2789.9" cy="403.7" r="6"/>
<circle cx="2798.1" cy="420.2" r="6"/>
<circle cx="2808.5" cy="292.3" r="6"/>
<circle cx="2806.4" cy="302.6" r="6"/>
<circle cx="2810.5" cy="383.1" r="6"/>
<circle cx="3193.2" cy="224.1" r="6"/>
<circle cx="3259.2" cy="253.0" r="6"/>
<circle cx="3153.9" cy="268.7" r="6"/>
<circle cx="3073.4" cy="243.9" r="6"/>
<circle cx="3028.0" cy="240.6" r="6"/>
<circle cx="3044.5" cy="238.6" r="6"/>
<circle cx="3011.5" cy="263.4" r="6"/>
<circle cx="3026.0" cy="277.8" r="6"/>
<circle cx="3000.4" cy="277.8" r="6"/>
<circle cx="2953.7" cy="279.9" r="6"/>
<circle cx="2922.7" cy="235.7" r="6"/>
<circle cx="2860.8" cy="228.3" r="6"/>
<circle cx="2852.5" cy="222.1" r="6"/>
<circle cx="2904.2" cy="271.6" r="6"/>
<circle cx="2881.4" cy="284.0" r="6"/>
<circle cx="2873.2" cy="294.3" r="6"/>
<circle cx="2842.2" cy="283.2" r="6"/>
<circle cx="2811.3" cy="290.2" r="6"/>
<circle cx="2807.1" cy="302.6" r="6"/>
<circle cx="2921.5" cy="297.2" r="6"/>
<circle cx="2887.6" cy="304.6" r="6"/>
<circle cx="2885.6" cy="312.9" r="6"/>
<circle cx="2889.7" cy="321.2" r="6"/>
<circle cx="2836.0" cy="333.5" r="6"/>
<circle cx="2898.0" cy="335.6" r="6"/>
<circle cx="2937.2" cy="321.2" r="6"/>
<circle cx="2950.4" cy="308.8" r="6"/>
<circle cx="2964.0" cy="299.3" r="6"/>
<circle cx="2976.4" cy="312.9" r="6"/>
<circle cx="2950.8" cy="326.5" r="6"/>
<circle cx="2965.3" cy="328.2" r="6"/>
<circle cx="2919.8" cy="337.7" r="6"/>
<circle cx="2928.9" cy="335.6" r="6"/>
<circle cx="2944.6" cy="347.2" r="6"/>
<circle cx="2898.0" cy="352.1" r="6"/>
<circle cx="2868.2" cy="358.3" r="6"/>
<circle cx="2842.2" cy="362.4" r="6"/>
<circle cx="2842.2" cy="368.6" r="6"/>
<circle cx="2829.8" cy="379.0" r="6"/>
<circle cx="2813.3" cy="383.1" r="6"/>
<circle cx="2854.6" cy="395.5" r="6"/>
<circle cx="2862.9" cy="401.7" r="6"/>
<circle cx="2867.0" cy="409.9" r="6"/>
<circle cx="2831.9" cy="409.9" r="6"/>
<circle cx="2815.4" cy="416.1" r="6"/>
<circle cx="2860.8" cy="432.6" r="6"/>
<circle cx="2900.0" cy="372.8" r="6"/>
<circle cx="2891.8" cy="387.2" r="6"/>
<circle cx="2906.2" cy="391.3" r="6"/>
<circle cx="2900.0" cy="409.9" r="6"/>
<circle cx="2924.8" cy="370.7" r="6"/>
<circle cx="2935.1" cy="364.5" r="6"/>
<circle cx="2926.9" cy="385.2" r="6"/>
<circle cx="2939.3" cy="387.2" r="6"/>
<circle cx="2924.8" cy="407.9" r="6"/>
<circle cx="2933.1" cy="399.6" r="6"/>
<circle cx="2953.7" cy="376.9" r="6"/>
<circle cx="2966.1" cy="354.2" r="6"/>
<circle cx="2972.3" cy="387.2" r="6"/>
<circle cx="2975.6" cy="401.7" r="6"/>
<circle cx="2957.8" cy="409.9" r="6"/>
<circle cx="2964.0" cy="407.9" r="6"/>
<circle cx="2982.6" cy="420.2" r="6"/>
<circle cx="2990.9" cy="416.1" r="6"/>
<circle cx="2999.1" cy="401.7" r="6"/>
<circle cx="3007.4" cy="395.5" r="6"/>
<circle cx="2992.9" cy="393.4" r="6"/>
<circle cx="3009.4" cy="426.4" r="6"/>
<circle cx="2995.0" cy="434.7" r="6"/>
<circle cx="2972.3" cy="434.7" r="6"/>
<circle cx="2955.8" cy="436.8" r="6"/>
<circle cx="3040.4" cy="343.9" r="6"/>
<circle cx="3050.7" cy="348.0" r="6"/>
<circle cx="3063.1" cy="343.9" r="6"/>
<circle cx="3042.5" cy="360.4" r="6"/>
<circle cx="3046.6" cy="364.5" r="6"/>
<circle cx="3030.1" cy="341.8" r="6"/>
<circle cx="3028.0" cy="352.1" r="6"/>
<circle cx="3013.6" cy="304.6" r="6"/>
<circle cx="3032.1" cy="304.6" r="6"/>
<circle cx="3044.5" cy="304.6" r="6"/>
<circle cx="3047.8" cy="321.2" r="6"/>
<circle cx="3017.7" cy="331.5" r="6"/>
<circle cx="3028.0" cy="323.2" r="6"/>
<circle cx="3042.5" cy="335.6" r="6"/>
<circle cx="3003.2" cy="323.2" r="6"/>
<circle cx="3071.4" cy="329.4" r="6"/>
<circle cx="3073.4" cy="356.3" r="6"/>
<circle cx="2988.8" cy="352.1" r="6"/>
<circle cx="2984.7" cy="360.4" r="6"/>
<circle cx="2997.1" cy="366.6" r="6"/>
<circle cx="3005.3" cy="362.4" r="6"/>
<circle cx="3031.3" cy="376.1" r="6"/>
<circle cx="3026.0" cy="387.2" r="6"/>
<circle cx="3019.8" cy="393.4" r="6"/>
<circle cx="3038.3" cy="407.9" r="6"/>
<circle cx="3021.8" cy="416.1" r="6"/>
<circle cx="3059.0" cy="387.2" r="6"/>
<circle cx="3063.1" cy="376.9" r="6"/>
<circle cx="3075.5" cy="387.2" r="6"/>
<circle cx="3071.4" cy="401.7" r="6"/>
<circle cx="3067.2" cy="409.9" r="6"/>
<circle cx="3063.1" cy="420.2" r="6"/>
<circle cx="3077.6" cy="420.2" r="6"/>
<circle cx="3073.4" cy="434.7" r="6"/>
<circle cx="3042.5" cy="434.7" r="6"/>
<circle cx="3092.0" cy="395.5" r="6"/>
<circle cx="3087.9" cy="360.4" r="6"/>
<circle cx="3100.3" cy="359.6" r="6"/>
<circle cx="3092.0" cy="366.6" r="6"/>
<circle cx="3106.5" cy="297.6" r="6"/>
<circle cx="3106.5" cy="312.9" r="6"/>
<circle cx="3116.8" cy="321.2" r="6"/>
<circle cx="3123.0" cy="329.4" r="6"/>
<circle cx="3133.3" cy="348.0" r="6"/>
<circle cx="3167.2" cy="343.9" r="6"/>
<circle cx="3182.0" cy="352.1" r="6"/>
<circle cx="3180.0" cy="367.8" r="6"/>
<circle cx="3176.7" cy="325.3" r="6"/>
<circle cx="3189.0" cy="304.6" r="6"/>
<circle cx="3190.3" cy="318.3" r="6"/>
<circle cx="3140.7" cy="399.6" r="6"/>
<circle cx="3133.3" cy="420.2" r="6"/>
<circle cx="3139.5" cy="420.2" r="6"/>
<circle cx="3151.9" cy="422.3" r="6"/>
<circle cx="3164.3" cy="420.2" r="6"/>
<circle cx="3079.6" cy="284.0" r="6"/>
<circle cx="3064.4" cy="287.3" r="6"/>
<circle cx="2848.4" cy="442.1" r="6"/>
<circle cx="2885.6" cy="444.2" r="6"/>
<circle cx="2882.7" cy="455.7" r="6"/>
<circle cx="2918.6" cy="447.5" r="6"/>
<circle cx="2946.3" cy="449.5" r="6"/>
<circle cx="3006.6" cy="444.2" r="6"/>
<circle cx="3041.2" cy="447.5" r="6"/>
<circle cx="3104.4" cy="457.0" r="6"/>
<circle cx="3116.0" cy="473.1" r="6"/>
<circle cx="3153.9" cy="445.4" r="6"/>
<circle cx="3169.6" cy="455.7" r="6"/>
<circle cx="3242.7" cy="461.9" r="6"/>
<circle cx="3243.5" cy="470.2" r="6"/>
<circle cx="3205.6" cy="500.3" r="6"/>
<circle cx="2849.7" cy="473.5" r="6"/>
<circle cx="2949.6" cy="476.4" r="6"/>
<circle cx="2934.3" cy="490.0" r="6"/>
<circle cx="2925.6" cy="506.1" r="6"/>
<circle cx="2975.6" cy="466.1" r="6"/>
<circle cx="2980.5" cy="485.5" r="6"/>
<circle cx="3003.2" cy="469.4" r="6"/>
<circle cx="3045.8" cy="481.8" r="6"/>
<circle cx="3070.1" cy="481.8" r="6"/>
</g>
</svg>
<path d="M2344.50 618.5v7M2590.30 618.5v7M2836.10 618.5v7M3081.90 618.5v7M2313.25 497.10h-7M2313.25 328.60h-7M2313.25 160.10h-7" stroke="#333" stroke-width="2" fill="none"/>
<text x="2343.70" y="654.00" font-size="25.5" fill="#4D4D4D" text-anchor="middle">-4</text>
<text x="2589.50" y="654.00" font-size="25.5" fill="#4D4D4D" text-anchor="middle">-2</text>
<text x="2835.30" y="654.00" font-size="25.5" fill="#4D4D4D" text-anchor="middle">0</text>
<text x="3081.10" y="654.00" font-size="25.5" fill="#4D4D4D" text-anchor="middle">2</text>
<text x="2298.80" y="507.90" font-size="25.5" fill="#4D4D4D" text-anchor="end">-2.5</text>
<text x="2298.80" y="339.40" font-size="25.5" fill="#4D4D4D" text-anchor="end">0.0</text>
<text x="2298.80" y="170.90" font-size="25.5" fill="#4D4D4D" text-anchor="end">2.5</text>
<text x="2769.83" y="690.80" font-size="31" fill="#000">Dim</text><path transform="translate(2824.93 690.80) scale(0.01514 -0.01514)" d="M763 0H583V1147Q518 1085 412 1023Q306 961 222 930V1104Q372 1175 484 1276Q596 1377 643 1440H763Z" fill="#000"/>
<text transform="translate(2244.5 314.5) rotate(-90)" font-size="31" fill="#000" text-anchor="middle">Dim2</text>
<rect x="0" y="711" width="1102" height="9" fill="#000"/>
<rect x="1102" y="0" width="1101" height="10" fill="#000"/>
<rect x="2205" y="711" width="1272" height="9" fill="#000"/>
<text x="3349.3" y="245.5" font-size="31" fill="#000">Cluster</text>
<rect x="3349.5" y="263" width="50" height="147" fill="#EBEBEB"/>
<circle cx="3376" cy="287.6" r="6" fill="#F8766D"/>
<path transform="translate(3413.80 298.80) scale(0.01245 -0.01245)" d="M763 0H583V1147Q518 1085 412 1023Q306 961 222 930V1104Q372 1175 484 1276Q596 1377 643 1440H763Z" fill="#000"/>
<circle cx="3376" cy="337.6" r="6" fill="#00BA38"/>
<text x="3413.80" y="348.80" font-size="25.5" fill="#000">2</text>
<circle cx="3376" cy="387.6" r="6" fill="#619CFF"/>
<text x="3413.80" y="398.80" font-size="25.5" fill="#000">3</text>
</svg></body></html>
